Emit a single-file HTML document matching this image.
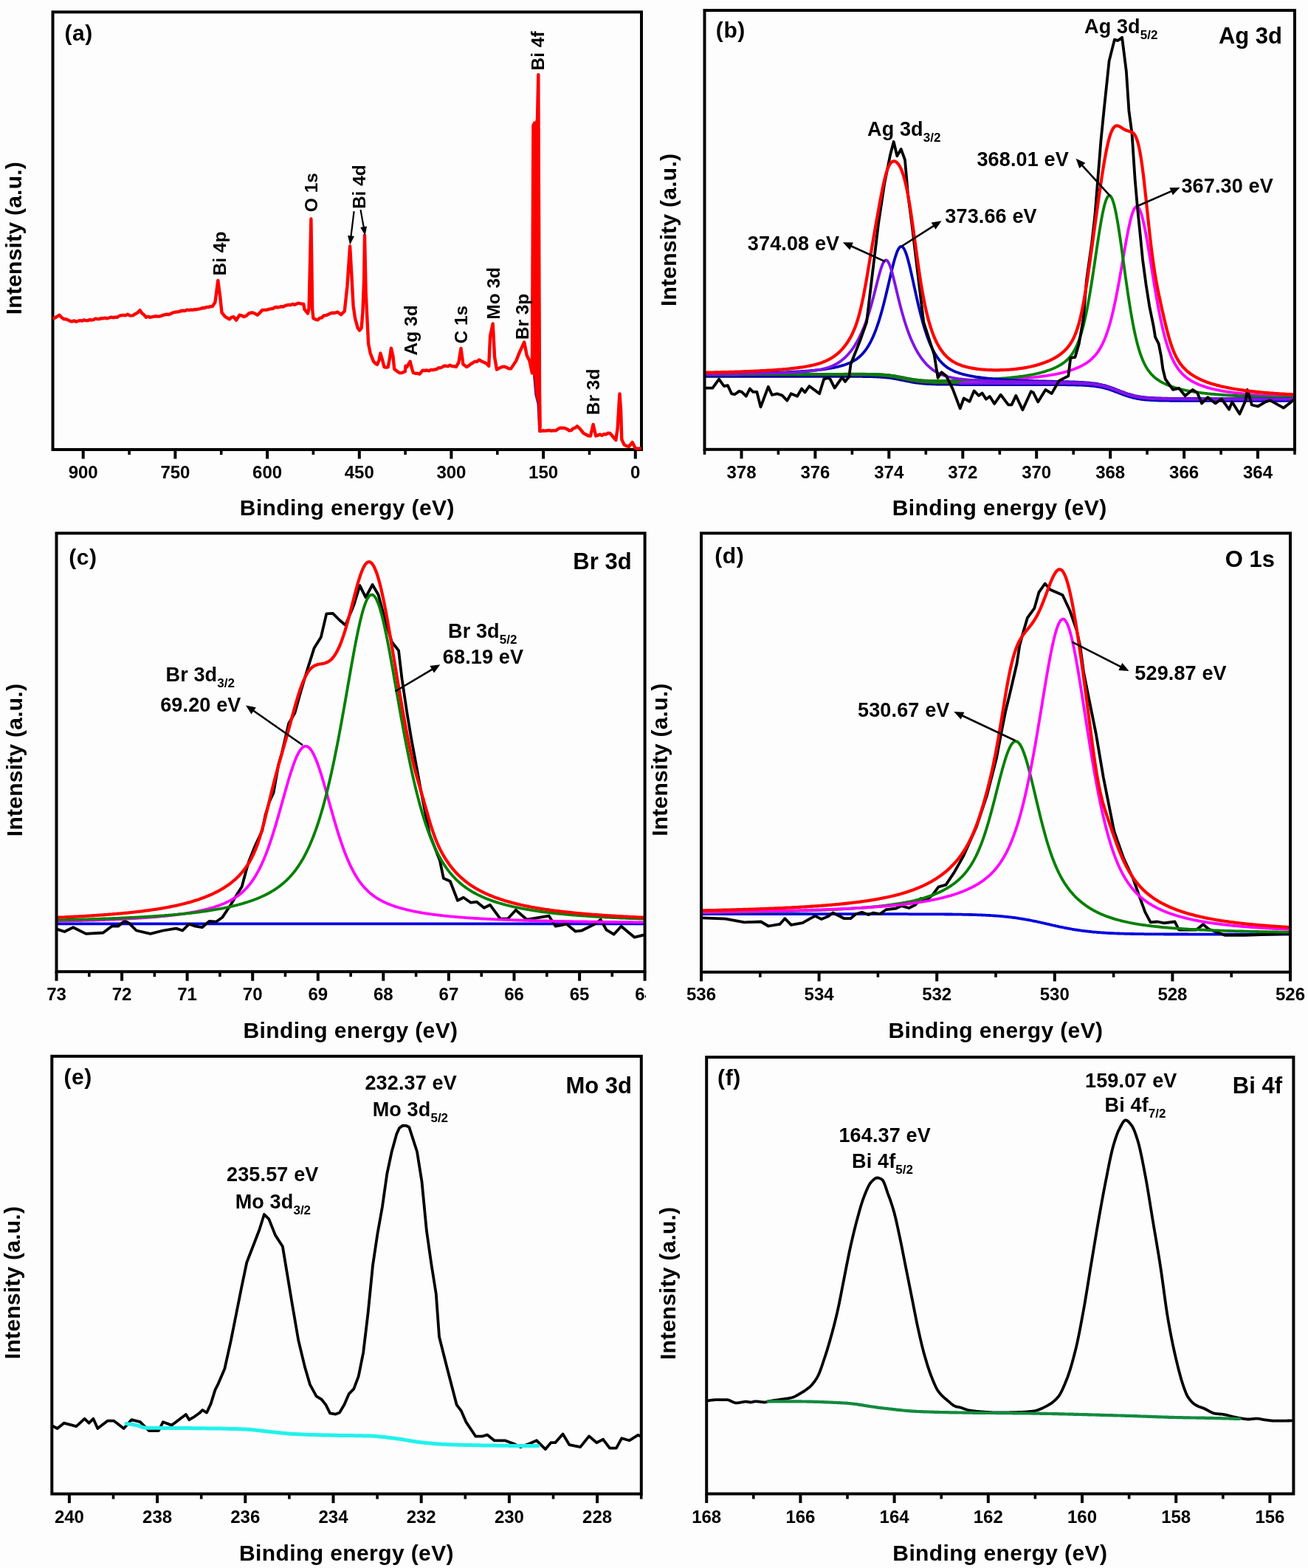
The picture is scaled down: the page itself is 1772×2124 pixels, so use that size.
<!DOCTYPE html>
<html><head><meta charset="utf-8"><title>XPS spectra</title>
<style>html,body{margin:0;padding:0;background:#fdfdfd;}svg{display:block;}</style></head>
<body>
<svg xmlns="http://www.w3.org/2000/svg" width="1772" height="2124" viewBox="0 0 1772 2124">
<rect width="1772" height="2124" fill="#fdfdfd"/>
<defs><clipPath id="clipc"><rect x="0" y="1320" width="875" height="60"/></clipPath></defs>
<g font-family="Liberation Sans, Arial, Helvetica, sans-serif" font-weight="bold" fill="#000">
<rect x="71.5" y="16.3" width="797.5" height="592.7" fill="none" stroke="#000" stroke-width="4"/>
<line x1="112.7" y1="609" x2="112.7" y2="621.5" stroke="#000" stroke-width="4"/>
<line x1="237.4" y1="609" x2="237.4" y2="621.5" stroke="#000" stroke-width="4"/>
<line x1="362.1" y1="609" x2="362.1" y2="621.5" stroke="#000" stroke-width="4"/>
<line x1="486.8" y1="609" x2="486.8" y2="621.5" stroke="#000" stroke-width="4"/>
<line x1="611.4" y1="609" x2="611.4" y2="621.5" stroke="#000" stroke-width="4"/>
<line x1="736.1" y1="609" x2="736.1" y2="621.5" stroke="#000" stroke-width="4"/>
<line x1="860.8" y1="609" x2="860.8" y2="621.5" stroke="#000" stroke-width="4"/>
<line x1="175.1" y1="609" x2="175.1" y2="616" stroke="#000" stroke-width="3.6"/>
<line x1="299.7" y1="609" x2="299.7" y2="616" stroke="#000" stroke-width="3.6"/>
<line x1="424.4" y1="609" x2="424.4" y2="616" stroke="#000" stroke-width="3.6"/>
<line x1="549.1" y1="609" x2="549.1" y2="616" stroke="#000" stroke-width="3.6"/>
<line x1="673.8" y1="609" x2="673.8" y2="616" stroke="#000" stroke-width="3.6"/>
<line x1="798.5" y1="609" x2="798.5" y2="616" stroke="#000" stroke-width="3.6"/>
<text x="112.7" y="647.5" font-size="24" text-anchor="middle" >900</text>
<text x="237.4" y="647.5" font-size="24" text-anchor="middle" >750</text>
<text x="362.1" y="647.5" font-size="24" text-anchor="middle" >600</text>
<text x="486.8" y="647.5" font-size="24" text-anchor="middle" >450</text>
<text x="611.4" y="647.5" font-size="24" text-anchor="middle" >300</text>
<text x="736.1" y="647.5" font-size="24" text-anchor="middle" >150</text>
<text x="860.8" y="647.5" font-size="24" text-anchor="middle" >0</text>
<text x="470.3" y="697.8" font-size="30" text-anchor="middle" letter-spacing="0.4">Binding energy (eV)</text>
<text x="29" y="322.6" font-size="30" text-anchor="middle" transform="rotate(-90 29 322.6)" letter-spacing="0.25">Intensity (a.u.)</text>
<text x="87.5" y="55.3" font-size="30" text-anchor="start" letter-spacing="0.6">(a)</text>
<polygon points="721.2,505 722.4,170 724.6,166 726.6,160 727.6,110 729.3,101 731.4,300 732.8,516 733.8,578 732.5,584 729.3,578 727.8,547 724.8,535 722.3,509" fill="#f00"/>
<polyline points="722.8,508.6 725,535.2 728.1,546.7 729.6,577.1 732,582.5" fill="none" stroke="#4a1070" stroke-width="1.6" stroke-opacity="0.75"/>
<path d="M73.5,431 L77,429 L80.4,426.7 L83.4,429.9 L86.4,432.2 L89.2,432.3 L92,433.4 L94.8,434.9 L97.6,435.5 L100.4,434.4 L103.2,435.8 L105.8,434.8 L108.4,434.2 L111,434.7 L113.6,433.5 L116.2,434.1 L118.9,434.2 L121.5,433 L124.1,433.6 L126.7,433.1 L129.3,431.5 L131.9,432.2 L134.6,432.1 L137.2,431.1 L139.9,431.2 L142.6,430.7 L145.2,431.3 L147.9,430.5 L150.6,429.6 L153.2,430.2 L155.9,429.8 L158.7,429.8 L161.5,428 L164.3,427.2 L167.1,426.9 L169.9,427.4 L172.7,425.8 L176.3,427.6 L179.9,427.4 L183.1,425.4 L186.3,423.6 L189.5,420.3 L192.3,424.2 L195.1,426.4 L197.9,429.8 L200.5,428.7 L203,429.8 L205.6,429.4 L208.1,428.8 L210.7,428.3 L213.2,428.6 L215.8,428.6 L218.5,427.9 L221.1,426.8 L223.8,426.1 L226.5,425.8 L229.1,426.1 L231.8,424.8 L234.5,423.5 L237.1,422.8 L239.8,422.6 L242.5,422.1 L245.1,421.2 L247.8,420.8 L250.5,421.1 L253.1,419.7 L255.8,420.2 L258.5,419.6 L261.1,419.9 L263.8,419.1 L266.5,419.2 L269.1,418.6 L271.8,418.1 L274.5,417 L277.1,417.2 L279.8,416 L282.5,416.1 L285.1,415.1 L287.8,415 L291.4,409.5 L295.3,380 L298.3,402.8 L300.5,423.4 L305.1,429.1 L308,430.7 L310.8,432.5 L313.6,429.8 L316.5,429.1 L320,433.7 L324.5,426.8 L327.4,427.4 L330.2,429.1 L333.6,427.8 L337.1,424.5 L341.6,423.4 L345.1,424.5 L348.5,426.8 L351.9,423.8 L355.3,420 L358.4,419.9 L361.4,419.7 L364.5,418.8 L367,418.3 L369.5,418.1 L372,416.5 L374.5,416 L377,416.5 L380.4,415.3 L383.7,415.5 L386.2,414.1 L388.8,413.4 L391.3,412.9 L393.9,413.2 L396.4,411.8 L398.9,412.9 L401.5,411.7 L404,410.7 L407.6,411.4 L411.3,412 L412.4,418.8 L417,424.5 L418.6,418 L421.4,296.5 L423.2,419 L424.4,431 L427.4,432.7 L430.4,433.4 L433.2,430.9 L436,430.3 L438.8,427.4 L441.6,427.2 L444.4,426.1 L447.2,424.7 L450,423.8 L453.6,424 L457.2,422.6 L462,426.2 L466.8,421.5 L470.4,387.9 L474.1,333.5 L476.2,370 L478.6,414.2 L481.1,431.4 L484.6,444.2 L487.1,447.6 L489.7,444.2 L491.4,422.8 L493.1,380 L494,319 L495.7,397.1 L497.4,431.4 L499.1,465.6 L501.7,478.5 L506,489.6 L508.6,492.3 L511.1,493.9 L513.5,488 L515.4,478.5 L517.9,487 L520.5,497.3 L523.1,497.7 L525.7,497.3 L528,485 L529.9,471.6 L532.5,482.7 L534.2,499.9 L538.5,503.3 L541.5,505.1 L544.5,505 L548.8,503.3 L549.6,495.6 L551.5,497 L553,493.9 L555.6,489.6 L558.2,499.9 L559.9,505 L562.8,505.9 L565.6,505.8 L568.5,506.7 L572.7,501.6 L575.6,502 L578.4,501.5 L581.3,502.4 L583.9,500.9 L586.4,501.2 L589,500.5 L591.5,500.1 L594.1,498.2 L596.7,498.4 L599.3,497.1 L601.9,495.5 L604.4,495.8 L607,496.2 L609.6,494.7 L612.3,496.1 L615.1,496.2 L617.8,497 L621.4,491 L624.5,472 L627.4,493.4 L632.2,497 L635,495.3 L637.8,493.2 L640.6,491.5 L643.4,489.7 L646.2,489.9 L649,487.4 L652.6,489.5 L656.2,491 L659.2,492.6 L662.2,495.8 L664.1,455 L667.7,438.5 L670.1,483.8 L673,500.6 L676.6,498.6 L680.2,497 L683.2,496.6 L686.2,497.6 L689.2,499.3 L692.2,499.4 L699.3,488.6 L704.1,476.6 L710.2,463.5 L713.7,481.4 L717.3,488.6 L720.9,505.4 L722.4,170 L724.2,166.5 L725.6,420 L727.2,200 L729.3,101.3 L731.2,584 L735.3,583.3 L738.2,583.6 L741.1,583.3 L743.9,582.8 L746.8,583.6 L749.7,583.3 L752.7,583.4 L755.7,581.4 L758.7,579.7 L761.7,579.7 L764.9,579.9 L768.1,581.2 L771.3,583.3 L774,582.8 L776.6,580.4 L779.3,579.5 L782,577.3 L784.8,579.8 L787.6,583.2 L790.4,586.9 L793.6,588.5 L796.8,590.2 L800,590.5 L803.6,575 L807.2,590.5 L809.9,589.6 L812.7,588.5 L815.4,589.8 L818.2,588 L820.9,588.5 L823.7,586.7 L826.4,586.9 L831.2,592.5 L834.3,596.2 L836.7,579.9 L838.3,551.9 L839.5,533.5 L841.1,555.9 L842.3,595.4 L845.5,602.3 L848.7,604.1 L851.9,605 L856.7,599.1 L860.5,606.8 L863.8,607.8 L867,607.3" fill="none" stroke="#ff0000" stroke-width="4.4" stroke-linejoin="round" stroke-linecap="round" />
<text x="306.3" y="373.5" font-size="24.5" text-anchor="start" transform="rotate(-90 306.3 373.5)" >Bi 4p</text>
<text x="429.6" y="287.2" font-size="24.5" text-anchor="start" transform="rotate(-90 429.6 287.2)" >O 1s</text>
<text x="494.7" y="283.1" font-size="24.5" text-anchor="start" transform="rotate(-90 494.7 283.1)" >Bi 4d</text>
<text x="565.5" y="481.4" font-size="24.5" text-anchor="start" transform="rotate(-90 565.5 481.4)" >Ag 3d</text>
<text x="632.6" y="465.6" font-size="24.5" text-anchor="start" transform="rotate(-90 632.6 465.6)" >C 1s</text>
<text x="677" y="432.7" font-size="24.5" text-anchor="start" transform="rotate(-90 677 432.7)" >Mo 3d</text>
<text x="716.4" y="460.3" font-size="24.5" text-anchor="start" transform="rotate(-90 716.4 460.3)" >Br 3p</text>
<text x="812.4" y="562.2" font-size="24.5" text-anchor="start" transform="rotate(-90 812.4 562.2)" >Br 3d</text>
<text x="737" y="95.4" font-size="24.5" text-anchor="start" transform="rotate(-90 737 95.4)" >Bi 4f</text>
<line x1="479.6" y1="286.2" x2="475.3" y2="321.5" stroke="#000" stroke-width="2.2"/>
<polygon points="474.1,331.4 471.1,318.9 480,320" fill="#000"/>
<line x1="488.5" y1="284.1" x2="493" y2="309.2" stroke="#000" stroke-width="2.2"/>
<polygon points="494.7,319 488.2,308 497,306.4" fill="#000"/>
<path d="M956.5,510 L958,510 L959.5,510 L961,510 L962.5,510 L964,510 L965.5,510 L967,510 L968.5,510 L970,510 L971.5,510 L973,510 L974.5,510 L976,510 L977.5,510 L979,510 L980.5,510 L982,510 L983.5,510 L985,510 L986.5,510 L988,510 L989.5,510 L991,510 L992.5,510 L994,510 L995.5,510 L997,510 L998.5,510 L1000,510 L1001.5,510 L1003,510 L1004.5,510 L1006,510 L1007.5,510 L1009,510 L1010.5,510 L1012,510 L1013.5,510 L1015,510 L1016.5,510 L1018,510 L1019.5,510 L1021,510 L1022.5,510 L1024,510 L1025.5,510 L1027,510 L1028.5,510 L1030,510 L1031.5,510 L1033,510 L1034.5,510 L1036,510 L1037.5,510 L1039,510 L1040.5,510 L1042,510 L1043.5,510 L1045,510 L1046.5,510 L1048,510 L1049.5,510 L1051,510 L1052.5,510 L1054,510 L1055.5,510 L1057,510 L1058.5,510 L1060,510 L1061.5,510 L1063,510 L1064.5,510 L1066,510 L1067.5,510 L1069,510 L1070.5,510 L1072,510 L1073.5,510 L1075,510 L1076.5,510 L1078,510 L1079.5,510 L1081,510 L1082.5,510 L1084,510 L1085.5,510 L1087,510 L1088.5,510 L1090,510 L1091.5,510 L1093,510 L1094.5,510 L1096,510 L1097.5,510 L1099,510 L1100.5,510 L1102,510 L1103.5,510 L1105,510 L1106.5,510 L1108,510 L1109.5,510 L1111,510 L1112.5,510 L1114,510 L1115.5,510 L1117,510 L1118.5,510 L1120,510 L1121.5,510 L1123,510 L1124.5,510 L1126,510 L1127.5,510 L1129,510 L1130.5,510 L1132,510 L1133.5,510 L1135,510 L1136.5,510 L1138,510 L1139.5,510 L1141,510 L1142.5,510 L1144,510 L1145.5,510 L1147,510 L1148.5,510 L1150,510 L1151.5,510 L1153,510 L1154.5,510.1 L1156,510.1 L1157.5,510.1 L1159,510.1 L1160.5,510.1 L1162,510.1 L1163.5,510.1 L1165,510.1 L1166.5,510.1 L1168,510.1 L1169.5,510.2 L1171,510.2 L1172.5,510.2 L1174,510.2 L1175.5,510.3 L1177,510.3 L1178.5,510.3 L1180,510.4 L1181.5,510.4 L1183,510.5 L1184.5,510.5 L1186,510.6 L1187.5,510.6 L1189,510.7 L1190.5,510.8 L1192,510.9 L1193.5,511 L1195,511.1 L1196.5,511.2 L1198,511.3 L1199.5,511.5 L1201,511.6 L1202.5,511.8 L1204,511.9 L1205.5,512.1 L1207,512.3 L1208.5,512.6 L1210,512.8 L1211.5,513 L1213,513.3 L1214.5,513.6 L1216,513.9 L1217.5,514.2 L1219,514.5 L1220.5,514.8 L1222,515.1 L1223.5,515.4 L1225,515.7 L1226.5,516 L1228,516.3 L1229.5,516.6 L1231,516.9 L1232.5,517.2 L1234,517.5 L1235.5,517.8 L1237,518 L1238.5,518.3 L1240,518.5 L1241.5,518.7 L1243,518.9 L1244.5,519.1 L1246,519.3 L1247.5,519.4 L1249,519.6 L1250.5,519.7 L1252,519.9 L1253.5,520 L1255,520.1 L1256.5,520.2 L1258,520.3 L1259.5,520.3 L1261,520.4 L1262.5,520.5 L1264,520.5 L1265.5,520.6 L1267,520.6 L1268.5,520.7 L1270,520.7 L1271.5,520.7 L1273,520.8 L1274.5,520.8 L1276,520.8 L1277.5,520.8 L1279,520.8 L1280.5,520.9 L1282,520.9 L1283.5,520.9 L1285,520.9 L1286.5,520.9 L1288,520.9 L1289.5,520.9 L1291,520.9 L1292.5,520.9 L1294,520.9 L1295.5,521 L1297,521 L1298.5,521 L1300,521 L1301.5,521 L1303,521" fill="none" stroke="#000099" stroke-width="3.4" stroke-linejoin="round" stroke-linecap="round" />
<path d="M956.5,507.5 L958,507.5 L959.5,507.5 L961,507.5 L962.5,507.5 L964,507.5 L965.5,507.5 L967,507.5 L968.5,507.5 L970,507.5 L971.5,507.5 L973,507.5 L974.5,507.5 L976,507.5 L977.5,507.5 L979,507.5 L980.5,507.5 L982,507.5 L983.5,507.5 L985,507.5 L986.5,507.5 L988,507.5 L989.5,507.5 L991,507.5 L992.5,507.5 L994,507.5 L995.5,507.5 L997,507.5 L998.5,507.5 L1000,507.5 L1001.5,507.5 L1003,507.5 L1004.5,507.5 L1006,507.5 L1007.5,507.5 L1009,507.5 L1010.5,507.5 L1012,507.5 L1013.5,507.5 L1015,507.5 L1016.5,507.5 L1018,507.5 L1019.5,507.5 L1021,507.5 L1022.5,507.5 L1024,507.5 L1025.5,507.5 L1027,507.5 L1028.5,507.5 L1030,507.5 L1031.5,507.5 L1033,507.5 L1034.5,507.5 L1036,507.5 L1037.5,507.5 L1039,507.5 L1040.5,507.5 L1042,507.5 L1043.5,507.5 L1045,507.5 L1046.5,507.5 L1048,507.5 L1049.5,507.5 L1051,507.5 L1052.5,507.5 L1054,507.5 L1055.5,507.5 L1057,507.5 L1058.5,507.5 L1060,507.5 L1061.5,507.5 L1063,507.5 L1064.5,507.5 L1066,507.5 L1067.5,507.5 L1069,507.5 L1070.5,507.5 L1072,507.5 L1073.5,507.5 L1075,507.5 L1076.5,507.5 L1078,507.5 L1079.5,507.5 L1081,507.5 L1082.5,507.5 L1084,507.5 L1085.5,507.5 L1087,507.5 L1088.5,507.5 L1090,507.5 L1091.5,507.5 L1093,507.5 L1094.5,507.5 L1096,507.5 L1097.5,507.5 L1099,507.5 L1100.5,507.5 L1102,507.5 L1103.5,507.5 L1105,507.5 L1106.5,507.5 L1108,507.5 L1109.5,507.5 L1111,507.5 L1112.5,507.5 L1114,507.5 L1115.5,507.5 L1117,507.5 L1118.5,507.5 L1120,507.5 L1121.5,507.5 L1123,507.5 L1124.5,507.5 L1126,507.5 L1127.5,507.5 L1129,507.5 L1130.5,507.5 L1132,507.5 L1133.5,507.5 L1135,507.5 L1136.5,507.5 L1138,507.5 L1139.5,507.5 L1141,507.5 L1142.5,507.5 L1144,507.5 L1145.5,507.5 L1147,507.5 L1148.5,507.5 L1150,507.5 L1151.5,507.5 L1153,507.5 L1154.5,507.6 L1156,507.6 L1157.5,507.6 L1159,507.6 L1160.5,507.6 L1162,507.6 L1163.5,507.6 L1165,507.6 L1166.5,507.6 L1168,507.6 L1169.5,507.7 L1171,507.7 L1172.5,507.7 L1174,507.7 L1175.5,507.8 L1177,507.8 L1178.5,507.8 L1180,507.9 L1181.5,507.9 L1183,508 L1184.5,508 L1186,508.1 L1187.5,508.1 L1189,508.2 L1190.5,508.3 L1192,508.4 L1193.5,508.5 L1195,508.6 L1196.5,508.7 L1198,508.8 L1199.5,509 L1201,509.1 L1202.5,509.3 L1204,509.4 L1205.5,509.6 L1207,509.8 L1208.5,510.1 L1210,510.3 L1211.5,510.5 L1213,510.8 L1214.5,511.1 L1216,511.4 L1217.5,511.7 L1219,512 L1220.5,512.3 L1222,512.6 L1223.5,512.9 L1225,513.2 L1226.5,513.5 L1228,513.8 L1229.5,514.1 L1231,514.4 L1232.5,514.7 L1234,515 L1235.5,515.3 L1237,515.5 L1238.5,515.8 L1240,516 L1241.5,516.2 L1243,516.4 L1244.5,516.6 L1246,516.8 L1247.5,516.9 L1249,517.1 L1250.5,517.2 L1252,517.4 L1253.5,517.5 L1255,517.6 L1256.5,517.7 L1258,517.8 L1259.5,517.8 L1261,517.9 L1262.5,518 L1264,518 L1265.5,518.1 L1267,518.1 L1268.5,518.2 L1270,518.2 L1271.5,518.2 L1273,518.3 L1274.5,518.3 L1276,518.3 L1277.5,518.3 L1279,518.3 L1280.5,518.4 L1282,518.4 L1283.5,518.4 L1285,518.4 L1286.5,518.4 L1288,518.4 L1289.5,518.4 L1291,518.4 L1292.5,518.4 L1294,518.4 L1295.5,518.5 L1297,518.5 L1298.5,518.5 L1300,518.5 L1301.5,518.5 L1303,518.5" fill="none" stroke="#008000" stroke-width="3.6" stroke-linejoin="round" stroke-linecap="round" />
<path d="M1300,521.3 L1301.5,521.3 L1303,521.3 L1304.5,521.3 L1306,521.3 L1307.5,521.3 L1309,521.3 L1310.5,521.3 L1312,521.3 L1313.5,521.3 L1315,521.3 L1316.5,521.3 L1318,521.3 L1319.5,521.3 L1321,521.3 L1322.5,521.3 L1324,521.3 L1325.5,521.3 L1327,521.3 L1328.5,521.3 L1330,521.3 L1331.5,521.3 L1333,521.3 L1334.5,521.3 L1336,521.3 L1337.5,521.3 L1339,521.3 L1340.5,521.3 L1342,521.3 L1343.5,521.3 L1345,521.3 L1346.5,521.3 L1348,521.3 L1349.5,521.3 L1351,521.3 L1352.5,521.3 L1354,521.3 L1355.5,521.3 L1357,521.3 L1358.5,521.3 L1360,521.3 L1361.5,521.3 L1363,521.3 L1364.5,521.3 L1366,521.3 L1367.5,521.3 L1369,521.3 L1370.5,521.3 L1372,521.3 L1373.5,521.3 L1375,521.3 L1376.5,521.3 L1378,521.3 L1379.5,521.3 L1381,521.3 L1382.5,521.3 L1384,521.3 L1385.5,521.3 L1387,521.3 L1388.5,521.3 L1390,521.3 L1391.5,521.3 L1393,521.3 L1394.5,521.3 L1396,521.3 L1397.5,521.3 L1399,521.3 L1400.5,521.3 L1402,521.3 L1403.5,521.3 L1405,521.3 L1406.5,521.3 L1408,521.3 L1409.5,521.3 L1411,521.3 L1412.5,521.3 L1414,521.3 L1415.5,521.3 L1417,521.3 L1418.5,521.3 L1420,521.3 L1421.5,521.3 L1423,521.3 L1424.5,521.3 L1426,521.3 L1427.5,521.3 L1429,521.3 L1430.5,521.4 L1432,521.4 L1433.5,521.4 L1435,521.4 L1436.5,521.4 L1438,521.4 L1439.5,521.4 L1441,521.4 L1442.5,521.4 L1444,521.4 L1445.5,521.5 L1447,521.5 L1448.5,521.5 L1450,521.5 L1451.5,521.5 L1453,521.6 L1454.5,521.6 L1456,521.6 L1457.5,521.7 L1459,521.7 L1460.5,521.7 L1462,521.8 L1463.5,521.8 L1465,521.9 L1466.5,522 L1468,522 L1469.5,522.1 L1471,522.2 L1472.5,522.3 L1474,522.4 L1475.5,522.5 L1477,522.7 L1478.5,522.8 L1480,523 L1481.5,523.1 L1483,523.3 L1484.5,523.5 L1486,523.7 L1487.5,524 L1489,524.2 L1490.5,524.5 L1492,524.8 L1493.5,525.2 L1495,525.5 L1496.5,525.9 L1498,526.3 L1499.5,526.7 L1501,527.2 L1502.5,527.6 L1504,528.1 L1505.5,528.6 L1507,529.2 L1508.5,529.7 L1510,530.3 L1511.5,530.8 L1513,531.4 L1514.5,532 L1516,532.6 L1517.5,533.2 L1519,533.7 L1520.5,534.3 L1522,534.9 L1523.5,535.4 L1525,535.9 L1526.5,536.4 L1528,536.9 L1529.5,537.4 L1531,537.8 L1532.5,538.2 L1534,538.6 L1535.5,539 L1537,539.4 L1538.5,539.7 L1540,540 L1541.5,540.2 L1543,540.5 L1544.5,540.7 L1546,541 L1547.5,541.2 L1549,541.3 L1550.5,541.5 L1552,541.7 L1553.5,541.8 L1555,541.9 L1556.5,542 L1558,542.1 L1559.5,542.2 L1561,542.3 L1562.5,542.4 L1564,542.5 L1565.5,542.5 L1567,542.6 L1568.5,542.6 L1570,542.7 L1571.5,542.7 L1573,542.8 L1574.5,542.8 L1576,542.8 L1577.5,542.9 L1579,542.9 L1580.5,542.9 L1582,542.9 L1583.5,542.9 L1585,543 L1586.5,543 L1588,543 L1589.5,543 L1591,543 L1592.5,543 L1594,543 L1595.5,543 L1597,543 L1598.5,543 L1600,543 L1601.5,543.1 L1603,543.1 L1604.5,543.1 L1606,543.1 L1607.5,543.1 L1609,543.1 L1610.5,543.1 L1612,543.1 L1613.5,543.1 L1615,543.1 L1616.5,543.1 L1618,543.1 L1619.5,543.1 L1621,543.1 L1622.5,543.1 L1624,543.1 L1625.5,543.1 L1627,543.1 L1628.5,543.1 L1630,543.1 L1631.5,543.1 L1633,543.1 L1634.5,543.1 L1636,543.1 L1637.5,543.1 L1639,543.1 L1640.5,543.1 L1642,543.1 L1643.5,543.1 L1645,543.1 L1646.5,543.1 L1648,543.1 L1649.5,543.1 L1651,543.1 L1652.5,543.1 L1654,543.1 L1655.5,543.1 L1657,543.1 L1658.5,543.1 L1660,543.1 L1661.5,543.1 L1663,543.1 L1664.5,543.1 L1666,543.1 L1667.5,543.1 L1669,543.1 L1670.5,543.1 L1672,543.1 L1673.5,543.1 L1675,543.1 L1676.5,543.1 L1678,543.1 L1679.5,543.1 L1681,543.1 L1682.5,543.1 L1684,543.1 L1685.5,543.1 L1687,543.1 L1688.5,543.1 L1690,543.1 L1691.5,543.1 L1693,543.1 L1694.5,543.1 L1696,543.1 L1697.5,543.1 L1699,543.1 L1700.5,543.1 L1702,543.1 L1703.5,543.1 L1705,543.1 L1706.5,543.1 L1708,543.1 L1709.5,543.1 L1711,543.1 L1712.5,543.1 L1714,543.1 L1715.5,543.1 L1717,543.1 L1718.5,543.1 L1720,543.1 L1721.5,543.1 L1723,543.1 L1724.5,543.1 L1726,543.1 L1727.5,543.1 L1729,543.1 L1730.5,543.1 L1732,543.1 L1733.5,543.1 L1735,543.1 L1736.5,543.1 L1738,543.1 L1739.5,543.1 L1741,543.1 L1742.5,543.1 L1744,543.1 L1745.5,543.1 L1747,543.1 L1748.5,543.1 L1750,543.1 L1751.5,543.1 L1752,543.1" fill="none" stroke="#0000bb" stroke-width="3.4" stroke-linejoin="round" stroke-linecap="round" />
<path d="M1300,519.1 L1301.5,519.1 L1303,519.1 L1304.5,519.1 L1306,519.1 L1307.5,519.1 L1309,519.1 L1310.5,519.1 L1312,519.1 L1313.5,519.1 L1315,519.1 L1316.5,519.1 L1318,519.1 L1319.5,519.1 L1321,519.1 L1322.5,519.1 L1324,519.1 L1325.5,519.1 L1327,519.1 L1328.5,519.1 L1330,519.1 L1331.5,519.1 L1333,519.1 L1334.5,519.1 L1336,519.1 L1337.5,519.1 L1339,519.1 L1340.5,519.1 L1342,519.1 L1343.5,519.1 L1345,519.1 L1346.5,519.1 L1348,519.1 L1349.5,519.1 L1351,519.1 L1352.5,519.1 L1354,519.1 L1355.5,519.1 L1357,519.1 L1358.5,519.1 L1360,519.1 L1361.5,519.1 L1363,519.1 L1364.5,519.1 L1366,519.1 L1367.5,519.1 L1369,519.1 L1370.5,519.1 L1372,519.1 L1373.5,519.1 L1375,519.1 L1376.5,519.1 L1378,519.1 L1379.5,519.1 L1381,519.1 L1382.5,519.1 L1384,519.1 L1385.5,519.1 L1387,519.1 L1388.5,519.1 L1390,519.1 L1391.5,519.1 L1393,519.1 L1394.5,519.1 L1396,519.1 L1397.5,519.1 L1399,519.1 L1400.5,519.1 L1402,519.1 L1403.5,519.1 L1405,519.1 L1406.5,519.1 L1408,519.1 L1409.5,519.1 L1411,519.1 L1412.5,519.1 L1414,519.1 L1415.5,519.1 L1417,519.1 L1418.5,519.1 L1420,519.1 L1421.5,519.1 L1423,519.1 L1424.5,519.1 L1426,519.1 L1427.5,519.1 L1429,519.1 L1430.5,519.2 L1432,519.2 L1433.5,519.2 L1435,519.2 L1436.5,519.2 L1438,519.2 L1439.5,519.2 L1441,519.2 L1442.5,519.2 L1444,519.2 L1445.5,519.3 L1447,519.3 L1448.5,519.3 L1450,519.3 L1451.5,519.3 L1453,519.4 L1454.5,519.4 L1456,519.4 L1457.5,519.5 L1459,519.5 L1460.5,519.5 L1462,519.6 L1463.5,519.6 L1465,519.7 L1466.5,519.8 L1468,519.8 L1469.5,519.9 L1471,520 L1472.5,520.1 L1474,520.2 L1475.5,520.3 L1477,520.5 L1478.5,520.6 L1480,520.8 L1481.5,520.9 L1483,521.1 L1484.5,521.3 L1486,521.5 L1487.5,521.8 L1489,522 L1490.5,522.3 L1492,522.6 L1493.5,523 L1495,523.3 L1496.5,523.7 L1498,524.1 L1499.5,524.5 L1501,525 L1502.5,525.4 L1504,525.9 L1505.5,526.4 L1507,527 L1508.5,527.5 L1510,528.1 L1511.5,528.6 L1513,529.2 L1514.5,529.8 L1516,530.4 L1517.5,531 L1519,531.5 L1520.5,532.1 L1522,532.7 L1523.5,533.2 L1525,533.7 L1526.5,534.2 L1528,534.7 L1529.5,535.2 L1531,535.6 L1532.5,536 L1534,536.4 L1535.5,536.8 L1537,537.2 L1538.5,537.5 L1540,537.8 L1541.5,538 L1543,538.3 L1544.5,538.5 L1546,538.8 L1547.5,539 L1549,539.1 L1550.5,539.3 L1552,539.5 L1553.5,539.6 L1555,539.7 L1556.5,539.8 L1558,539.9 L1559.5,540 L1561,540.1 L1562.5,540.2 L1564,540.3 L1565.5,540.3 L1567,540.4 L1568.5,540.4 L1570,540.5 L1571.5,540.5 L1573,540.6 L1574.5,540.6 L1576,540.6 L1577.5,540.7 L1579,540.7 L1580.5,540.7 L1582,540.7 L1583.5,540.7 L1585,540.8 L1586.5,540.8 L1588,540.8 L1589.5,540.8 L1591,540.8 L1592.5,540.8 L1594,540.8 L1595.5,540.8 L1597,540.8 L1598.5,540.8 L1600,540.8 L1601.5,540.9 L1603,540.9 L1604.5,540.9 L1606,540.9 L1607.5,540.9 L1609,540.9 L1610.5,540.9 L1612,540.9 L1613.5,540.9 L1615,540.9 L1616.5,540.9 L1618,540.9 L1619.5,540.9 L1621,540.9 L1622.5,540.9 L1624,540.9 L1625.5,540.9 L1627,540.9 L1628.5,540.9 L1630,540.9 L1631.5,540.9 L1633,540.9 L1634.5,540.9 L1636,540.9 L1637.5,540.9 L1639,540.9 L1640.5,540.9 L1642,540.9 L1643.5,540.9 L1645,540.9 L1646.5,540.9 L1648,540.9 L1649.5,540.9 L1651,540.9 L1652.5,540.9 L1654,540.9 L1655.5,540.9 L1657,540.9 L1658.5,540.9 L1660,540.9 L1661.5,540.9 L1663,540.9 L1664.5,540.9 L1666,540.9 L1667.5,540.9 L1669,540.9 L1670.5,540.9 L1672,540.9 L1673.5,540.9 L1675,540.9 L1676.5,540.9 L1678,540.9 L1679.5,540.9 L1681,540.9 L1682.5,540.9 L1684,540.9 L1685.5,540.9 L1687,540.9 L1688.5,540.9 L1690,540.9 L1691.5,540.9 L1693,540.9 L1694.5,540.9 L1696,540.9 L1697.5,540.9 L1699,540.9 L1700.5,540.9 L1702,540.9 L1703.5,540.9 L1705,540.9 L1706.5,540.9 L1708,540.9 L1709.5,540.9 L1711,540.9 L1712.5,540.9 L1714,540.9 L1715.5,540.9 L1717,540.9 L1718.5,540.9 L1720,540.9 L1721.5,540.9 L1723,540.9 L1724.5,540.9 L1726,540.9 L1727.5,540.9 L1729,540.9 L1730.5,540.9 L1732,540.9 L1733.5,540.9 L1735,540.9 L1736.5,540.9 L1738,540.9 L1739.5,540.9 L1741,540.9 L1742.5,540.9 L1744,540.9 L1745.5,540.9 L1747,540.9 L1748.5,540.9 L1750,540.9 L1751.5,540.9 L1752,540.9" fill="none" stroke="#8014e6" stroke-width="3.6" stroke-linejoin="round" stroke-linecap="round" />
<path d="M956.5,507.3 L958,507.3 L959.5,507.3 L961,507.3 L962.5,507.3 L964,507.3 L965.5,507.3 L967,507.3 L968.5,507.3 L970,507.3 L971.5,507.3 L973,507.3 L974.5,507.3 L976,507.3 L977.5,507.3 L979,507.3 L980.5,507.3 L982,507.3 L983.5,507.3 L985,507.3 L986.5,507.3 L988,507.3 L989.5,507.3 L991,507.3 L992.5,507.3 L994,507.3 L995.5,507.3 L997,507.3 L998.5,507.3 L1000,507.3 L1001.5,507.3 L1003,507.3 L1004.5,507.3 L1006,507.2 L1007.5,507.2 L1009,507.2 L1010.5,507.2 L1012,507.2 L1013.5,507.2 L1015,507.2 L1016.5,507.2 L1018,507.2 L1019.5,507.2 L1021,507.2 L1022.5,507.2 L1024,507.2 L1025.5,507.2 L1027,507.2 L1028.5,507.2 L1030,507.2 L1031.5,507.2 L1033,507.2 L1034.5,507.2 L1036,507.2 L1037.5,507.2 L1039,507.2 L1040.5,507.2 L1042,507.2 L1043.5,507.2 L1045,507.2 L1046.5,507.2 L1048,507.2 L1049.5,507.1 L1051,507.1 L1052.5,507.1 L1054,507.1 L1055.5,507.1 L1057,507.1 L1058.5,507.1 L1060,507.1 L1061.5,507.1 L1063,507.1 L1064.5,507.1 L1066,507.1 L1067.5,507.1 L1069,507.1 L1070.5,507.1 L1072,507.1 L1073.5,507.1 L1075,507.1 L1076.5,507.1 L1078,507.1 L1079.5,507.1 L1081,507.1 L1082.5,507.1 L1084,507 L1085.5,507 L1087,507 L1088.5,507 L1090,507 L1091.5,507 L1093,507 L1094.5,507 L1096,507 L1097.5,507 L1099,507 L1100.5,507 L1102,507 L1103.5,507 L1105,507 L1106.5,507 L1108,507 L1109.5,507 L1111,506.9 L1112.5,506.9 L1114,506.9 L1115.5,506.9 L1117,506.9 L1118.5,506.9 L1120,506.9 L1121.5,506.9 L1123,506.9 L1124.5,506.9 L1126,506.9 L1127.5,506.9 L1129,506.9 L1130.5,506.9 L1132,506.9 L1133.5,506.9 L1135,506.9 L1136.5,506.9 L1138,506.8 L1139.5,506.8 L1141,506.8 L1142.5,506.8 L1144,506.8 L1145.5,506.8 L1147,506.8 L1148.5,506.8 L1150,506.8 L1151.5,506.8 L1153,506.8 L1154.5,506.8 L1156,506.8 L1157.5,506.8 L1159,506.8 L1160.5,506.8 L1162,506.8 L1163.5,506.8 L1165,506.8 L1166.5,506.8 L1168,506.8 L1169.5,506.8 L1171,506.8 L1172.5,506.8 L1174,506.9 L1175.5,506.9 L1177,506.9 L1178.5,506.9 L1180,507 L1181.5,507 L1183,507 L1184.5,507.1 L1186,507.1 L1187.5,507.2 L1189,507.2 L1190.5,507.3 L1192,507.4 L1193.5,507.5 L1195,507.6 L1196.5,507.7 L1198,507.8 L1199.5,507.9 L1201,508 L1202.5,508.2 L1204,508.4 L1205.5,508.5 L1207,508.7 L1208.5,508.9 L1210,509.2 L1211.5,509.4 L1213,509.6 L1214.5,509.9 L1216,510.2 L1217.5,510.5 L1219,510.7 L1220.5,511 L1222,511.3 L1223.5,511.6 L1225,511.9 L1226.5,512.2 L1228,512.5 L1229.5,512.8 L1231,513.1 L1232.5,513.4 L1234,513.7 L1235.5,513.9 L1237,514.1 L1238.5,514.4 L1240,514.6 L1241.5,514.8 L1243,515 L1244.5,515.1 L1246,515.3 L1247.5,515.4 L1249,515.6 L1250.5,515.7 L1252,515.8 L1253.5,515.9 L1255,516 L1256.5,516 L1258,516.1 L1259.5,516.2 L1261,516.2 L1262.5,516.2 L1264,516.3 L1265.5,516.3 L1267,516.3 L1268.5,516.3 L1270,516.4 L1271.5,516.4 L1273,516.4 L1274.5,516.4 L1276,516.4 L1277.5,516.4 L1279,516.4 L1280.5,516.4 L1282,516.3 L1283.5,516.3 L1285,516.3 L1286.5,516.3 L1288,516.3 L1289.5,516.3 L1291,516.2 L1292.5,516.2 L1294,516.2 L1295.5,516.2 L1297,516.1 L1298.5,516.1 L1300,516.1 L1301.5,516.1 L1303,516 L1304.5,516 L1306,516 L1307.5,515.9 L1309,515.9 L1310.5,515.9 L1312,515.8 L1313.5,515.8 L1315,515.7 L1316.5,515.7 L1318,515.7 L1319.5,515.6 L1321,515.6 L1322.5,515.5 L1324,515.5 L1325.5,515.4 L1327,515.4 L1328.5,515.4 L1330,515.3 L1331.5,515.3 L1333,515.2 L1334.5,515.2 L1336,515.1 L1337.5,515.1 L1339,515 L1340.5,514.9 L1342,514.9 L1343.5,514.8 L1345,514.8 L1346.5,514.7 L1348,514.6 L1349.5,514.6 L1351,514.5 L1352.5,514.4 L1354,514.4 L1355.5,514.3 L1357,514.2 L1358.5,514.2 L1360,514.1 L1361.5,514 L1363,513.9 L1364.5,513.9 L1366,513.8 L1367.5,513.7 L1369,513.6 L1370.5,513.5 L1372,513.4 L1373.5,513.3 L1375,513.2 L1376.5,513.1 L1378,513 L1379.5,512.9 L1381,512.8 L1382.5,512.7 L1384,512.6 L1385.5,512.5 L1387,512.4 L1388.5,512.2 L1390,512.1 L1391.5,512 L1393,511.9 L1394.5,511.7 L1396,511.6 L1397.5,511.4 L1399,511.3 L1400.5,511.1 L1402,511 L1403.5,510.8 L1405,510.6 L1406.5,510.5 L1408,510.3 L1409.5,510.1 L1411,509.9 L1412.5,509.7 L1414,509.5 L1415.5,509.3 L1417,509.1 L1418.5,508.9 L1420,508.6 L1421.5,508.4 L1423,508.2 L1424.5,507.9 L1426,507.6 L1427.5,507.4 L1429,507.1 L1430.5,506.8 L1432,506.5 L1433.5,506.2 L1435,505.8 L1436.5,505.5 L1438,505.1 L1439.5,504.8 L1441,504.4 L1442.5,504 L1444,503.6 L1445.5,503.2 L1447,502.7 L1448.5,502.3 L1450,501.8 L1451.5,501.3 L1453,500.8 L1454.5,500.2 L1456,499.7 L1457.5,499.1 L1459,498.5 L1460.5,497.8 L1462,497.2 L1463.5,496.4 L1465,495.7 L1466.5,494.9 L1468,494.1 L1469.5,493.2 L1471,492.3 L1472.5,491.3 L1474,490.2 L1475.5,489.1 L1477,487.9 L1478.5,486.6 L1480,485.2 L1481.5,483.7 L1483,482.1 L1484.5,480.4 L1486,478.5 L1487.5,476.4 L1489,474.1 L1490.5,471.7 L1492,469 L1493.5,466 L1495,462.8 L1496.5,459.4 L1498,455.6 L1499.5,451.5 L1501,447 L1502.5,442.2 L1504,437 L1505.5,431.4 L1507,425.4 L1508.5,419 L1510,412.2 L1511.5,405.1 L1513,397.5 L1514.5,389.7 L1516,381.6 L1517.5,373.2 L1519,364.6 L1520.5,356 L1522,347.3 L1523.5,338.6 L1525,330.1 L1526.5,321.9 L1528,314.1 L1529.5,306.8 L1531,300.1 L1532.5,294.2 L1534,289.2 L1535.5,285.2 L1537,282.2 L1538.5,280.4 L1540,279.8 L1541.5,280.4 L1543,282.2 L1544.5,285.2 L1546,289.2 L1547.5,294.4 L1549,300.4 L1550.5,307.3 L1552,314.9 L1553.5,323.1 L1555,331.8 L1556.5,340.8 L1558,350 L1559.5,359.3 L1561,368.7 L1562.5,378 L1564,387.1 L1565.5,396 L1567,404.6 L1568.5,412.9 L1570,420.9 L1571.5,428.5 L1573,435.6 L1574.5,442.4 L1576,448.7 L1577.5,454.6 L1579,460.2 L1580.5,465.3 L1582,470 L1583.5,474.4 L1585,478.4 L1586.5,482.2 L1588,485.6 L1589.5,488.7 L1591,491.6 L1592.5,494.2 L1594,496.6 L1595.5,498.9 L1597,500.9 L1598.5,502.8 L1600,504.5 L1601.5,506.1 L1603,507.6 L1604.5,509 L1606,510.3 L1607.5,511.5 L1609,512.6 L1610.5,513.7 L1612,514.7 L1613.5,515.6 L1615,516.5 L1616.5,517.3 L1618,518.1 L1619.5,518.8 L1621,519.5 L1622.5,520.2 L1624,520.9 L1625.5,521.5 L1627,522 L1628.5,522.6 L1630,523.1 L1631.5,523.6 L1633,524.1 L1634.5,524.6 L1636,525.1 L1637.5,525.5 L1639,525.9 L1640.5,526.3 L1642,526.7 L1643.5,527 L1645,527.4 L1646.5,527.7 L1648,528.1 L1649.5,528.4 L1651,528.7 L1652.5,529 L1654,529.3 L1655.5,529.5 L1657,529.8 L1658.5,530 L1660,530.3 L1661.5,530.5 L1663,530.8 L1664.5,531 L1666,531.2 L1667.5,531.4 L1669,531.6 L1670.5,531.8 L1672,532 L1673.5,532.2 L1675,532.3 L1676.5,532.5 L1678,532.7 L1679.5,532.8 L1681,533 L1682.5,533.2 L1684,533.3 L1685.5,533.4 L1687,533.6 L1688.5,533.7 L1690,533.9 L1691.5,534 L1693,534.1 L1694.5,534.2 L1696,534.3 L1697.5,534.5 L1699,534.6 L1700.5,534.7 L1702,534.8 L1703.5,534.9 L1705,535 L1706.5,535.1 L1708,535.2 L1709.5,535.3 L1711,535.4 L1712.5,535.4 L1714,535.5 L1715.5,535.6 L1717,535.7 L1718.5,535.8 L1720,535.9 L1721.5,535.9 L1723,536 L1724.5,536.1 L1726,536.1 L1727.5,536.2 L1729,536.3 L1730.5,536.4 L1732,536.4 L1733.5,536.5 L1735,536.5 L1736.5,536.6 L1738,536.7 L1739.5,536.7 L1741,536.8 L1742.5,536.8 L1744,536.9 L1745.5,536.9 L1747,537 L1748.5,537 L1750,537.1 L1751.5,537.1 L1752,537.2" fill="none" stroke="#ff00ff" stroke-width="3.8" stroke-linejoin="round" stroke-linecap="round" />
<path d="M956.5,507.3 L958,507.3 L959.5,507.3 L961,507.3 L962.5,507.3 L964,507.3 L965.5,507.3 L967,507.3 L968.5,507.3 L970,507.3 L971.5,507.3 L973,507.3 L974.5,507.3 L976,507.3 L977.5,507.3 L979,507.3 L980.5,507.3 L982,507.3 L983.5,507.3 L985,507.3 L986.5,507.3 L988,507.3 L989.5,507.3 L991,507.3 L992.5,507.3 L994,507.3 L995.5,507.3 L997,507.3 L998.5,507.3 L1000,507.2 L1001.5,507.2 L1003,507.2 L1004.5,507.2 L1006,507.2 L1007.5,507.2 L1009,507.2 L1010.5,507.2 L1012,507.2 L1013.5,507.2 L1015,507.2 L1016.5,507.2 L1018,507.2 L1019.5,507.2 L1021,507.2 L1022.5,507.2 L1024,507.2 L1025.5,507.2 L1027,507.2 L1028.5,507.2 L1030,507.2 L1031.5,507.2 L1033,507.2 L1034.5,507.2 L1036,507.2 L1037.5,507.2 L1039,507.2 L1040.5,507.1 L1042,507.1 L1043.5,507.1 L1045,507.1 L1046.5,507.1 L1048,507.1 L1049.5,507.1 L1051,507.1 L1052.5,507.1 L1054,507.1 L1055.5,507.1 L1057,507.1 L1058.5,507.1 L1060,507.1 L1061.5,507.1 L1063,507.1 L1064.5,507.1 L1066,507.1 L1067.5,507.1 L1069,507.1 L1070.5,507.1 L1072,507.1 L1073.5,507 L1075,507 L1076.5,507 L1078,507 L1079.5,507 L1081,507 L1082.5,507 L1084,507 L1085.5,507 L1087,507 L1088.5,507 L1090,507 L1091.5,507 L1093,507 L1094.5,507 L1096,507 L1097.5,507 L1099,506.9 L1100.5,506.9 L1102,506.9 L1103.5,506.9 L1105,506.9 L1106.5,506.9 L1108,506.9 L1109.5,506.9 L1111,506.9 L1112.5,506.9 L1114,506.9 L1115.5,506.9 L1117,506.9 L1118.5,506.9 L1120,506.9 L1121.5,506.9 L1123,506.8 L1124.5,506.8 L1126,506.8 L1127.5,506.8 L1129,506.8 L1130.5,506.8 L1132,506.8 L1133.5,506.8 L1135,506.8 L1136.5,506.8 L1138,506.8 L1139.5,506.8 L1141,506.8 L1142.5,506.8 L1144,506.7 L1145.5,506.7 L1147,506.7 L1148.5,506.7 L1150,506.7 L1151.5,506.7 L1153,506.7 L1154.5,506.7 L1156,506.7 L1157.5,506.7 L1159,506.7 L1160.5,506.7 L1162,506.7 L1163.5,506.7 L1165,506.7 L1166.5,506.7 L1168,506.7 L1169.5,506.7 L1171,506.7 L1172.5,506.7 L1174,506.8 L1175.5,506.8 L1177,506.8 L1178.5,506.8 L1180,506.8 L1181.5,506.9 L1183,506.9 L1184.5,506.9 L1186,507 L1187.5,507 L1189,507.1 L1190.5,507.2 L1192,507.2 L1193.5,507.3 L1195,507.4 L1196.5,507.5 L1198,507.6 L1199.5,507.8 L1201,507.9 L1202.5,508 L1204,508.2 L1205.5,508.4 L1207,508.6 L1208.5,508.8 L1210,509 L1211.5,509.2 L1213,509.5 L1214.5,509.7 L1216,510 L1217.5,510.3 L1219,510.5 L1220.5,510.8 L1222,511.1 L1223.5,511.4 L1225,511.7 L1226.5,512 L1228,512.3 L1229.5,512.6 L1231,512.9 L1232.5,513.2 L1234,513.4 L1235.5,513.7 L1237,513.9 L1238.5,514.1 L1240,514.3 L1241.5,514.5 L1243,514.7 L1244.5,514.9 L1246,515 L1247.5,515.1 L1249,515.3 L1250.5,515.4 L1252,515.5 L1253.5,515.6 L1255,515.6 L1256.5,515.7 L1258,515.8 L1259.5,515.8 L1261,515.9 L1262.5,515.9 L1264,515.9 L1265.5,515.9 L1267,516 L1268.5,516 L1270,516 L1271.5,516 L1273,516 L1274.5,516 L1276,516 L1277.5,515.9 L1279,515.9 L1280.5,515.9 L1282,515.9 L1283.5,515.9 L1285,515.8 L1286.5,515.8 L1288,515.8 L1289.5,515.7 L1291,515.7 L1292.5,515.7 L1294,515.6 L1295.5,515.6 L1297,515.6 L1298.5,515.5 L1300,515.5 L1301.5,515.4 L1303,515.4 L1304.5,515.3 L1306,515.3 L1307.5,515.2 L1309,515.2 L1310.5,515.1 L1312,515.1 L1313.5,515 L1315,515 L1316.5,514.9 L1318,514.9 L1319.5,514.8 L1321,514.7 L1322.5,514.7 L1324,514.6 L1325.5,514.5 L1327,514.5 L1328.5,514.4 L1330,514.3 L1331.5,514.2 L1333,514.2 L1334.5,514.1 L1336,514 L1337.5,513.9 L1339,513.8 L1340.5,513.8 L1342,513.7 L1343.5,513.6 L1345,513.5 L1346.5,513.4 L1348,513.3 L1349.5,513.2 L1351,513.1 L1352.5,513 L1354,512.9 L1355.5,512.7 L1357,512.6 L1358.5,512.5 L1360,512.4 L1361.5,512.3 L1363,512.1 L1364.5,512 L1366,511.8 L1367.5,511.7 L1369,511.6 L1370.5,511.4 L1372,511.2 L1373.5,511.1 L1375,510.9 L1376.5,510.7 L1378,510.6 L1379.5,510.4 L1381,510.2 L1382.5,510 L1384,509.8 L1385.5,509.6 L1387,509.3 L1388.5,509.1 L1390,508.9 L1391.5,508.6 L1393,508.4 L1394.5,508.1 L1396,507.9 L1397.5,507.6 L1399,507.3 L1400.5,507 L1402,506.7 L1403.5,506.4 L1405,506 L1406.5,505.7 L1408,505.3 L1409.5,504.9 L1411,504.5 L1412.5,504.1 L1414,503.7 L1415.5,503.3 L1417,502.8 L1418.5,502.3 L1420,501.8 L1421.5,501.3 L1423,500.7 L1424.5,500.2 L1426,499.6 L1427.5,498.9 L1429,498.3 L1430.5,497.6 L1432,496.8 L1433.5,496.1 L1435,495.2 L1436.5,494.4 L1438,493.4 L1439.5,492.4 L1441,491.4 L1442.5,490.2 L1444,489 L1445.5,487.6 L1447,486.2 L1448.5,484.6 L1450,482.8 L1451.5,480.9 L1453,478.7 L1454.5,476.4 L1456,473.8 L1457.5,470.9 L1459,467.7 L1460.5,464.1 L1462,460.2 L1463.5,455.8 L1465,451 L1466.5,445.8 L1468,440 L1469.5,433.7 L1471,426.9 L1472.5,419.6 L1474,411.8 L1475.5,403.5 L1477,394.7 L1478.5,385.4 L1480,375.9 L1481.5,366 L1483,355.9 L1484.5,345.8 L1486,335.6 L1487.5,325.6 L1489,316 L1490.5,306.7 L1492,298.1 L1493.5,290.1 L1495,283.1 L1496.5,277 L1498,272.1 L1499.5,268.4 L1501,266 L1502.5,264.9 L1504,265.3 L1505.5,267 L1507,270.1 L1508.5,274.5 L1510,280.1 L1511.5,286.9 L1513,294.6 L1514.5,303.3 L1516,312.7 L1517.5,322.7 L1519,333.1 L1520.5,343.9 L1522,354.8 L1523.5,365.7 L1525,376.5 L1526.5,387.1 L1528,397.4 L1529.5,407.3 L1531,416.8 L1532.5,425.8 L1534,434.2 L1535.5,442.1 L1537,449.5 L1538.5,456.2 L1540,462.5 L1541.5,468.2 L1543,473.4 L1544.5,478.2 L1546,482.4 L1547.5,486.3 L1549,489.8 L1550.5,493 L1552,495.9 L1553.5,498.5 L1555,500.8 L1556.5,502.9 L1558,504.8 L1559.5,506.6 L1561,508.2 L1562.5,509.6 L1564,511 L1565.5,512.2 L1567,513.4 L1568.5,514.4 L1570,515.4 L1571.5,516.4 L1573,517.3 L1574.5,518.1 L1576,518.9 L1577.5,519.6 L1579,520.3 L1580.5,521 L1582,521.6 L1583.5,522.2 L1585,522.8 L1586.5,523.3 L1588,523.9 L1589.5,524.4 L1591,524.9 L1592.5,525.3 L1594,525.8 L1595.5,526.2 L1597,526.6 L1598.5,527 L1600,527.3 L1601.5,527.7 L1603,528 L1604.5,528.4 L1606,528.7 L1607.5,529 L1609,529.3 L1610.5,529.6 L1612,529.9 L1613.5,530.1 L1615,530.4 L1616.5,530.6 L1618,530.9 L1619.5,531.1 L1621,531.3 L1622.5,531.5 L1624,531.7 L1625.5,531.9 L1627,532.1 L1628.5,532.3 L1630,532.5 L1631.5,532.7 L1633,532.8 L1634.5,533 L1636,533.2 L1637.5,533.3 L1639,533.5 L1640.5,533.6 L1642,533.8 L1643.5,533.9 L1645,534 L1646.5,534.1 L1648,534.3 L1649.5,534.4 L1651,534.5 L1652.5,534.6 L1654,534.7 L1655.5,534.9 L1657,535 L1658.5,535.1 L1660,535.2 L1661.5,535.3 L1663,535.4 L1664.5,535.4 L1666,535.5 L1667.5,535.6 L1669,535.7 L1670.5,535.8 L1672,535.9 L1673.5,536 L1675,536 L1676.5,536.1 L1678,536.2 L1679.5,536.3 L1681,536.3 L1682.5,536.4 L1684,536.5 L1685.5,536.5 L1687,536.6 L1688.5,536.7 L1690,536.7 L1691.5,536.8 L1693,536.8 L1694.5,536.9 L1696,536.9 L1697.5,537 L1699,537.1 L1700.5,537.1 L1702,537.2 L1703.5,537.2 L1705,537.3 L1706.5,537.3 L1708,537.3 L1709.5,537.4 L1711,537.4 L1712.5,537.5 L1714,537.5 L1715.5,537.6 L1717,537.6 L1718.5,537.6 L1720,537.7 L1721.5,537.7 L1723,537.8 L1724.5,537.8 L1726,537.8 L1727.5,537.9 L1729,537.9 L1730.5,537.9 L1732,538 L1733.5,538 L1735,538 L1736.5,538.1 L1738,538.1 L1739.5,538.1 L1741,538.2 L1742.5,538.2 L1744,538.2 L1745.5,538.3 L1747,538.3 L1748.5,538.3 L1750,538.3 L1751.5,538.4 L1752,538.4" fill="none" stroke="#008000" stroke-width="3.8" stroke-linejoin="round" stroke-linecap="round" />
<path d="M956.5,506.5 L958,506.5 L959.5,506.5 L961,506.5 L962.5,506.5 L964,506.5 L965.5,506.4 L967,506.4 L968.5,506.4 L970,506.4 L971.5,506.4 L973,506.4 L974.5,506.3 L976,506.3 L977.5,506.3 L979,506.3 L980.5,506.3 L982,506.3 L983.5,506.2 L985,506.2 L986.5,506.2 L988,506.2 L989.5,506.2 L991,506.1 L992.5,506.1 L994,506.1 L995.5,506.1 L997,506 L998.5,506 L1000,506 L1001.5,506 L1003,505.9 L1004.5,505.9 L1006,505.9 L1007.5,505.9 L1009,505.8 L1010.5,505.8 L1012,505.8 L1013.5,505.8 L1015,505.7 L1016.5,505.7 L1018,505.7 L1019.5,505.6 L1021,505.6 L1022.5,505.6 L1024,505.5 L1025.5,505.5 L1027,505.5 L1028.5,505.4 L1030,505.4 L1031.5,505.4 L1033,505.3 L1034.5,505.3 L1036,505.2 L1037.5,505.2 L1039,505.2 L1040.5,505.1 L1042,505.1 L1043.5,505 L1045,505 L1046.5,504.9 L1048,504.9 L1049.5,504.8 L1051,504.8 L1052.5,504.7 L1054,504.7 L1055.5,504.6 L1057,504.6 L1058.5,504.5 L1060,504.4 L1061.5,504.4 L1063,504.3 L1064.5,504.3 L1066,504.2 L1067.5,504.1 L1069,504 L1070.5,504 L1072,503.9 L1073.5,503.8 L1075,503.7 L1076.5,503.7 L1078,503.6 L1079.5,503.5 L1081,503.4 L1082.5,503.3 L1084,503.2 L1085.5,503.1 L1087,503 L1088.5,502.9 L1090,502.8 L1091.5,502.7 L1093,502.6 L1094.5,502.5 L1096,502.3 L1097.5,502.2 L1099,502.1 L1100.5,501.9 L1102,501.8 L1103.5,501.7 L1105,501.5 L1106.5,501.3 L1108,501.2 L1109.5,501 L1111,500.8 L1112.5,500.7 L1114,500.5 L1115.5,500.3 L1117,500.1 L1118.5,499.8 L1120,499.6 L1121.5,499.4 L1123,499.2 L1124.5,498.9 L1126,498.6 L1127.5,498.4 L1129,498.1 L1130.5,497.8 L1132,497.5 L1133.5,497.1 L1135,496.8 L1136.5,496.4 L1138,496 L1139.5,495.6 L1141,495.2 L1142.5,494.7 L1144,494.3 L1145.5,493.8 L1147,493.2 L1148.5,492.6 L1150,492 L1151.5,491.4 L1153,490.7 L1154.5,489.9 L1156,489.1 L1157.5,488.2 L1159,487.3 L1160.5,486.3 L1162,485.2 L1163.5,484 L1165,482.7 L1166.5,481.3 L1168,479.7 L1169.5,478.1 L1171,476.3 L1172.5,474.4 L1174,472.3 L1175.5,470 L1177,467.5 L1178.5,464.9 L1180,462 L1181.5,458.9 L1183,455.6 L1184.5,452.1 L1186,448.3 L1187.5,444.2 L1189,439.9 L1190.5,435.3 L1192,430.5 L1193.5,425.4 L1195,420 L1196.5,414.4 L1198,408.6 L1199.5,402.5 L1201,396.3 L1202.5,390 L1204,383.6 L1205.5,377.1 L1207,370.7 L1208.5,364.5 L1210,358.5 L1211.5,352.9 L1213,347.8 L1214.5,343.3 L1216,339.5 L1217.5,336.6 L1219,334.7 L1220.5,333.8 L1222,334 L1223.5,335.2 L1225,337.5 L1226.5,340.7 L1228,344.9 L1229.5,349.7 L1231,355.3 L1232.5,361.3 L1234,367.7 L1235.5,374.4 L1237,381.2 L1238.5,388.1 L1240,394.9 L1241.5,401.7 L1243,408.3 L1244.5,414.7 L1246,420.9 L1247.5,426.9 L1249,432.5 L1250.5,437.9 L1252,443.1 L1253.5,447.9 L1255,452.5 L1256.5,456.8 L1258,460.8 L1259.5,464.5 L1261,468 L1262.5,471.3 L1264,474.3 L1265.5,477.1 L1267,479.7 L1268.5,482.1 L1270,484.3 L1271.5,486.3 L1273,488.2 L1274.5,489.9 L1276,491.5 L1277.5,493 L1279,494.4 L1280.5,495.6 L1282,496.8 L1283.5,497.8 L1285,498.8 L1286.5,499.7 L1288,500.6 L1289.5,501.3 L1291,502.1 L1292.5,502.8 L1294,503.4 L1295.5,504 L1297,504.5 L1298.5,505.1 L1300,505.6 L1301.5,506 L1303,506.5 L1304.5,506.9 L1306,507.3 L1307.5,507.7 L1309,508 L1310.5,508.3 L1312,508.7 L1313.5,509 L1315,509.3 L1316.5,509.5 L1318,509.8 L1319.5,510.1 L1321,510.3 L1322.5,510.6 L1324,510.8 L1325.5,511 L1327,511.2 L1328.5,511.4 L1330,511.6 L1331.5,511.8 L1333,512 L1334.5,512.1 L1336,512.3 L1337.5,512.5 L1339,512.6 L1340.5,512.8 L1342,512.9 L1343.5,513 L1345,513.2 L1346.5,513.3 L1348,513.4 L1349.5,513.5 L1351,513.7 L1352.5,513.8 L1354,513.9 L1355.5,514 L1357,514.1 L1358.5,514.2 L1360,514.3 L1361.5,514.4 L1363,514.5 L1364.5,514.6 L1366,514.6 L1367.5,514.7 L1369,514.8 L1370.5,514.9 L1372,515 L1373.5,515 L1375,515.1 L1376.5,515.2 L1378,515.2 L1379.5,515.3 L1381,515.4 L1382.5,515.4 L1384,515.5 L1385.5,515.5 L1387,515.6 L1388.5,515.7 L1390,515.7 L1391.5,515.8 L1393,515.8 L1394.5,515.9 L1396,515.9 L1397.5,516 L1399,516 L1400.5,516.1 L1402,516.1 L1403.5,516.2 L1405,516.2 L1406.5,516.2 L1408,516.3 L1409.5,516.3 L1411,516.4 L1412.5,516.4 L1414,516.4 L1415.5,516.5 L1417,516.5 L1418.5,516.6 L1420,516.6 L1421.5,516.6 L1423,516.7 L1424.5,516.7 L1426,516.7 L1427.5,516.8 L1429,516.8 L1430.5,516.8 L1432,516.9 L1433.5,516.9 L1435,516.9 L1436.5,517 L1438,517 L1439.5,517 L1441,517.1 L1442.5,517.1 L1444,517.1 L1445.5,517.2 L1447,517.2 L1448.5,517.3 L1450,517.3 L1451.5,517.4 L1453,517.4 L1454.5,517.5 L1456,517.5 L1457.5,517.6 L1459,517.6 L1460.5,517.7 L1462,517.8 L1463.5,517.8 L1465,517.9 L1466.5,518 L1468,518.1 L1469.5,518.2 L1471,518.3 L1472.5,518.4 L1474,518.5 L1475.5,518.6 L1477,518.8 L1478.5,519 L1480,519.1 L1481.5,519.3 L1483,519.5 L1484.5,519.7 L1486,520 L1487.5,520.2 L1489,520.5 L1490.5,520.8 L1492,521.1 L1493.5,521.5 L1495,521.8 L1496.5,522.2 L1498,522.6 L1499.5,523.1 L1501,523.5 L1502.5,524 L1504,524.5 L1505.5,525 L1507,525.6 L1508.5,526.1 L1510,526.7 L1511.5,527.3 L1513,527.9 L1514.5,528.5 L1516,529.1 L1517.5,529.7 L1519,530.2 L1520.5,530.8 L1522,531.4 L1523.5,531.9 L1525,532.5 L1526.5,533 L1528,533.5 L1529.5,533.9 L1531,534.4 L1532.5,534.8 L1534,535.2 L1535.5,535.6 L1537,536 L1538.5,536.3 L1540,536.6 L1541.5,536.9 L1543,537.1 L1544.5,537.4 L1546,537.6 L1547.5,537.8 L1549,538 L1550.5,538.2 L1552,538.3 L1553.5,538.5 L1555,538.6 L1556.5,538.7 L1558,538.8 L1559.5,538.9 L1561,539 L1562.5,539.1 L1564,539.2 L1565.5,539.3 L1567,539.3 L1568.5,539.4 L1570,539.4 L1571.5,539.5 L1573,539.5 L1574.5,539.6 L1576,539.6 L1577.5,539.6 L1579,539.7 L1580.5,539.7 L1582,539.7 L1583.5,539.8 L1585,539.8 L1586.5,539.8 L1588,539.8 L1589.5,539.8 L1591,539.9 L1592.5,539.9 L1594,539.9 L1595.5,539.9 L1597,539.9 L1598.5,539.9 L1600,539.9 L1601.5,539.9 L1603,539.9 L1604.5,540 L1606,540 L1607.5,540 L1609,540 L1610.5,540 L1612,540 L1613.5,540 L1615,540 L1616.5,540 L1618,540 L1619.5,540 L1621,540 L1622.5,540 L1624,540 L1625.5,540 L1627,540 L1628.5,540.1 L1630,540.1 L1631.5,540.1 L1633,540.1 L1634.5,540.1 L1636,540.1 L1637.5,540.1 L1639,540.1 L1640.5,540.1 L1642,540.1 L1643.5,540.1 L1645,540.1 L1646.5,540.1 L1648,540.1 L1649.5,540.1 L1651,540.1 L1652.5,540.1 L1654,540.1 L1655.5,540.1 L1657,540.1 L1658.5,540.1 L1660,540.1 L1661.5,540.1 L1663,540.1 L1664.5,540.1 L1666,540.1 L1667.5,540.1 L1669,540.2 L1670.5,540.2 L1672,540.2 L1673.5,540.2 L1675,540.2 L1676.5,540.2 L1678,540.2 L1679.5,540.2 L1681,540.2 L1682.5,540.2 L1684,540.2 L1685.5,540.2 L1687,540.2 L1688.5,540.2 L1690,540.2 L1691.5,540.2 L1693,540.2 L1694.5,540.2 L1696,540.2 L1697.5,540.2 L1699,540.2 L1700.5,540.2 L1702,540.2 L1703.5,540.2 L1705,540.2 L1706.5,540.2 L1708,540.2 L1709.5,540.2 L1711,540.2 L1712.5,540.2 L1714,540.2 L1715.5,540.2 L1717,540.2 L1718.5,540.2 L1720,540.2 L1721.5,540.2 L1723,540.2 L1724.5,540.2 L1726,540.2 L1727.5,540.3 L1729,540.3 L1730.5,540.3 L1732,540.3 L1733.5,540.3 L1735,540.3 L1736.5,540.3 L1738,540.3 L1739.5,540.3 L1741,540.3 L1742.5,540.3 L1744,540.3 L1745.5,540.3 L1747,540.3 L1748.5,540.3 L1750,540.3 L1751.5,540.3 L1752,540.3" fill="none" stroke="#0000bb" stroke-width="3.8" stroke-linejoin="round" stroke-linecap="round" />
<path d="M956.5,506.9 L958,506.9 L959.5,506.9 L961,506.9 L962.5,506.8 L964,506.8 L965.5,506.8 L967,506.8 L968.5,506.8 L970,506.8 L971.5,506.8 L973,506.8 L974.5,506.7 L976,506.7 L977.5,506.7 L979,506.7 L980.5,506.7 L982,506.7 L983.5,506.7 L985,506.6 L986.5,506.6 L988,506.6 L989.5,506.6 L991,506.6 L992.5,506.6 L994,506.5 L995.5,506.5 L997,506.5 L998.5,506.5 L1000,506.5 L1001.5,506.4 L1003,506.4 L1004.5,506.4 L1006,506.4 L1007.5,506.4 L1009,506.3 L1010.5,506.3 L1012,506.3 L1013.5,506.3 L1015,506.2 L1016.5,506.2 L1018,506.2 L1019.5,506.2 L1021,506.1 L1022.5,506.1 L1024,506.1 L1025.5,506 L1027,506 L1028.5,506 L1030,506 L1031.5,505.9 L1033,505.9 L1034.5,505.9 L1036,505.8 L1037.5,505.8 L1039,505.7 L1040.5,505.7 L1042,505.7 L1043.5,505.6 L1045,505.6 L1046.5,505.5 L1048,505.5 L1049.5,505.5 L1051,505.4 L1052.5,505.4 L1054,505.3 L1055.5,505.3 L1057,505.2 L1058.5,505.2 L1060,505.1 L1061.5,505 L1063,505 L1064.5,504.9 L1066,504.9 L1067.5,504.8 L1069,504.7 L1070.5,504.7 L1072,504.6 L1073.5,504.5 L1075,504.4 L1076.5,504.3 L1078,504.3 L1079.5,504.2 L1081,504.1 L1082.5,504 L1084,503.9 L1085.5,503.8 L1087,503.7 L1088.5,503.5 L1090,503.4 L1091.5,503.3 L1093,503.1 L1094.5,503 L1096,502.8 L1097.5,502.7 L1099,502.5 L1100.5,502.3 L1102,502.1 L1103.5,501.9 L1105,501.7 L1106.5,501.5 L1108,501.2 L1109.5,501 L1111,500.7 L1112.5,500.4 L1114,500 L1115.5,499.7 L1117,499.3 L1118.5,498.9 L1120,498.4 L1121.5,498 L1123,497.5 L1124.5,496.9 L1126,496.3 L1127.5,495.7 L1129,495 L1130.5,494.3 L1132,493.5 L1133.5,492.7 L1135,491.8 L1136.5,490.8 L1138,489.8 L1139.5,488.7 L1141,487.5 L1142.5,486.3 L1144,485 L1145.5,483.6 L1147,482.1 L1148.5,480.5 L1150,478.8 L1151.5,477 L1153,475.1 L1154.5,473.1 L1156,471 L1157.5,468.7 L1159,466.3 L1160.5,463.8 L1162,461.1 L1163.5,458.3 L1165,455.3 L1166.5,452.2 L1168,448.8 L1169.5,445.3 L1171,441.6 L1172.5,437.6 L1174,433.5 L1175.5,429.1 L1177,424.4 L1178.5,419.5 L1180,414.4 L1181.5,409.1 L1183,403.5 L1184.5,397.7 L1186,391.8 L1187.5,385.9 L1189,379.9 L1190.5,374.2 L1192,368.8 L1193.5,363.8 L1195,359.5 L1196.5,356.1 L1198,353.8 L1199.5,352.5 L1201,352.5 L1202.5,353.7 L1204,356.2 L1205.5,359.6 L1207,364 L1208.5,369.1 L1210,374.8 L1211.5,380.8 L1213,387 L1214.5,393.3 L1216,399.6 L1217.5,405.7 L1219,411.7 L1220.5,417.5 L1222,423 L1223.5,428.3 L1225,433.4 L1226.5,438.2 L1228,442.7 L1229.5,447.1 L1231,451.2 L1232.5,455 L1234,458.7 L1235.5,462.2 L1237,465.5 L1238.5,468.6 L1240,471.6 L1241.5,474.3 L1243,477 L1244.5,479.5 L1246,481.8 L1247.5,484 L1249,486.1 L1250.5,488 L1252,489.9 L1253.5,491.6 L1255,493.3 L1256.5,494.8 L1258,496.2 L1259.5,497.6 L1261,498.8 L1262.5,500 L1264,501.1 L1265.5,502.1 L1267,503.1 L1268.5,503.9 L1270,504.8 L1271.5,505.6 L1273,506.3 L1274.5,506.9 L1276,507.6 L1277.5,508.1 L1279,508.7 L1280.5,509.2 L1282,509.6 L1283.5,510.1 L1285,510.5 L1286.5,510.8 L1288,511.2 L1289.5,511.5 L1291,511.8 L1292.5,512.1 L1294,512.4 L1295.5,512.6 L1297,512.8 L1298.5,513.1 L1300,513.3 L1301.5,513.4 L1303,513.6 L1304.5,513.8 L1306,513.9 L1307.5,514.1 L1309,514.2 L1310.5,514.4 L1312,514.5 L1313.5,514.6 L1315,514.7 L1316.5,514.8 L1318,514.9 L1319.5,515 L1321,515.1 L1322.5,515.2 L1324,515.3 L1325.5,515.4 L1327,515.5 L1328.5,515.6 L1330,515.6 L1331.5,515.7 L1333,515.8 L1334.5,515.8 L1336,515.9 L1337.5,516 L1339,516 L1340.5,516.1 L1342,516.1 L1343.5,516.2 L1345,516.2 L1346.5,516.3 L1348,516.3 L1349.5,516.4 L1351,516.4 L1352.5,516.5 L1354,516.5 L1355.5,516.6 L1357,516.6 L1358.5,516.7 L1360,516.7 L1361.5,516.7 L1363,516.8 L1364.5,516.8 L1366,516.8 L1367.5,516.9 L1369,516.9 L1370.5,516.9 L1372,517 L1373.5,517 L1375,517 L1376.5,517.1 L1378,517.1 L1379.5,517.1 L1381,517.2 L1382.5,517.2 L1384,517.2 L1385.5,517.2 L1387,517.3 L1388.5,517.3 L1390,517.3 L1391.5,517.3 L1393,517.4 L1394.5,517.4 L1396,517.4 L1397.5,517.4 L1399,517.4 L1400.5,517.5 L1402,517.5 L1403.5,517.5 L1405,517.5 L1406.5,517.5 L1408,517.6 L1409.5,517.6 L1411,517.6 L1412.5,517.6 L1414,517.6 L1415.5,517.7 L1417,517.7 L1418.5,517.7 L1420,517.7 L1421.5,517.7 L1423,517.7 L1424.5,517.8 L1426,517.8 L1427.5,517.8 L1429,517.8 L1430.5,517.8 L1432,517.9 L1433.5,517.9 L1435,517.9 L1436.5,517.9 L1438,517.9 L1439.5,518 L1441,518 L1442.5,518 L1444,518 L1445.5,518.1 L1447,518.1 L1448.5,518.1 L1450,518.1 L1451.5,518.2 L1453,518.2 L1454.5,518.2 L1456,518.3 L1457.5,518.3 L1459,518.4 L1460.5,518.4 L1462,518.5 L1463.5,518.6 L1465,518.6 L1466.5,518.7 L1468,518.8 L1469.5,518.9 L1471,519 L1472.5,519.1 L1474,519.2 L1475.5,519.3 L1477,519.4 L1478.5,519.6 L1480,519.8 L1481.5,519.9 L1483,520.1 L1484.5,520.3 L1486,520.6 L1487.5,520.8 L1489,521.1 L1490.5,521.4 L1492,521.7 L1493.5,522 L1495,522.4 L1496.5,522.8 L1498,523.2 L1499.5,523.6 L1501,524.1 L1502.5,524.5 L1504,525 L1505.5,525.6 L1507,526.1 L1508.5,526.6 L1510,527.2 L1511.5,527.8 L1513,528.4 L1514.5,529 L1516,529.5 L1517.5,530.1 L1519,530.7 L1520.5,531.3 L1522,531.8 L1523.5,532.4 L1525,532.9 L1526.5,533.4 L1528,533.9 L1529.5,534.4 L1531,534.8 L1532.5,535.3 L1534,535.6 L1535.5,536 L1537,536.4 L1538.5,536.7 L1540,537 L1541.5,537.3 L1543,537.5 L1544.5,537.8 L1546,538 L1547.5,538.2 L1549,538.4 L1550.5,538.6 L1552,538.7 L1553.5,538.9 L1555,539 L1556.5,539.1 L1558,539.2 L1559.5,539.3 L1561,539.4 L1562.5,539.5 L1564,539.6 L1565.5,539.6 L1567,539.7 L1568.5,539.7 L1570,539.8 L1571.5,539.8 L1573,539.9 L1574.5,539.9 L1576,539.9 L1577.5,540 L1579,540 L1580.5,540 L1582,540 L1583.5,540.1 L1585,540.1 L1586.5,540.1 L1588,540.1 L1589.5,540.1 L1591,540.1 L1592.5,540.2 L1594,540.2 L1595.5,540.2 L1597,540.2 L1598.5,540.2 L1600,540.2 L1601.5,540.2 L1603,540.2 L1604.5,540.2 L1606,540.2 L1607.5,540.2 L1609,540.2 L1610.5,540.3 L1612,540.3 L1613.5,540.3 L1615,540.3 L1616.5,540.3 L1618,540.3 L1619.5,540.3 L1621,540.3 L1622.5,540.3 L1624,540.3 L1625.5,540.3 L1627,540.3 L1628.5,540.3 L1630,540.3 L1631.5,540.3 L1633,540.3 L1634.5,540.3 L1636,540.3 L1637.5,540.3 L1639,540.3 L1640.5,540.3 L1642,540.3 L1643.5,540.3 L1645,540.3 L1646.5,540.3 L1648,540.3 L1649.5,540.3 L1651,540.3 L1652.5,540.3 L1654,540.3 L1655.5,540.3 L1657,540.3 L1658.5,540.3 L1660,540.3 L1661.5,540.3 L1663,540.3 L1664.5,540.3 L1666,540.3 L1667.5,540.4 L1669,540.4 L1670.5,540.4 L1672,540.4 L1673.5,540.4 L1675,540.4 L1676.5,540.4 L1678,540.4 L1679.5,540.4 L1681,540.4 L1682.5,540.4 L1684,540.4 L1685.5,540.4 L1687,540.4 L1688.5,540.4 L1690,540.4 L1691.5,540.4 L1693,540.4 L1694.5,540.4 L1696,540.4 L1697.5,540.4 L1699,540.4 L1700.5,540.4 L1702,540.4 L1703.5,540.4 L1705,540.4 L1706.5,540.4 L1708,540.4 L1709.5,540.4 L1711,540.4 L1712.5,540.4 L1714,540.4 L1715.5,540.4 L1717,540.4 L1718.5,540.4 L1720,540.4 L1721.5,540.4 L1723,540.4 L1724.5,540.4 L1726,540.4 L1727.5,540.4 L1729,540.4 L1730.5,540.4 L1732,540.4 L1733.5,540.4 L1735,540.4 L1736.5,540.4 L1738,540.4 L1739.5,540.4 L1741,540.4 L1742.5,540.4 L1744,540.4 L1745.5,540.4 L1747,540.4 L1748.5,540.4 L1750,540.4 L1751.5,540.4 L1752,540.4" fill="none" stroke="#8014e6" stroke-width="3.8" stroke-linejoin="round" stroke-linecap="round" />
<path d="M956.5,525.6 L965.4,525.6 L974,513.6 L980.8,523 L986,522.2 L991.1,533.3 L995.4,534.2 L1001.4,529.9 L1004.8,530.8 L1010.8,536.7 L1015.9,526.5 L1020.2,530.8 L1025.3,530.8 L1030.5,551.3 L1040.8,523.9 L1045.9,535 L1052.7,533.3 L1059.6,535.6 L1066.4,542.7 L1071.6,533.3 L1080.1,536.7 L1086.1,526.5 L1090.4,531.6 L1096.4,523 L1110.1,533.3 L1116.1,513.6 L1121.2,511.9 L1124.7,513.6 L1130.7,525.6 L1140.9,511.1 L1145,516.9 L1150.3,510.2 L1152.6,493 L1165.1,461.6 L1174,436.7 L1182,370 L1190,303.3 L1198,250 L1206,210 L1210.7,192 L1215.3,211.3 L1220.7,202 L1226,216.7 L1230,263.3 L1235.3,303.3 L1243.3,370 L1251.3,436.7 L1265.6,480.5 L1270.6,511.8 L1275.6,504.3 L1281.9,509.3 L1290.7,526.9 L1300.7,553.3 L1305.7,539.5 L1313.5,543.9 L1319.6,529.4 L1326,535.9 L1330.6,532.5 L1335.9,540.7 L1340.9,537 L1347.2,547 L1355.7,534.7 L1366,548.4 L1370.5,548.4 L1376.3,535.9 L1385.4,555.3 L1396.8,530.2 L1400,532 L1406.2,544.4 L1416.4,527.9 L1424.7,533.1 L1434.9,515.6 L1447.3,509.4 L1450.3,484.8 L1456.5,483.8 L1461.6,466.3 L1467.8,431.1 L1471.9,380 L1479,329.8 L1483.2,293.8 L1487.3,242.5 L1491.4,191.1 L1495.5,150 L1502.6,82.6 L1509.9,53.6 L1514.3,55 L1520.1,50.7 L1525.9,97.1 L1529.4,150 L1533.5,180.8 L1537.6,242.5 L1541.1,282.9 L1544.6,317.1 L1548,351.4 L1552.6,385.7 L1557.1,414.3 L1562.9,442.9 L1565.1,456.6 L1569.7,465.7 L1573.1,482.9 L1575.4,500 L1578.8,513.6 L1589,527.9 L1597.2,525.9 L1605.5,536.2 L1615.7,527.9 L1622,532 L1628.1,546.4 L1636.3,538.2 L1646.6,546.4 L1654.8,540.3 L1665.1,554.6 L1669.2,544.4 L1679.4,560.8 L1687.6,542.3 L1689.7,527.9 L1695.9,548.5 L1704.1,550.5 L1714.4,544.4 L1720.8,542.3 L1739,552.6 L1749.3,544.4 L1752,542" fill="none" stroke="#000" stroke-width="3.8" stroke-linejoin="round" stroke-linecap="round" />
<path d="M956.5,504.7 L958,504.7 L959.5,504.6 L961,504.6 L962.5,504.6 L964,504.5 L965.5,504.5 L967,504.5 L968.5,504.4 L970,504.4 L971.5,504.4 L973,504.3 L974.5,504.3 L976,504.3 L977.5,504.2 L979,504.2 L980.5,504.1 L982,504.1 L983.5,504.1 L985,504 L986.5,504 L988,503.9 L989.5,503.9 L991,503.8 L992.5,503.8 L994,503.8 L995.5,503.7 L997,503.7 L998.5,503.6 L1000,503.6 L1001.5,503.5 L1003,503.5 L1004.5,503.4 L1006,503.4 L1007.5,503.3 L1009,503.2 L1010.5,503.2 L1012,503.1 L1013.5,503.1 L1015,503 L1016.5,502.9 L1018,502.9 L1019.5,502.8 L1021,502.8 L1022.5,502.7 L1024,502.6 L1025.5,502.5 L1027,502.5 L1028.5,502.4 L1030,502.3 L1031.5,502.2 L1033,502.2 L1034.5,502.1 L1036,502 L1037.5,501.9 L1039,501.8 L1040.5,501.7 L1042,501.7 L1043.5,501.6 L1045,501.5 L1046.5,501.4 L1048,501.3 L1049.5,501.2 L1051,501.1 L1052.5,500.9 L1054,500.8 L1055.5,500.7 L1057,500.6 L1058.5,500.5 L1060,500.4 L1061.5,500.2 L1063,500.1 L1064.5,500 L1066,499.8 L1067.5,499.7 L1069,499.5 L1070.5,499.4 L1072,499.2 L1073.5,499.1 L1075,498.9 L1076.5,498.7 L1078,498.5 L1079.5,498.3 L1081,498.1 L1082.5,497.9 L1084,497.7 L1085.5,497.5 L1087,497.3 L1088.5,497.1 L1090,496.8 L1091.5,496.6 L1093,496.3 L1094.5,496 L1096,495.7 L1097.5,495.4 L1099,495.1 L1100.5,494.8 L1102,494.5 L1103.5,494.1 L1105,493.7 L1106.5,493.3 L1108,492.9 L1109.5,492.4 L1111,491.9 L1112.5,491.4 L1114,490.9 L1115.5,490.3 L1117,489.7 L1118.5,489.1 L1120,488.4 L1121.5,487.7 L1123,486.9 L1124.5,486.1 L1126,485.3 L1127.5,484.3 L1129,483.4 L1130.5,482.3 L1132,481.2 L1133.5,480 L1135,478.8 L1136.5,477.4 L1138,476 L1139.5,474.5 L1141,472.9 L1142.5,471.2 L1144,469.3 L1145.5,467.4 L1147,465.3 L1148.5,463.1 L1150,460.7 L1151.5,458.2 L1153,455.4 L1154.5,452.5 L1156,449.2 L1157.5,445.7 L1159,441.9 L1160.5,437.7 L1162,433 L1163.5,427.9 L1165,422.2 L1166.5,416.1 L1168,409.4 L1169.5,402.2 L1171,394.4 L1172.5,386.3 L1174,377.8 L1175.5,369.1 L1177,360.1 L1178.5,351.2 L1180,342.2 L1181.5,333.3 L1183,324.6 L1184.5,315.9 L1186,307.4 L1187.5,298.9 L1189,290.5 L1190.5,282.3 L1192,274.1 L1193.5,266.1 L1195,258.4 L1196.5,251.1 L1198,244.4 L1199.5,238.4 L1201,233.1 L1202.5,228.7 L1204,225.2 L1205.5,222.4 L1207,220.5 L1208.5,219.2 L1210,218.5 L1211.5,218.4 L1213,218.8 L1214.5,219.7 L1216,221.1 L1217.5,223 L1219,225.4 L1220.5,228.4 L1222,232.1 L1223.5,236.4 L1225,241.5 L1226.5,247.3 L1228,253.9 L1229.5,261.2 L1231,269.4 L1232.5,278.3 L1234,287.8 L1235.5,298 L1237,308.6 L1238.5,319.5 L1240,330.5 L1241.5,341.6 L1243,352.5 L1244.5,363.1 L1246,373.2 L1247.5,382.9 L1249,391.9 L1250.5,400.4 L1252,408.2 L1253.5,415.5 L1255,422.2 L1256.5,428.3 L1258,434 L1259.5,439.2 L1261,444 L1262.5,448.4 L1264,452.5 L1265.5,456.3 L1267,459.8 L1268.5,463 L1270,465.9 L1271.5,468.6 L1273,471.2 L1274.5,473.5 L1276,475.6 L1277.5,477.6 L1279,479.4 L1280.5,481.1 L1282,482.6 L1283.5,484 L1285,485.3 L1286.5,486.5 L1288,487.6 L1289.5,488.7 L1291,489.6 L1292.5,490.5 L1294,491.3 L1295.5,492.1 L1297,492.8 L1298.5,493.5 L1300,494.1 L1301.5,494.6 L1303,495.2 L1304.5,495.7 L1306,496.1 L1307.5,496.6 L1309,497 L1310.5,497.3 L1312,497.7 L1313.5,498 L1315,498.3 L1316.5,498.6 L1318,498.9 L1319.5,499.2 L1321,499.4 L1322.5,499.6 L1324,499.8 L1325.5,500 L1327,500.2 L1328.5,500.3 L1330,500.5 L1331.5,500.6 L1333,500.7 L1334.5,500.8 L1336,500.9 L1337.5,501 L1339,501.1 L1340.5,501.2 L1342,501.2 L1343.5,501.2 L1345,501.3 L1346.5,501.3 L1348,501.3 L1349.5,501.3 L1351,501.3 L1352.5,501.3 L1354,501.3 L1355.5,501.2 L1357,501.2 L1358.5,501.2 L1360,501.1 L1361.5,501 L1363,500.9 L1364.5,500.9 L1366,500.8 L1367.5,500.7 L1369,500.5 L1370.5,500.4 L1372,500.3 L1373.5,500.1 L1375,500 L1376.5,499.8 L1378,499.6 L1379.5,499.4 L1381,499.3 L1382.5,499 L1384,498.8 L1385.5,498.6 L1387,498.4 L1388.5,498.1 L1390,497.8 L1391.5,497.6 L1393,497.3 L1394.5,497 L1396,496.7 L1397.5,496.3 L1399,496 L1400.5,495.6 L1402,495.2 L1403.5,494.9 L1405,494.4 L1406.5,494 L1408,493.6 L1409.5,493.1 L1411,492.6 L1412.5,492.1 L1414,491.6 L1415.5,491 L1417,490.4 L1418.5,489.8 L1420,489.2 L1421.5,488.6 L1423,487.9 L1424.5,487.1 L1426,486.4 L1427.5,485.6 L1429,484.8 L1430.5,483.9 L1432,483 L1433.5,482 L1435,481 L1436.5,479.9 L1438,478.7 L1439.5,477.5 L1441,476.2 L1442.5,474.8 L1444,473.3 L1445.5,471.6 L1447,469.8 L1448.5,467.9 L1450,465.7 L1451.5,463.4 L1453,460.7 L1454.5,457.8 L1456,454.5 L1457.5,450.8 L1459,446.7 L1460.5,442 L1462,436.8 L1463.5,430.9 L1465,424.4 L1466.5,417.2 L1468,409.4 L1469.5,400.9 L1471,391.8 L1472.5,382.1 L1474,372.1 L1475.5,361.7 L1477,351 L1478.5,340.2 L1480,329.4 L1481.5,318.5 L1483,307.6 L1484.5,296.7 L1486,286 L1487.5,275.3 L1489,264.8 L1490.5,254.4 L1492,244.3 L1493.5,234.5 L1495,225.2 L1496.5,216.3 L1498,208.1 L1499.5,200.5 L1501,193.8 L1502.5,187.9 L1504,182.9 L1505.5,178.8 L1507,175.6 L1508.5,173.2 L1510,171.6 L1511.5,170.6 L1513,170.3 L1514.5,170.4 L1516,171 L1517.5,171.7 L1519,172.7 L1520.5,173.7 L1522,174.6 L1523.5,175.5 L1525,176.2 L1526.5,176.8 L1528,177.3 L1529.5,177.7 L1531,178.1 L1532.5,178.6 L1534,179.3 L1535.5,180.5 L1537,182.2 L1538.5,184.8 L1540,188.3 L1541.5,193 L1543,199.1 L1544.5,206.6 L1546,215.6 L1547.5,226 L1549,237.8 L1550.5,250.7 L1552,264.5 L1553.5,278.7 L1555,293.1 L1556.5,307.3 L1558,321 L1559.5,333.9 L1561,345.8 L1562.5,356.8 L1564,366.8 L1565.5,375.9 L1567,384.3 L1568.5,392.1 L1570,399.4 L1571.5,406.5 L1573,413.4 L1574.5,420.1 L1576,426.8 L1577.5,433.2 L1579,439.5 L1580.5,445.6 L1582,451.3 L1583.5,456.7 L1585,461.8 L1586.5,466.5 L1588,470.8 L1589.5,474.7 L1591,478.3 L1592.5,481.6 L1594,484.5 L1595.5,487.2 L1597,489.7 L1598.5,491.9 L1600,493.9 L1601.5,495.8 L1603,497.5 L1604.5,499.1 L1606,500.6 L1607.5,502 L1609,503.3 L1610.5,504.5 L1612,505.7 L1613.5,506.8 L1615,507.8 L1616.5,508.7 L1618,509.7 L1619.5,510.5 L1621,511.4 L1622.5,512.1 L1624,512.9 L1625.5,513.6 L1627,514.3 L1628.5,515 L1630,515.6 L1631.5,516.2 L1633,516.8 L1634.5,517.4 L1636,517.9 L1637.5,518.4 L1639,519 L1640.5,519.4 L1642,519.9 L1643.5,520.4 L1645,520.8 L1646.5,521.2 L1648,521.6 L1649.5,522 L1651,522.4 L1652.5,522.8 L1654,523.2 L1655.5,523.5 L1657,523.9 L1658.5,524.2 L1660,524.5 L1661.5,524.8 L1663,525.1 L1664.5,525.4 L1666,525.7 L1667.5,526 L1669,526.3 L1670.5,526.5 L1672,526.8 L1673.5,527 L1675,527.3 L1676.5,527.5 L1678,527.7 L1679.5,528 L1681,528.2 L1682.5,528.4 L1684,528.6 L1685.5,528.8 L1687,529 L1688.5,529.2 L1690,529.4 L1691.5,529.6 L1693,529.8 L1694.5,529.9 L1696,530.1 L1697.5,530.3 L1699,530.4 L1700.5,530.6 L1702,530.8 L1703.5,530.9 L1705,531.1 L1706.5,531.2 L1708,531.4 L1709.5,531.5 L1711,531.6 L1712.5,531.8 L1714,531.9 L1715.5,532 L1717,532.1 L1718.5,532.3 L1720,532.4 L1721.5,532.5 L1723,532.6 L1724.5,532.7 L1726,532.8 L1727.5,533 L1729,533.1 L1730.5,533.2 L1732,533.3 L1733.5,533.4 L1735,533.5 L1736.5,533.6 L1738,533.6 L1739.5,533.7 L1741,533.8 L1742.5,533.9 L1744,534 L1745.5,534.1 L1747,534.2 L1748.5,534.2 L1750,534.3 L1751.5,534.4 L1752,534.4" fill="none" stroke="#ff0000" stroke-width="4.2" stroke-linejoin="round" stroke-linecap="round" />
<rect x="954.5" y="14" width="799.5" height="594.8" fill="none" stroke="#000" stroke-width="4"/>
<line x1="1004.5" y1="608.8" x2="1004.5" y2="621.3" stroke="#000" stroke-width="4"/>
<line x1="1104.4" y1="608.8" x2="1104.4" y2="621.3" stroke="#000" stroke-width="4"/>
<line x1="1204.3" y1="608.8" x2="1204.3" y2="621.3" stroke="#000" stroke-width="4"/>
<line x1="1304.3" y1="608.8" x2="1304.3" y2="621.3" stroke="#000" stroke-width="4"/>
<line x1="1404.2" y1="608.8" x2="1404.2" y2="621.3" stroke="#000" stroke-width="4"/>
<line x1="1504.2" y1="608.8" x2="1504.2" y2="621.3" stroke="#000" stroke-width="4"/>
<line x1="1604.1" y1="608.8" x2="1604.1" y2="621.3" stroke="#000" stroke-width="4"/>
<line x1="1704" y1="608.8" x2="1704" y2="621.3" stroke="#000" stroke-width="4"/>
<line x1="954.5" y1="608.8" x2="954.5" y2="615.8" stroke="#000" stroke-width="3.6"/>
<line x1="1054.4" y1="608.8" x2="1054.4" y2="615.8" stroke="#000" stroke-width="3.6"/>
<line x1="1154.4" y1="608.8" x2="1154.4" y2="615.8" stroke="#000" stroke-width="3.6"/>
<line x1="1254.3" y1="608.8" x2="1254.3" y2="615.8" stroke="#000" stroke-width="3.6"/>
<line x1="1354.3" y1="608.8" x2="1354.3" y2="615.8" stroke="#000" stroke-width="3.6"/>
<line x1="1454.2" y1="608.8" x2="1454.2" y2="615.8" stroke="#000" stroke-width="3.6"/>
<line x1="1554.1" y1="608.8" x2="1554.1" y2="615.8" stroke="#000" stroke-width="3.6"/>
<line x1="1654.1" y1="608.8" x2="1654.1" y2="615.8" stroke="#000" stroke-width="3.6"/>
<line x1="1754" y1="608.8" x2="1754" y2="615.8" stroke="#000" stroke-width="3.6"/>
<text x="1004.5" y="647.5" font-size="24" text-anchor="middle" >378</text>
<text x="1104.4" y="647.5" font-size="24" text-anchor="middle" >376</text>
<text x="1204.3" y="647.5" font-size="24" text-anchor="middle" >374</text>
<text x="1304.3" y="647.5" font-size="24" text-anchor="middle" >372</text>
<text x="1404.2" y="647.5" font-size="24" text-anchor="middle" >370</text>
<text x="1504.2" y="647.5" font-size="24" text-anchor="middle" >368</text>
<text x="1604.1" y="647.5" font-size="24" text-anchor="middle" >366</text>
<text x="1704" y="647.5" font-size="24" text-anchor="middle" >364</text>
<text x="1354.2" y="697.8" font-size="30" text-anchor="middle" letter-spacing="0.4">Binding energy (eV)</text>
<text x="916" y="311.4" font-size="30" text-anchor="middle" transform="rotate(-90 916 311.4)" letter-spacing="0.25">Intensity (a.u.)</text>
<text x="969.8" y="50.5" font-size="30" text-anchor="start" letter-spacing="0.6">(b)</text>
<text x="1737" y="59.4" font-size="31" text-anchor="end" >Ag 3d</text>
<text x="1175" y="184" font-size="27" text-anchor="start" letter-spacing="0.15">Ag 3d<tspan font-size="17" dy="8" letter-spacing="0">3/2</tspan></text>
<text x="1469" y="44.9" font-size="27" text-anchor="start" letter-spacing="0.15">Ag 3d<tspan font-size="17" dy="8" letter-spacing="0">5/2</tspan></text>
<text x="1012.8" y="338.5" font-size="27" text-anchor="start" letter-spacing="0.15">374.08 eV</text>
<text x="1280.3" y="302" font-size="27" text-anchor="start" letter-spacing="0.15">373.66 eV</text>
<text x="1447.9" y="225" font-size="27" text-anchor="end" letter-spacing="0.15">368.01 eV</text>
<text x="1600.4" y="261.2" font-size="27" text-anchor="start" letter-spacing="0.15">367.30 eV</text>
<line x1="1199.3" y1="354.4" x2="1151.8" y2="332.8" stroke="#000" stroke-width="2.6"/>
<polygon points="1141.8,328.2 1155.9,328.6 1151.3,338.6" fill="#000"/>
<line x1="1220.9" y1="334" x2="1266.2" y2="305.1" stroke="#000" stroke-width="2.6"/>
<polygon points="1275.5,299.2 1267.5,310.8 1261.6,301.5" fill="#000"/>
<line x1="1504.1" y1="265.6" x2="1465" y2="222.9" stroke="#000" stroke-width="2.6"/>
<polygon points="1457.6,214.8 1470.4,220.7 1462.3,228.1" fill="#000"/>
<line x1="1539" y1="280" x2="1588.4" y2="258.4" stroke="#000" stroke-width="2.6"/>
<polygon points="1598.5,254 1588.8,264.2 1584.4,254.2" fill="#000"/>
<path d="M78.5,1251.3 L871.6,1251.3" fill="none" stroke="#0000e0" stroke-width="3.8" stroke-linejoin="round" stroke-linecap="round" />
<path d="M78.5,1259.1 L87.4,1262 L99.1,1256.2 L116.5,1264.9 L139.7,1263.5 L151.4,1254.7 L160,1254.7 L168.8,1247.5 L174.6,1250.4 L184.8,1260.5 L203.7,1264.9 L221.1,1260.5 L238.6,1257.6 L247.3,1260.5 L256,1251.8 L264.7,1254.7 L273.8,1256.2 L283.5,1247.9 L293.1,1248.6 L301.4,1242.4 L312.5,1225.8 L320.8,1212 L327.7,1200.9 L333.2,1180.2 L337.3,1166.4 L345.6,1145.7 L355.3,1125 L359.4,1104.3 L364.9,1086.3 L370.5,1073.9 L377.4,1035.2 L381.5,1021.4 L391.2,980 L399.4,965.7 L407.4,937.1 L416.6,906.3 L425.7,877.7 L434.9,862.9 L442.3,831.4 L450.9,830.9 L460,840 L468,846.9 L479.4,819.4 L487.4,793.1 L495.4,809.1 L504.6,792 L512.6,805.7 L521.7,840 L530.9,869.7 L540,881.1 L544.6,920 L551.4,965.7 L557.1,1000 L570,1069.9 L581.9,1129.8 L595.9,1165.8 L600.9,1189.8 L609.9,1193.8 L619.9,1219.7 L627.9,1215.7 L637.9,1222.7 L645.9,1221.7 L655.8,1229.7 L663.8,1225.7 L677.8,1244.7 L687.8,1244.7 L698.8,1232.7 L713.8,1245.7 L743.7,1240.7 L752.7,1254.7 L767.7,1251.7 L779.7,1261.7 L787.7,1260.7 L805.7,1251.7 L813.7,1245.7 L821.6,1259.7 L831.6,1265.7 L841.6,1254.7 L859.6,1269.7 L871.6,1266.7" fill="none" stroke="#000" stroke-width="3.8" stroke-linejoin="round" stroke-linecap="round" />
<path d="M78.5,1247.8 L80,1247.7 L81.5,1247.7 L83,1247.7 L84.5,1247.6 L86,1247.6 L87.5,1247.6 L89,1247.5 L90.5,1247.5 L92,1247.5 L93.5,1247.4 L95,1247.4 L96.5,1247.4 L98,1247.3 L99.5,1247.3 L101,1247.2 L102.5,1247.2 L104,1247.2 L105.5,1247.1 L107,1247.1 L108.5,1247.1 L110,1247 L111.5,1247 L113,1246.9 L114.5,1246.9 L116,1246.8 L117.5,1246.8 L119,1246.8 L120.5,1246.7 L122,1246.7 L123.5,1246.6 L125,1246.6 L126.5,1246.5 L128,1246.5 L129.5,1246.4 L131,1246.4 L132.5,1246.3 L134,1246.3 L135.5,1246.2 L137,1246.2 L138.5,1246.1 L140,1246.1 L141.5,1246 L143,1245.9 L144.5,1245.9 L146,1245.8 L147.5,1245.8 L149,1245.7 L150.5,1245.6 L152,1245.6 L153.5,1245.5 L155,1245.5 L156.5,1245.4 L158,1245.3 L159.5,1245.3 L161,1245.2 L162.5,1245.1 L164,1245 L165.5,1245 L167,1244.9 L168.5,1244.8 L170,1244.7 L171.5,1244.7 L173,1244.6 L174.5,1244.5 L176,1244.4 L177.5,1244.3 L179,1244.3 L180.5,1244.2 L182,1244.1 L183.5,1244 L185,1243.9 L186.5,1243.8 L188,1243.7 L189.5,1243.6 L191,1243.5 L192.5,1243.4 L194,1243.3 L195.5,1243.2 L197,1243.1 L198.5,1243 L200,1242.9 L201.5,1242.8 L203,1242.7 L204.5,1242.6 L206,1242.4 L207.5,1242.3 L209,1242.2 L210.5,1242.1 L212,1241.9 L213.5,1241.8 L215,1241.7 L216.5,1241.5 L218,1241.4 L219.5,1241.2 L221,1241.1 L222.5,1241 L224,1240.8 L225.5,1240.6 L227,1240.5 L228.5,1240.3 L230,1240.2 L231.5,1240 L233,1239.8 L234.5,1239.6 L236,1239.5 L237.5,1239.3 L239,1239.1 L240.5,1238.9 L242,1238.7 L243.5,1238.5 L245,1238.3 L246.5,1238.1 L248,1237.8 L249.5,1237.6 L251,1237.4 L252.5,1237.2 L254,1236.9 L255.5,1236.7 L257,1236.4 L258.5,1236.2 L260,1235.9 L261.5,1235.6 L263,1235.3 L264.5,1235.1 L266,1234.8 L267.5,1234.5 L269,1234.2 L270.5,1233.8 L272,1233.5 L273.5,1233.2 L275,1232.8 L276.5,1232.5 L278,1232.1 L279.5,1231.7 L281,1231.4 L282.5,1231 L284,1230.6 L285.5,1230.1 L287,1229.7 L288.5,1229.2 L290,1228.8 L291.5,1228.3 L293,1227.8 L294.5,1227.3 L296,1226.8 L297.5,1226.2 L299,1225.7 L300.5,1225.1 L302,1224.5 L303.5,1223.9 L305,1223.2 L306.5,1222.5 L308,1221.8 L309.5,1221.1 L311,1220.3 L312.5,1219.6 L314,1218.7 L315.5,1217.9 L317,1216.9 L318.5,1216 L320,1215 L321.5,1214 L323,1212.9 L324.5,1211.7 L326,1210.5 L327.5,1209.2 L329,1207.9 L330.5,1206.5 L332,1205 L333.5,1203.5 L335,1201.8 L336.5,1200.1 L338,1198.3 L339.5,1196.3 L341,1194.3 L342.5,1192.2 L344,1189.9 L345.5,1187.5 L347,1185 L348.5,1182.4 L350,1179.7 L351.5,1176.8 L353,1173.7 L354.5,1170.6 L356,1167.2 L357.5,1163.8 L359,1160.1 L360.5,1156.4 L362,1152.4 L363.5,1148.3 L365,1144.1 L366.5,1139.7 L368,1135.2 L369.5,1130.6 L371,1125.8 L372.5,1120.9 L374,1115.9 L375.5,1110.8 L377,1105.6 L378.5,1100.3 L380,1095 L381.5,1089.6 L383,1084.3 L384.5,1078.9 L386,1073.5 L387.5,1068.2 L389,1063 L390.5,1057.8 L392,1052.8 L393.5,1048 L395,1043.3 L396.5,1038.8 L398,1034.6 L399.5,1030.6 L401,1027 L402.5,1023.6 L404,1020.6 L405.5,1018 L407,1015.7 L408.5,1013.9 L410,1012.4 L411.5,1011.4 L413,1010.9 L414.5,1010.8 L416,1011.1 L417.5,1011.9 L419,1013.1 L420.5,1014.7 L422,1016.7 L423.5,1019.2 L425,1022 L426.5,1025.2 L428,1028.7 L429.5,1032.5 L431,1036.6 L432.5,1040.9 L434,1045.5 L435.5,1050.3 L437,1055.2 L438.5,1060.3 L440,1065.5 L441.5,1070.7 L443,1076.1 L444.5,1081.4 L446,1086.8 L447.5,1092.2 L449,1097.5 L450.5,1102.8 L452,1108.1 L453.5,1113.2 L455,1118.3 L456.5,1123.2 L458,1128.1 L459.5,1132.8 L461,1137.4 L462.5,1141.8 L464,1146.1 L465.5,1150.3 L467,1154.3 L468.5,1158.2 L470,1161.9 L471.5,1165.4 L473,1168.8 L474.5,1172.1 L476,1175.2 L477.5,1178.2 L479,1181 L480.5,1183.7 L482,1186.3 L483.5,1188.7 L485,1191 L486.5,1193.2 L488,1195.3 L489.5,1197.3 L491,1199.1 L492.5,1200.9 L494,1202.6 L495.5,1204.2 L497,1205.7 L498.5,1207.2 L500,1208.6 L501.5,1209.9 L503,1211.1 L504.5,1212.3 L506,1213.4 L507.5,1214.5 L509,1215.5 L510.5,1216.5 L512,1217.4 L513.5,1218.3 L515,1219.1 L516.5,1219.9 L518,1220.7 L519.5,1221.5 L521,1222.2 L522.5,1222.9 L524,1223.5 L525.5,1224.2 L527,1224.8 L528.5,1225.4 L530,1226 L531.5,1226.5 L533,1227 L534.5,1227.6 L536,1228.1 L537.5,1228.5 L539,1229 L540.5,1229.5 L542,1229.9 L543.5,1230.3 L545,1230.7 L546.5,1231.1 L548,1231.5 L549.5,1231.9 L551,1232.3 L552.5,1232.7 L554,1233 L555.5,1233.3 L557,1233.7 L558.5,1234 L560,1234.3 L561.5,1234.6 L563,1234.9 L564.5,1235.2 L566,1235.5 L567.5,1235.8 L569,1236 L570.5,1236.3 L572,1236.5 L573.5,1236.8 L575,1237 L576.5,1237.3 L578,1237.5 L579.5,1237.7 L581,1238 L582.5,1238.2 L584,1238.4 L585.5,1238.6 L587,1238.8 L588.5,1239 L590,1239.2 L591.5,1239.4 L593,1239.5 L594.5,1239.7 L596,1239.9 L597.5,1240.1 L599,1240.2 L600.5,1240.4 L602,1240.6 L603.5,1240.7 L605,1240.9 L606.5,1241 L608,1241.2 L609.5,1241.3 L611,1241.5 L612.5,1241.6 L614,1241.7 L615.5,1241.9 L617,1242 L618.5,1242.1 L620,1242.2 L621.5,1242.4 L623,1242.5 L624.5,1242.6 L626,1242.7 L627.5,1242.8 L629,1242.9 L630.5,1243.1 L632,1243.2 L633.5,1243.3 L635,1243.4 L636.5,1243.5 L638,1243.6 L639.5,1243.7 L641,1243.8 L642.5,1243.9 L644,1244 L645.5,1244 L647,1244.1 L648.5,1244.2 L650,1244.3 L651.5,1244.4 L653,1244.5 L654.5,1244.6 L656,1244.6 L657.5,1244.7 L659,1244.8 L660.5,1244.9 L662,1244.9 L663.5,1245 L665,1245.1 L666.5,1245.2 L668,1245.2 L669.5,1245.3 L671,1245.4 L672.5,1245.4 L674,1245.5 L675.5,1245.6 L677,1245.6 L678.5,1245.7 L680,1245.7 L681.5,1245.8 L683,1245.9 L684.5,1245.9 L686,1246 L687.5,1246 L689,1246.1 L690.5,1246.1 L692,1246.2 L693.5,1246.2 L695,1246.3 L696.5,1246.3 L698,1246.4 L699.5,1246.4 L701,1246.5 L702.5,1246.5 L704,1246.6 L705.5,1246.6 L707,1246.7 L708.5,1246.7 L710,1246.8 L711.5,1246.8 L713,1246.9 L714.5,1246.9 L716,1246.9 L717.5,1247 L719,1247 L720.5,1247.1 L722,1247.1 L723.5,1247.1 L725,1247.2 L726.5,1247.2 L728,1247.3 L729.5,1247.3 L731,1247.3 L732.5,1247.4 L734,1247.4 L735.5,1247.4 L737,1247.5 L738.5,1247.5 L740,1247.5 L741.5,1247.6 L743,1247.6 L744.5,1247.6 L746,1247.7 L747.5,1247.7 L749,1247.7 L750.5,1247.8 L752,1247.8 L753.5,1247.8 L755,1247.9 L756.5,1247.9 L758,1247.9 L759.5,1248 L761,1248 L762.5,1248 L764,1248 L765.5,1248.1 L767,1248.1 L768.5,1248.1 L770,1248.1 L771.5,1248.2 L773,1248.2 L774.5,1248.2 L776,1248.2 L777.5,1248.3 L779,1248.3 L780.5,1248.3 L782,1248.3 L783.5,1248.4 L785,1248.4 L786.5,1248.4 L788,1248.4 L789.5,1248.5 L791,1248.5 L792.5,1248.5 L794,1248.5 L795.5,1248.5 L797,1248.6 L798.5,1248.6 L800,1248.6 L801.5,1248.6 L803,1248.6 L804.5,1248.7 L806,1248.7 L807.5,1248.7 L809,1248.7 L810.5,1248.7 L812,1248.8 L813.5,1248.8 L815,1248.8 L816.5,1248.8 L818,1248.8 L819.5,1248.9 L821,1248.9 L822.5,1248.9 L824,1248.9 L825.5,1248.9 L827,1248.9 L828.5,1249 L830,1249 L831.5,1249 L833,1249 L834.5,1249 L836,1249 L837.5,1249.1 L839,1249.1 L840.5,1249.1 L842,1249.1 L843.5,1249.1 L845,1249.1 L846.5,1249.1 L848,1249.2 L849.5,1249.2 L851,1249.2 L852.5,1249.2 L854,1249.2 L855.5,1249.2 L857,1249.2 L858.5,1249.3 L860,1249.3 L861.5,1249.3 L863,1249.3 L864.5,1249.3 L866,1249.3 L867.5,1249.3 L869,1249.4 L870.5,1249.4 L871.6,1249.4" fill="none" stroke="#ff00ff" stroke-width="3.8" stroke-linejoin="round" stroke-linecap="round" />
<path d="M78.5,1246.3 L80,1246.3 L81.5,1246.3 L83,1246.2 L84.5,1246.2 L86,1246.2 L87.5,1246.1 L89,1246.1 L90.5,1246 L92,1246 L93.5,1246 L95,1245.9 L96.5,1245.9 L98,1245.9 L99.5,1245.8 L101,1245.8 L102.5,1245.7 L104,1245.7 L105.5,1245.6 L107,1245.6 L108.5,1245.6 L110,1245.5 L111.5,1245.5 L113,1245.4 L114.5,1245.4 L116,1245.3 L117.5,1245.3 L119,1245.3 L120.5,1245.2 L122,1245.2 L123.5,1245.1 L125,1245.1 L126.5,1245 L128,1245 L129.5,1244.9 L131,1244.9 L132.5,1244.8 L134,1244.8 L135.5,1244.7 L137,1244.7 L138.5,1244.6 L140,1244.5 L141.5,1244.5 L143,1244.4 L144.5,1244.4 L146,1244.3 L147.5,1244.3 L149,1244.2 L150.5,1244.1 L152,1244.1 L153.5,1244 L155,1244 L156.5,1243.9 L158,1243.8 L159.5,1243.8 L161,1243.7 L162.5,1243.6 L164,1243.6 L165.5,1243.5 L167,1243.4 L168.5,1243.4 L170,1243.3 L171.5,1243.2 L173,1243.2 L174.5,1243.1 L176,1243 L177.5,1242.9 L179,1242.9 L180.5,1242.8 L182,1242.7 L183.5,1242.6 L185,1242.6 L186.5,1242.5 L188,1242.4 L189.5,1242.3 L191,1242.2 L192.5,1242.1 L194,1242.1 L195.5,1242 L197,1241.9 L198.5,1241.8 L200,1241.7 L201.5,1241.6 L203,1241.5 L204.5,1241.4 L206,1241.3 L207.5,1241.2 L209,1241.1 L210.5,1241 L212,1240.9 L213.5,1240.8 L215,1240.7 L216.5,1240.6 L218,1240.5 L219.5,1240.4 L221,1240.3 L222.5,1240.2 L224,1240 L225.5,1239.9 L227,1239.8 L228.5,1239.7 L230,1239.6 L231.5,1239.4 L233,1239.3 L234.5,1239.2 L236,1239 L237.5,1238.9 L239,1238.8 L240.5,1238.6 L242,1238.5 L243.5,1238.4 L245,1238.2 L246.5,1238.1 L248,1237.9 L249.5,1237.8 L251,1237.6 L252.5,1237.4 L254,1237.3 L255.5,1237.1 L257,1237 L258.5,1236.8 L260,1236.6 L261.5,1236.4 L263,1236.3 L264.5,1236.1 L266,1235.9 L267.5,1235.7 L269,1235.5 L270.5,1235.3 L272,1235.1 L273.5,1234.9 L275,1234.7 L276.5,1234.5 L278,1234.3 L279.5,1234.1 L281,1233.9 L282.5,1233.6 L284,1233.4 L285.5,1233.2 L287,1232.9 L288.5,1232.7 L290,1232.4 L291.5,1232.2 L293,1231.9 L294.5,1231.7 L296,1231.4 L297.5,1231.1 L299,1230.9 L300.5,1230.6 L302,1230.3 L303.5,1230 L305,1229.7 L306.5,1229.4 L308,1229.1 L309.5,1228.7 L311,1228.4 L312.5,1228.1 L314,1227.7 L315.5,1227.4 L317,1227 L318.5,1226.6 L320,1226.3 L321.5,1225.9 L323,1225.5 L324.5,1225.1 L326,1224.7 L327.5,1224.3 L329,1223.8 L330.5,1223.4 L332,1222.9 L333.5,1222.5 L335,1222 L336.5,1221.5 L338,1221 L339.5,1220.5 L341,1220 L342.5,1219.5 L344,1218.9 L345.5,1218.3 L347,1217.8 L348.5,1217.2 L350,1216.6 L351.5,1215.9 L353,1215.3 L354.5,1214.6 L356,1213.9 L357.5,1213.2 L359,1212.5 L360.5,1211.8 L362,1211 L363.5,1210.2 L365,1209.4 L366.5,1208.5 L368,1207.6 L369.5,1206.7 L371,1205.8 L372.5,1204.8 L374,1203.9 L375.5,1202.8 L377,1201.7 L378.5,1200.6 L380,1199.5 L381.5,1198.3 L383,1197.1 L384.5,1195.8 L386,1194.4 L387.5,1193.1 L389,1191.6 L390.5,1190.1 L392,1188.6 L393.5,1186.9 L395,1185.3 L396.5,1183.5 L398,1181.7 L399.5,1179.8 L401,1177.8 L402.5,1175.7 L404,1173.6 L405.5,1171.3 L407,1169 L408.5,1166.5 L410,1164 L411.5,1161.3 L413,1158.5 L414.5,1155.6 L416,1152.6 L417.5,1149.5 L419,1146.2 L420.5,1142.8 L422,1139.2 L423.5,1135.6 L425,1131.7 L426.5,1127.7 L428,1123.6 L429.5,1119.2 L431,1114.8 L432.5,1110.1 L434,1105.3 L435.5,1100.3 L437,1095.1 L438.5,1089.7 L440,1084.1 L441.5,1078.4 L443,1072.5 L444.5,1066.3 L446,1060 L447.5,1053.5 L449,1046.8 L450.5,1039.9 L452,1032.9 L453.5,1025.6 L455,1018.2 L456.5,1010.6 L458,1002.9 L459.5,995 L461,986.9 L462.5,978.8 L464,970.5 L465.5,962.1 L467,953.6 L468.5,945.1 L470,936.5 L471.5,927.9 L473,919.3 L474.5,910.7 L476,902.2 L477.5,893.9 L479,885.6 L480.5,877.5 L482,869.7 L483.5,862.1 L485,854.8 L486.5,847.8 L488,841.3 L489.5,835.2 L491,829.5 L492.5,824.4 L494,819.8 L495.5,815.8 L497,812.4 L498.5,809.7 L500,807.6 L501.5,806.3 L503,805.7 L504.5,805.7 L506,806.5 L507.5,808 L509,810.1 L510.5,813 L512,816.4 L513.5,820.5 L515,825.2 L516.5,830.5 L518,836.2 L519.5,842.4 L521,849 L522.5,856.1 L524,863.4 L525.5,871 L527,878.9 L528.5,887 L530,895.3 L531.5,903.7 L533,912.2 L534.5,920.8 L536,929.4 L537.5,938 L539,946.6 L540.5,955.1 L542,963.6 L543.5,971.9 L545,980.2 L546.5,988.4 L548,996.4 L549.5,1004.3 L551,1012 L552.5,1019.5 L554,1026.9 L555.5,1034.1 L557,1041.2 L558.5,1048 L560,1054.7 L561.5,1061.1 L563,1067.4 L564.5,1073.5 L566,1079.4 L567.5,1085.1 L569,1090.7 L570.5,1096 L572,1101.1 L573.5,1106.1 L575,1110.9 L576.5,1115.6 L578,1120 L579.5,1124.3 L581,1128.4 L582.5,1132.4 L584,1136.2 L585.5,1139.9 L587,1143.4 L588.5,1146.8 L590,1150 L591.5,1153.2 L593,1156.1 L594.5,1159 L596,1161.8 L597.5,1164.4 L599,1166.9 L600.5,1169.4 L602,1171.7 L603.5,1173.9 L605,1176.1 L606.5,1178.1 L608,1180.1 L609.5,1182 L611,1183.8 L612.5,1185.6 L614,1187.2 L615.5,1188.8 L617,1190.4 L618.5,1191.9 L620,1193.3 L621.5,1194.7 L623,1196 L624.5,1197.3 L626,1198.5 L627.5,1199.7 L629,1200.8 L630.5,1201.9 L632,1203 L633.5,1204 L635,1205 L636.5,1206 L638,1206.9 L639.5,1207.8 L641,1208.7 L642.5,1209.5 L644,1210.3 L645.5,1211.1 L647,1211.9 L648.5,1212.6 L650,1213.3 L651.5,1214.1 L653,1214.7 L654.5,1215.4 L656,1216 L657.5,1216.7 L659,1217.3 L660.5,1217.9 L662,1218.4 L663.5,1219 L665,1219.6 L666.5,1220.1 L668,1220.6 L669.5,1221.1 L671,1221.6 L672.5,1222.1 L674,1222.6 L675.5,1223 L677,1223.5 L678.5,1223.9 L680,1224.3 L681.5,1224.8 L683,1225.2 L684.5,1225.6 L686,1226 L687.5,1226.3 L689,1226.7 L690.5,1227.1 L692,1227.4 L693.5,1227.8 L695,1228.1 L696.5,1228.5 L698,1228.8 L699.5,1229.1 L701,1229.4 L702.5,1229.7 L704,1230 L705.5,1230.3 L707,1230.6 L708.5,1230.9 L710,1231.2 L711.5,1231.5 L713,1231.7 L714.5,1232 L716,1232.2 L717.5,1232.5 L719,1232.7 L720.5,1233 L722,1233.2 L723.5,1233.5 L725,1233.7 L726.5,1233.9 L728,1234.1 L729.5,1234.3 L731,1234.6 L732.5,1234.8 L734,1235 L735.5,1235.2 L737,1235.4 L738.5,1235.6 L740,1235.7 L741.5,1235.9 L743,1236.1 L744.5,1236.3 L746,1236.5 L747.5,1236.6 L749,1236.8 L750.5,1237 L752,1237.2 L753.5,1237.3 L755,1237.5 L756.5,1237.6 L758,1237.8 L759.5,1237.9 L761,1238.1 L762.5,1238.2 L764,1238.4 L765.5,1238.5 L767,1238.7 L768.5,1238.8 L770,1238.9 L771.5,1239.1 L773,1239.2 L774.5,1239.3 L776,1239.5 L777.5,1239.6 L779,1239.7 L780.5,1239.8 L782,1239.9 L783.5,1240.1 L785,1240.2 L786.5,1240.3 L788,1240.4 L789.5,1240.5 L791,1240.6 L792.5,1240.7 L794,1240.8 L795.5,1240.9 L797,1241 L798.5,1241.1 L800,1241.2 L801.5,1241.3 L803,1241.4 L804.5,1241.5 L806,1241.6 L807.5,1241.7 L809,1241.8 L810.5,1241.9 L812,1242 L813.5,1242.1 L815,1242.2 L816.5,1242.2 L818,1242.3 L819.5,1242.4 L821,1242.5 L822.5,1242.6 L824,1242.7 L825.5,1242.7 L827,1242.8 L828.5,1242.9 L830,1243 L831.5,1243 L833,1243.1 L834.5,1243.2 L836,1243.3 L837.5,1243.3 L839,1243.4 L840.5,1243.5 L842,1243.5 L843.5,1243.6 L845,1243.7 L846.5,1243.7 L848,1243.8 L849.5,1243.9 L851,1243.9 L852.5,1244 L854,1244 L855.5,1244.1 L857,1244.2 L858.5,1244.2 L860,1244.3 L861.5,1244.3 L863,1244.4 L864.5,1244.4 L866,1244.5 L867.5,1244.6 L869,1244.6 L870.5,1244.7 L871.6,1244.7" fill="none" stroke="#008000" stroke-width="3.8" stroke-linejoin="round" stroke-linecap="round" />
<path d="M78.5,1242.8 L80,1242.7 L81.5,1242.7 L83,1242.6 L84.5,1242.5 L86,1242.5 L87.5,1242.4 L89,1242.3 L90.5,1242.2 L92,1242.2 L93.5,1242.1 L95,1242 L96.5,1241.9 L98,1241.9 L99.5,1241.8 L101,1241.7 L102.5,1241.6 L104,1241.6 L105.5,1241.5 L107,1241.4 L108.5,1241.3 L110,1241.2 L111.5,1241.1 L113,1241.1 L114.5,1241 L116,1240.9 L117.5,1240.8 L119,1240.7 L120.5,1240.6 L122,1240.5 L123.5,1240.4 L125,1240.3 L126.5,1240.2 L128,1240.1 L129.5,1240 L131,1239.9 L132.5,1239.8 L134,1239.7 L135.5,1239.6 L137,1239.5 L138.5,1239.4 L140,1239.3 L141.5,1239.2 L143,1239.1 L144.5,1239 L146,1238.9 L147.5,1238.7 L149,1238.6 L150.5,1238.5 L152,1238.4 L153.5,1238.2 L155,1238.1 L156.5,1238 L158,1237.9 L159.5,1237.7 L161,1237.6 L162.5,1237.5 L164,1237.3 L165.5,1237.2 L167,1237 L168.5,1236.9 L170,1236.8 L171.5,1236.6 L173,1236.5 L174.5,1236.3 L176,1236.2 L177.5,1236 L179,1235.8 L180.5,1235.7 L182,1235.5 L183.5,1235.3 L185,1235.2 L186.5,1235 L188,1234.8 L189.5,1234.6 L191,1234.5 L192.5,1234.3 L194,1234.1 L195.5,1233.9 L197,1233.7 L198.5,1233.5 L200,1233.3 L201.5,1233.1 L203,1232.9 L204.5,1232.7 L206,1232.5 L207.5,1232.2 L209,1232 L210.5,1231.8 L212,1231.6 L213.5,1231.3 L215,1231.1 L216.5,1230.8 L218,1230.6 L219.5,1230.3 L221,1230.1 L222.5,1229.8 L224,1229.5 L225.5,1229.3 L227,1229 L228.5,1228.7 L230,1228.4 L231.5,1228.1 L233,1227.8 L234.5,1227.5 L236,1227.2 L237.5,1226.9 L239,1226.6 L240.5,1226.2 L242,1225.9 L243.5,1225.5 L245,1225.2 L246.5,1224.8 L248,1224.5 L249.5,1224.1 L251,1223.7 L252.5,1223.3 L254,1222.9 L255.5,1222.5 L257,1222.1 L258.5,1221.7 L260,1221.2 L261.5,1220.8 L263,1220.3 L264.5,1219.8 L266,1219.4 L267.5,1218.9 L269,1218.4 L270.5,1217.9 L272,1217.3 L273.5,1216.8 L275,1216.3 L276.5,1215.7 L278,1215.1 L279.5,1214.5 L281,1213.9 L282.5,1213.3 L284,1212.7 L285.5,1212 L287,1211.3 L288.5,1210.6 L290,1209.9 L291.5,1209.2 L293,1208.5 L294.5,1207.7 L296,1206.9 L297.5,1206.1 L299,1205.2 L300.5,1204.4 L302,1203.5 L303.5,1202.6 L305,1201.6 L306.5,1200.6 L308,1199.6 L309.5,1198.5 L311,1197.5 L312.5,1196.3 L314,1195.1 L315.5,1193.9 L317,1192.7 L318.5,1191.3 L320,1190 L321.5,1188.5 L323,1187.1 L324.5,1185.5 L326,1183.9 L327.5,1182.2 L329,1180.4 L330.5,1178.5 L332,1176.5 L333.5,1174.4 L335,1172.2 L336.5,1169.9 L338,1167.4 L339.5,1164.7 L341,1161.9 L342.5,1158.9 L344,1155.6 L345.5,1152.2 L347,1148.4 L348.5,1144.5 L350,1140.2 L351.5,1135.7 L353,1130.9 L354.5,1125.8 L356,1120.4 L357.5,1114.9 L359,1109.1 L360.5,1103.1 L362,1097 L363.5,1090.9 L365,1084.7 L366.5,1078.5 L368,1072.3 L369.5,1066.3 L371,1060.3 L372.5,1054.5 L374,1048.8 L375.5,1043.3 L377,1037.8 L378.5,1032.5 L380,1027.2 L381.5,1022 L383,1016.7 L384.5,1011.5 L386,1006.3 L387.5,1000.9 L389,995.6 L390.5,990.2 L392,984.7 L393.5,979.2 L395,973.7 L396.5,968.2 L398,962.7 L399.5,957.4 L401,952.1 L402.5,947 L404,942.1 L405.5,937.4 L407,933 L408.5,928.8 L410,924.9 L411.5,921.3 L413,918 L414.5,915 L416,912.4 L417.5,910 L419,907.9 L420.5,906.2 L422,904.7 L423.5,903.4 L425,902.4 L426.5,901.6 L428,900.9 L429.5,900.4 L431,900 L432.5,899.7 L434,899.5 L435.5,899.2 L437,899 L438.5,898.7 L440,898.3 L441.5,897.8 L443,897.2 L444.5,896.5 L446,895.5 L447.5,894.4 L449,893.1 L450.5,891.5 L452,889.6 L453.5,887.5 L455,885.1 L456.5,882.5 L458,879.5 L459.5,876.3 L461,872.8 L462.5,868.9 L464,864.8 L465.5,860.4 L467,855.8 L468.5,850.9 L470,845.7 L471.5,840.4 L473,834.8 L474.5,829.2 L476,823.4 L477.5,817.6 L479,811.7 L480.5,805.9 L482,800.2 L483.5,794.7 L485,789.4 L486.5,784.5 L488,779.8 L489.5,775.6 L491,771.8 L492.5,768.6 L494,765.9 L495.5,763.7 L497,762.2 L498.5,761.3 L500,761 L501.5,761.4 L503,762.4 L504.5,764.1 L506,766.4 L507.5,769.3 L509,772.8 L510.5,776.9 L512,781.5 L513.5,786.7 L515,792.4 L516.5,798.6 L518,805.3 L519.5,812.3 L521,819.7 L522.5,827.5 L524,835.5 L525.5,843.9 L527,852.4 L528.5,861.1 L530,870 L531.5,878.9 L533,888 L534.5,897 L536,906.1 L537.5,915.2 L539,924.3 L540.5,933.2 L542,942.1 L543.5,950.9 L545,959.6 L546.5,968 L548,976.4 L549.5,984.5 L551,992.4 L552.5,1000 L554,1007.4 L555.5,1014.6 L557,1021.4 L558.5,1027.9 L560,1034.2 L561.5,1040.2 L563,1045.9 L564.5,1051.4 L566,1056.7 L567.5,1062 L569,1067.2 L570.5,1072.3 L572,1077.5 L573.5,1082.7 L575,1088 L576.5,1093.3 L578,1098.6 L579.5,1103.9 L581,1109 L582.5,1114.1 L584,1119 L585.5,1123.6 L587,1128.1 L588.5,1132.3 L590,1136.3 L591.5,1140 L593,1143.5 L594.5,1146.8 L596,1150 L597.5,1152.9 L599,1155.7 L600.5,1158.4 L602,1160.9 L603.5,1163.3 L605,1165.6 L606.5,1167.8 L608,1170 L609.5,1172 L611,1174 L612.5,1175.9 L614,1177.7 L615.5,1179.4 L617,1181.1 L618.5,1182.7 L620,1184.3 L621.5,1185.8 L623,1187.2 L624.5,1188.6 L626,1189.9 L627.5,1191.2 L629,1192.5 L630.5,1193.7 L632,1194.9 L633.5,1196 L635,1197.1 L636.5,1198.2 L638,1199.2 L639.5,1200.2 L641,1201.1 L642.5,1202.1 L644,1203 L645.5,1203.9 L647,1204.7 L648.5,1205.5 L650,1206.4 L651.5,1207.1 L653,1207.9 L654.5,1208.6 L656,1209.4 L657.5,1210.1 L659,1210.8 L660.5,1211.4 L662,1212.1 L663.5,1212.7 L665,1213.3 L666.5,1213.9 L668,1214.5 L669.5,1215.1 L671,1215.7 L672.5,1216.2 L674,1216.7 L675.5,1217.3 L677,1217.8 L678.5,1218.3 L680,1218.8 L681.5,1219.3 L683,1219.7 L684.5,1220.2 L686,1220.6 L687.5,1221.1 L689,1221.5 L690.5,1221.9 L692,1222.3 L693.5,1222.7 L695,1223.1 L696.5,1223.5 L698,1223.9 L699.5,1224.3 L701,1224.6 L702.5,1225 L704,1225.3 L705.5,1225.7 L707,1226 L708.5,1226.3 L710,1226.7 L711.5,1227 L713,1227.3 L714.5,1227.6 L716,1227.9 L717.5,1228.2 L719,1228.5 L720.5,1228.8 L722,1229 L723.5,1229.3 L725,1229.6 L726.5,1229.8 L728,1230.1 L729.5,1230.3 L731,1230.6 L732.5,1230.8 L734,1231.1 L735.5,1231.3 L737,1231.5 L738.5,1231.8 L740,1232 L741.5,1232.2 L743,1232.4 L744.5,1232.6 L746,1232.9 L747.5,1233.1 L749,1233.3 L750.5,1233.5 L752,1233.7 L753.5,1233.8 L755,1234 L756.5,1234.2 L758,1234.4 L759.5,1234.6 L761,1234.8 L762.5,1234.9 L764,1235.1 L765.5,1235.3 L767,1235.4 L768.5,1235.6 L770,1235.8 L771.5,1235.9 L773,1236.1 L774.5,1236.2 L776,1236.4 L777.5,1236.5 L779,1236.7 L780.5,1236.8 L782,1237 L783.5,1237.1 L785,1237.3 L786.5,1237.4 L788,1237.5 L789.5,1237.7 L791,1237.8 L792.5,1237.9 L794,1238.1 L795.5,1238.2 L797,1238.3 L798.5,1238.4 L800,1238.5 L801.5,1238.7 L803,1238.8 L804.5,1238.9 L806,1239 L807.5,1239.1 L809,1239.2 L810.5,1239.3 L812,1239.4 L813.5,1239.6 L815,1239.7 L816.5,1239.8 L818,1239.9 L819.5,1240 L821,1240.1 L822.5,1240.2 L824,1240.3 L825.5,1240.4 L827,1240.4 L828.5,1240.5 L830,1240.6 L831.5,1240.7 L833,1240.8 L834.5,1240.9 L836,1241 L837.5,1241.1 L839,1241.2 L840.5,1241.2 L842,1241.3 L843.5,1241.4 L845,1241.5 L846.5,1241.6 L848,1241.6 L849.5,1241.7 L851,1241.8 L852.5,1241.9 L854,1242 L855.5,1242 L857,1242.1 L858.5,1242.2 L860,1242.2 L861.5,1242.3 L863,1242.4 L864.5,1242.5 L866,1242.5 L867.5,1242.6 L869,1242.7 L870.5,1242.7 L871.6,1242.8" fill="none" stroke="#ff0000" stroke-width="4.2" stroke-linejoin="round" stroke-linecap="round" />
<rect x="76.5" y="722.3" width="797.1" height="593.9" fill="none" stroke="#000" stroke-width="4"/>
<line x1="76.5" y1="1316.2" x2="76.5" y2="1328.7" stroke="#000" stroke-width="4"/>
<line x1="165.1" y1="1316.2" x2="165.1" y2="1328.7" stroke="#000" stroke-width="4"/>
<line x1="253.6" y1="1316.2" x2="253.6" y2="1328.7" stroke="#000" stroke-width="4"/>
<line x1="342.2" y1="1316.2" x2="342.2" y2="1328.7" stroke="#000" stroke-width="4"/>
<line x1="430.8" y1="1316.2" x2="430.8" y2="1328.7" stroke="#000" stroke-width="4"/>
<line x1="519.3" y1="1316.2" x2="519.3" y2="1328.7" stroke="#000" stroke-width="4"/>
<line x1="607.9" y1="1316.2" x2="607.9" y2="1328.7" stroke="#000" stroke-width="4"/>
<line x1="696.5" y1="1316.2" x2="696.5" y2="1328.7" stroke="#000" stroke-width="4"/>
<line x1="785.1" y1="1316.2" x2="785.1" y2="1328.7" stroke="#000" stroke-width="4"/>
<line x1="873.6" y1="1316.2" x2="873.6" y2="1328.7" stroke="#000" stroke-width="4"/>
<line x1="120.8" y1="1316.2" x2="120.8" y2="1323.2" stroke="#000" stroke-width="3.6"/>
<line x1="209.4" y1="1316.2" x2="209.4" y2="1323.2" stroke="#000" stroke-width="3.6"/>
<line x1="297.9" y1="1316.2" x2="297.9" y2="1323.2" stroke="#000" stroke-width="3.6"/>
<line x1="386.5" y1="1316.2" x2="386.5" y2="1323.2" stroke="#000" stroke-width="3.6"/>
<line x1="475.1" y1="1316.2" x2="475.1" y2="1323.2" stroke="#000" stroke-width="3.6"/>
<line x1="563.6" y1="1316.2" x2="563.6" y2="1323.2" stroke="#000" stroke-width="3.6"/>
<line x1="652.2" y1="1316.2" x2="652.2" y2="1323.2" stroke="#000" stroke-width="3.6"/>
<line x1="740.8" y1="1316.2" x2="740.8" y2="1323.2" stroke="#000" stroke-width="3.6"/>
<line x1="829.3" y1="1316.2" x2="829.3" y2="1323.2" stroke="#000" stroke-width="3.6"/>
<text x="76.5" y="1354.7" font-size="24" text-anchor="middle" clip-path="url(#clipc)">73</text>
<text x="165.1" y="1354.7" font-size="24" text-anchor="middle" clip-path="url(#clipc)">72</text>
<text x="253.6" y="1354.7" font-size="24" text-anchor="middle" clip-path="url(#clipc)">71</text>
<text x="342.2" y="1354.7" font-size="24" text-anchor="middle" clip-path="url(#clipc)">70</text>
<text x="430.8" y="1354.7" font-size="24" text-anchor="middle" clip-path="url(#clipc)">69</text>
<text x="519.3" y="1354.7" font-size="24" text-anchor="middle" clip-path="url(#clipc)">68</text>
<text x="607.9" y="1354.7" font-size="24" text-anchor="middle" clip-path="url(#clipc)">67</text>
<text x="696.5" y="1354.7" font-size="24" text-anchor="middle" clip-path="url(#clipc)">66</text>
<text x="785.1" y="1354.7" font-size="24" text-anchor="middle" clip-path="url(#clipc)">65</text>
<text x="873.6" y="1354.7" font-size="24" text-anchor="middle" clip-path="url(#clipc)">64</text>
<text x="475" y="1405.8" font-size="30" text-anchor="middle" letter-spacing="0.4">Binding energy (eV)</text>
<text x="29.7" y="1029.5" font-size="30" text-anchor="middle" transform="rotate(-90 29.7 1029.5)" letter-spacing="0.25">Intensity (a.u.)</text>
<text x="93.2" y="765" font-size="30" text-anchor="start" letter-spacing="0.6">(c)</text>
<text x="855.6" y="770.9" font-size="31" text-anchor="end" >Br 3d</text>
<text x="224.5" y="923.4" font-size="27" text-anchor="start" letter-spacing="0.15">Br 3d<tspan font-size="17" dy="8" letter-spacing="0">3/2</tspan></text>
<text x="217.2" y="964.1" font-size="27" text-anchor="start" letter-spacing="0.15">69.20 eV</text>
<line x1="410" y1="1009.2" x2="342" y2="961.7" stroke="#000" stroke-width="2.6"/>
<polygon points="333,955.4 346.8,958.3 340.5,967.4" fill="#000"/>
<text x="607" y="863.9" font-size="27" text-anchor="start" letter-spacing="0.15">Br 3d<tspan font-size="17" dy="8" letter-spacing="0">5/2</tspan></text>
<text x="599.8" y="898.7" font-size="27" text-anchor="start" letter-spacing="0.15">68.19 eV</text>
<line x1="535.4" y1="936.5" x2="586.9" y2="905.8" stroke="#000" stroke-width="2.6"/>
<polygon points="596.4,900.2 588,911.6 582.4,902.1" fill="#000"/>
<path d="M952,1238.2 L953.5,1238.2 L955,1238.2 L956.5,1238.2 L958,1238.2 L959.5,1238.2 L961,1238.2 L962.5,1238.2 L964,1238.2 L965.5,1238.2 L967,1238.2 L968.5,1238.2 L970,1238.2 L971.5,1238.2 L973,1238.2 L974.5,1238.2 L976,1238.2 L977.5,1238.2 L979,1238.2 L980.5,1238.2 L982,1238.2 L983.5,1238.2 L985,1238.2 L986.5,1238.2 L988,1238.2 L989.5,1238.2 L991,1238.2 L992.5,1238.2 L994,1238.2 L995.5,1238.2 L997,1238.2 L998.5,1238.2 L1000,1238.2 L1001.5,1238.2 L1003,1238.2 L1004.5,1238.2 L1006,1238.2 L1007.5,1238.2 L1009,1238.2 L1010.5,1238.2 L1012,1238.2 L1013.5,1238.2 L1015,1238.2 L1016.5,1238.2 L1018,1238.2 L1019.5,1238.2 L1021,1238.2 L1022.5,1238.2 L1024,1238.2 L1025.5,1238.2 L1027,1238.2 L1028.5,1238.2 L1030,1238.2 L1031.5,1238.2 L1033,1238.2 L1034.5,1238.2 L1036,1238.2 L1037.5,1238.2 L1039,1238.2 L1040.5,1238.2 L1042,1238.2 L1043.5,1238.2 L1045,1238.2 L1046.5,1238.2 L1048,1238.2 L1049.5,1238.2 L1051,1238.2 L1052.5,1238.2 L1054,1238.2 L1055.5,1238.2 L1057,1238.2 L1058.5,1238.2 L1060,1238.2 L1061.5,1238.2 L1063,1238.2 L1064.5,1238.2 L1066,1238.2 L1067.5,1238.2 L1069,1238.2 L1070.5,1238.2 L1072,1238.2 L1073.5,1238.2 L1075,1238.2 L1076.5,1238.2 L1078,1238.2 L1079.5,1238.2 L1081,1238.2 L1082.5,1238.2 L1084,1238.2 L1085.5,1238.2 L1087,1238.2 L1088.5,1238.2 L1090,1238.2 L1091.5,1238.2 L1093,1238.2 L1094.5,1238.2 L1096,1238.2 L1097.5,1238.2 L1099,1238.2 L1100.5,1238.2 L1102,1238.2 L1103.5,1238.2 L1105,1238.2 L1106.5,1238.2 L1108,1238.2 L1109.5,1238.2 L1111,1238.2 L1112.5,1238.2 L1114,1238.2 L1115.5,1238.2 L1117,1238.2 L1118.5,1238.2 L1120,1238.2 L1121.5,1238.2 L1123,1238.2 L1124.5,1238.2 L1126,1238.2 L1127.5,1238.2 L1129,1238.2 L1130.5,1238.2 L1132,1238.2 L1133.5,1238.2 L1135,1238.2 L1136.5,1238.2 L1138,1238.2 L1139.5,1238.2 L1141,1238.2 L1142.5,1238.2 L1144,1238.2 L1145.5,1238.2 L1147,1238.2 L1148.5,1238.2 L1150,1238.2 L1151.5,1238.2 L1153,1238.2 L1154.5,1238.2 L1156,1238.2 L1157.5,1238.2 L1159,1238.2 L1160.5,1238.2 L1162,1238.2 L1163.5,1238.2 L1165,1238.2 L1166.5,1238.2 L1168,1238.2 L1169.5,1238.2 L1171,1238.2 L1172.5,1238.2 L1174,1238.2 L1175.5,1238.2 L1177,1238.2 L1178.5,1238.2 L1180,1238.2 L1181.5,1238.2 L1183,1238.2 L1184.5,1238.2 L1186,1238.2 L1187.5,1238.2 L1189,1238.2 L1190.5,1238.2 L1192,1238.2 L1193.5,1238.2 L1195,1238.2 L1196.5,1238.2 L1198,1238.2 L1199.5,1238.2 L1201,1238.2 L1202.5,1238.2 L1204,1238.2 L1205.5,1238.2 L1207,1238.2 L1208.5,1238.2 L1210,1238.2 L1211.5,1238.2 L1213,1238.2 L1214.5,1238.2 L1216,1238.2 L1217.5,1238.2 L1219,1238.2 L1220.5,1238.2 L1222,1238.2 L1223.5,1238.2 L1225,1238.2 L1226.5,1238.2 L1228,1238.2 L1229.5,1238.2 L1231,1238.3 L1232.5,1238.3 L1234,1238.3 L1235.5,1238.3 L1237,1238.3 L1238.5,1238.3 L1240,1238.3 L1241.5,1238.3 L1243,1238.3 L1244.5,1238.3 L1246,1238.3 L1247.5,1238.3 L1249,1238.3 L1250.5,1238.3 L1252,1238.3 L1253.5,1238.3 L1255,1238.3 L1256.5,1238.3 L1258,1238.3 L1259.5,1238.3 L1261,1238.3 L1262.5,1238.3 L1264,1238.4 L1265.5,1238.4 L1267,1238.4 L1268.5,1238.4 L1270,1238.4 L1271.5,1238.4 L1273,1238.4 L1274.5,1238.4 L1276,1238.4 L1277.5,1238.4 L1279,1238.4 L1280.5,1238.5 L1282,1238.5 L1283.5,1238.5 L1285,1238.5 L1286.5,1238.5 L1288,1238.5 L1289.5,1238.5 L1291,1238.6 L1292.5,1238.6 L1294,1238.6 L1295.5,1238.6 L1297,1238.6 L1298.5,1238.7 L1300,1238.7 L1301.5,1238.7 L1303,1238.7 L1304.5,1238.8 L1306,1238.8 L1307.5,1238.8 L1309,1238.9 L1310.5,1238.9 L1312,1238.9 L1313.5,1239 L1315,1239 L1316.5,1239 L1318,1239.1 L1319.5,1239.1 L1321,1239.2 L1322.5,1239.2 L1324,1239.3 L1325.5,1239.3 L1327,1239.4 L1328.5,1239.4 L1330,1239.5 L1331.5,1239.6 L1333,1239.6 L1334.5,1239.7 L1336,1239.8 L1337.5,1239.8 L1339,1239.9 L1340.5,1240 L1342,1240.1 L1343.5,1240.2 L1345,1240.3 L1346.5,1240.4 L1348,1240.5 L1349.5,1240.6 L1351,1240.7 L1352.5,1240.8 L1354,1240.9 L1355.5,1241.1 L1357,1241.2 L1358.5,1241.3 L1360,1241.5 L1361.5,1241.6 L1363,1241.8 L1364.5,1241.9 L1366,1242.1 L1367.5,1242.3 L1369,1242.4 L1370.5,1242.6 L1372,1242.8 L1373.5,1243 L1375,1243.2 L1376.5,1243.4 L1378,1243.6 L1379.5,1243.8 L1381,1244.1 L1382.5,1244.3 L1384,1244.5 L1385.5,1244.8 L1387,1245 L1388.5,1245.3 L1390,1245.6 L1391.5,1245.8 L1393,1246.1 L1394.5,1246.4 L1396,1246.7 L1397.5,1247 L1399,1247.3 L1400.5,1247.6 L1402,1247.9 L1403.5,1248.2 L1405,1248.5 L1406.5,1248.9 L1408,1249.2 L1409.5,1249.5 L1411,1249.9 L1412.5,1250.2 L1414,1250.5 L1415.5,1250.9 L1417,1251.2 L1418.5,1251.6 L1420,1251.9 L1421.5,1252.2 L1423,1252.6 L1424.5,1252.9 L1426,1253.3 L1427.5,1253.6 L1429,1253.9 L1430.5,1254.3 L1432,1254.6 L1433.5,1254.9 L1435,1255.3 L1436.5,1255.6 L1438,1255.9 L1439.5,1256.2 L1441,1256.5 L1442.5,1256.8 L1444,1257.1 L1445.5,1257.4 L1447,1257.7 L1448.5,1258 L1450,1258.2 L1451.5,1258.5 L1453,1258.8 L1454.5,1259 L1456,1259.3 L1457.5,1259.5 L1459,1259.7 L1460.5,1260 L1462,1260.2 L1463.5,1260.4 L1465,1260.6 L1466.5,1260.8 L1468,1261 L1469.5,1261.2 L1471,1261.4 L1472.5,1261.5 L1474,1261.7 L1475.5,1261.9 L1477,1262 L1478.5,1262.2 L1480,1262.3 L1481.5,1262.5 L1483,1262.6 L1484.5,1262.7 L1486,1262.9 L1487.5,1263 L1489,1263.1 L1490.5,1263.2 L1492,1263.3 L1493.5,1263.4 L1495,1263.5 L1496.5,1263.6 L1498,1263.7 L1499.5,1263.8 L1501,1263.9 L1502.5,1264 L1504,1264 L1505.5,1264.1 L1507,1264.2 L1508.5,1264.2 L1510,1264.3 L1511.5,1264.4 L1513,1264.4 L1514.5,1264.5 L1516,1264.5 L1517.5,1264.6 L1519,1264.6 L1520.5,1264.7 L1522,1264.7 L1523.5,1264.8 L1525,1264.8 L1526.5,1264.8 L1528,1264.9 L1529.5,1264.9 L1531,1264.9 L1532.5,1265 L1534,1265 L1535.5,1265 L1537,1265.1 L1538.5,1265.1 L1540,1265.1 L1541.5,1265.1 L1543,1265.2 L1544.5,1265.2 L1546,1265.2 L1547.5,1265.2 L1549,1265.2 L1550.5,1265.3 L1552,1265.3 L1553.5,1265.3 L1555,1265.3 L1556.5,1265.3 L1558,1265.3 L1559.5,1265.3 L1561,1265.4 L1562.5,1265.4 L1564,1265.4 L1565.5,1265.4 L1567,1265.4 L1568.5,1265.4 L1570,1265.4 L1571.5,1265.4 L1573,1265.4 L1574.5,1265.4 L1576,1265.4 L1577.5,1265.5 L1579,1265.5 L1580.5,1265.5 L1582,1265.5 L1583.5,1265.5 L1585,1265.5 L1586.5,1265.5 L1588,1265.5 L1589.5,1265.5 L1591,1265.5 L1592.5,1265.5 L1594,1265.5 L1595.5,1265.5 L1597,1265.5 L1598.5,1265.5 L1600,1265.5 L1601.5,1265.5 L1603,1265.5 L1604.5,1265.5 L1606,1265.5 L1607.5,1265.5 L1609,1265.5 L1610.5,1265.6 L1612,1265.6 L1613.5,1265.6 L1615,1265.6 L1616.5,1265.6 L1618,1265.6 L1619.5,1265.6 L1621,1265.6 L1622.5,1265.6 L1624,1265.6 L1625.5,1265.6 L1627,1265.6 L1628.5,1265.6 L1630,1265.6 L1631.5,1265.6 L1633,1265.6 L1634.5,1265.6 L1636,1265.6 L1637.5,1265.6 L1639,1265.6 L1640.5,1265.6 L1642,1265.6 L1643.5,1265.6 L1645,1265.6 L1646.5,1265.6 L1648,1265.6 L1649.5,1265.6 L1651,1265.6 L1652.5,1265.6 L1654,1265.6 L1655.5,1265.6 L1657,1265.6 L1658.5,1265.6 L1660,1265.6 L1661.5,1265.6 L1663,1265.6 L1664.5,1265.6 L1666,1265.6 L1667.5,1265.6 L1669,1265.6 L1670.5,1265.6 L1672,1265.6 L1673.5,1265.6 L1675,1265.6 L1676.5,1265.6 L1678,1265.6 L1679.5,1265.6 L1681,1265.6 L1682.5,1265.6 L1684,1265.6 L1685.5,1265.6 L1687,1265.6 L1688.5,1265.6 L1690,1265.6 L1691.5,1265.6 L1693,1265.6 L1694.5,1265.6 L1696,1265.6 L1697.5,1265.6 L1699,1265.6 L1700.5,1265.6 L1702,1265.6 L1703.5,1265.6 L1705,1265.6 L1706.5,1265.6 L1708,1265.6 L1709.5,1265.6 L1711,1265.6 L1712.5,1265.6 L1714,1265.6 L1715.5,1265.6 L1717,1265.6 L1718.5,1265.6 L1720,1265.6 L1721.5,1265.6 L1723,1265.6 L1724.5,1265.6 L1726,1265.6 L1727.5,1265.6 L1729,1265.6 L1730.5,1265.6 L1732,1265.6 L1733.5,1265.6 L1735,1265.6 L1736.5,1265.6 L1738,1265.6 L1739.5,1265.6 L1741,1265.6 L1742.5,1265.6 L1744,1265.6 L1745.5,1265.6 L1746,1265.6" fill="none" stroke="#0000e0" stroke-width="3.8" stroke-linejoin="round" stroke-linecap="round" />
<path d="M952,1243.4 L982.8,1244.7 L1008.5,1249.3 L1030.8,1248.5 L1041,1254.5 L1056.4,1251.9 L1063.3,1244.2 L1071.8,1252.8 L1087.3,1250.2 L1099.2,1243.4 L1104.4,1240.8 L1112.9,1245.1 L1121.5,1241.6 L1128.4,1236.5 L1143.8,1244.2 L1152.3,1244.2 L1159.2,1238.2 L1167.7,1235.7 L1176.3,1239.1 L1183.2,1236.5 L1191.7,1238.2 L1200.3,1232.2 L1207.1,1231.4 L1214,1230.5 L1221.4,1227.1 L1231.4,1230 L1240,1225.7 L1247.1,1217.1 L1254.3,1220 L1262.9,1212.9 L1271.4,1201.4 L1281.4,1198.6 L1292.9,1181.4 L1305.7,1158.6 L1322.9,1120 L1337.1,1077.1 L1350,1027.1 L1356.2,994 L1362.1,964.3 L1369.3,934.5 L1377.6,898.8 L1381.2,875 L1386,857.1 L1391.9,836.9 L1401.4,823.8 L1407.4,802.4 L1415.7,790.5 L1422.9,798.8 L1439.5,806 L1449,826.2 L1458.6,853.6 L1463.3,875 L1468.1,910.7 L1475.2,946.4 L1484.8,994 L1494.8,1053.1 L1509.4,1126.1 L1522.2,1162.6 L1535,1190 L1544.1,1215.6 L1551.4,1235.7 L1558.7,1249.4 L1567.9,1248.5 L1577,1250.3 L1591.6,1248.5 L1597.1,1259.5 L1620.8,1259.5 L1630,1252.1 L1637.3,1258.5 L1659.2,1266.8 L1686.6,1266.8 L1746,1264.9" fill="none" stroke="#000" stroke-width="3.8" stroke-linejoin="round" stroke-linecap="round" />
<path d="M952,1236 L953.5,1236 L955,1236 L956.5,1236 L958,1236 L959.5,1236 L961,1236 L962.5,1235.9 L964,1235.9 L965.5,1235.9 L967,1235.9 L968.5,1235.9 L970,1235.9 L971.5,1235.8 L973,1235.8 L974.5,1235.8 L976,1235.8 L977.5,1235.8 L979,1235.8 L980.5,1235.7 L982,1235.7 L983.5,1235.7 L985,1235.7 L986.5,1235.7 L988,1235.6 L989.5,1235.6 L991,1235.6 L992.5,1235.6 L994,1235.6 L995.5,1235.5 L997,1235.5 L998.5,1235.5 L1000,1235.5 L1001.5,1235.5 L1003,1235.4 L1004.5,1235.4 L1006,1235.4 L1007.5,1235.4 L1009,1235.3 L1010.5,1235.3 L1012,1235.3 L1013.5,1235.3 L1015,1235.2 L1016.5,1235.2 L1018,1235.2 L1019.5,1235.2 L1021,1235.1 L1022.5,1235.1 L1024,1235.1 L1025.5,1235.1 L1027,1235 L1028.5,1235 L1030,1235 L1031.5,1235 L1033,1234.9 L1034.5,1234.9 L1036,1234.9 L1037.5,1234.9 L1039,1234.8 L1040.5,1234.8 L1042,1234.8 L1043.5,1234.7 L1045,1234.7 L1046.5,1234.7 L1048,1234.6 L1049.5,1234.6 L1051,1234.6 L1052.5,1234.5 L1054,1234.5 L1055.5,1234.5 L1057,1234.4 L1058.5,1234.4 L1060,1234.4 L1061.5,1234.3 L1063,1234.3 L1064.5,1234.3 L1066,1234.2 L1067.5,1234.2 L1069,1234.1 L1070.5,1234.1 L1072,1234.1 L1073.5,1234 L1075,1234 L1076.5,1233.9 L1078,1233.9 L1079.5,1233.9 L1081,1233.8 L1082.5,1233.8 L1084,1233.7 L1085.5,1233.7 L1087,1233.6 L1088.5,1233.6 L1090,1233.6 L1091.5,1233.5 L1093,1233.5 L1094.5,1233.4 L1096,1233.4 L1097.5,1233.3 L1099,1233.3 L1100.5,1233.2 L1102,1233.1 L1103.5,1233.1 L1105,1233 L1106.5,1233 L1108,1232.9 L1109.5,1232.9 L1111,1232.8 L1112.5,1232.8 L1114,1232.7 L1115.5,1232.6 L1117,1232.6 L1118.5,1232.5 L1120,1232.4 L1121.5,1232.4 L1123,1232.3 L1124.5,1232.2 L1126,1232.2 L1127.5,1232.1 L1129,1232 L1130.5,1232 L1132,1231.9 L1133.5,1231.8 L1135,1231.7 L1136.5,1231.7 L1138,1231.6 L1139.5,1231.5 L1141,1231.4 L1142.5,1231.3 L1144,1231.2 L1145.5,1231.2 L1147,1231.1 L1148.5,1231 L1150,1230.9 L1151.5,1230.8 L1153,1230.7 L1154.5,1230.6 L1156,1230.5 L1157.5,1230.4 L1159,1230.3 L1160.5,1230.2 L1162,1230.1 L1163.5,1230 L1165,1229.9 L1166.5,1229.8 L1168,1229.6 L1169.5,1229.5 L1171,1229.4 L1172.5,1229.3 L1174,1229.2 L1175.5,1229 L1177,1228.9 L1178.5,1228.8 L1180,1228.6 L1181.5,1228.5 L1183,1228.4 L1184.5,1228.2 L1186,1228.1 L1187.5,1227.9 L1189,1227.8 L1190.5,1227.6 L1192,1227.4 L1193.5,1227.3 L1195,1227.1 L1196.5,1226.9 L1198,1226.8 L1199.5,1226.6 L1201,1226.4 L1202.5,1226.2 L1204,1226 L1205.5,1225.8 L1207,1225.6 L1208.5,1225.4 L1210,1225.2 L1211.5,1225 L1213,1224.7 L1214.5,1224.5 L1216,1224.3 L1217.5,1224 L1219,1223.8 L1220.5,1223.5 L1222,1223.3 L1223.5,1223 L1225,1222.8 L1226.5,1222.5 L1228,1222.2 L1229.5,1221.9 L1231,1221.6 L1232.5,1221.3 L1234,1221 L1235.5,1220.6 L1237,1220.3 L1238.5,1220 L1240,1219.6 L1241.5,1219.2 L1243,1218.9 L1244.5,1218.5 L1246,1218.1 L1247.5,1217.7 L1249,1217.2 L1250.5,1216.8 L1252,1216.4 L1253.5,1215.9 L1255,1215.4 L1256.5,1214.9 L1258,1214.4 L1259.5,1213.9 L1261,1213.4 L1262.5,1212.8 L1264,1212.3 L1265.5,1211.7 L1267,1211.1 L1268.5,1210.5 L1270,1209.8 L1271.5,1209.1 L1273,1208.5 L1274.5,1207.7 L1276,1207 L1277.5,1206.2 L1279,1205.4 L1280.5,1204.6 L1282,1203.8 L1283.5,1202.9 L1285,1202 L1286.5,1201 L1288,1200.1 L1289.5,1199 L1291,1198 L1292.5,1196.9 L1294,1195.7 L1295.5,1194.5 L1297,1193.3 L1298.5,1192 L1300,1190.6 L1301.5,1189.2 L1303,1187.7 L1304.5,1186.1 L1306,1184.4 L1307.5,1182.7 L1309,1180.9 L1310.5,1178.9 L1312,1176.9 L1313.5,1174.7 L1315,1172.5 L1316.5,1170.1 L1318,1167.6 L1319.5,1164.9 L1321,1162 L1322.5,1159.1 L1324,1155.9 L1325.5,1152.6 L1327,1149.1 L1328.5,1145.4 L1330,1141.5 L1331.5,1137.4 L1333,1133.1 L1334.5,1128.6 L1336,1123.9 L1337.5,1119 L1339,1114 L1340.5,1108.7 L1342,1103.3 L1343.5,1097.8 L1345,1092.1 L1346.5,1086.3 L1348,1080.5 L1349.5,1074.5 L1351,1068.6 L1352.5,1062.7 L1354,1056.8 L1355.5,1051 L1357,1045.4 L1358.5,1039.9 L1360,1034.7 L1361.5,1029.7 L1363,1025 L1364.5,1020.8 L1366,1016.9 L1367.5,1013.5 L1369,1010.5 L1370.5,1008.1 L1372,1006.2 L1373.5,1004.9 L1375,1004.2 L1376.5,1004.1 L1378,1004.6 L1379.5,1005.7 L1381,1007.4 L1382.5,1009.6 L1384,1012.4 L1385.5,1015.7 L1387,1019.5 L1388.5,1023.8 L1390,1028.5 L1391.5,1033.5 L1393,1038.9 L1394.5,1044.5 L1396,1050.4 L1397.5,1056.4 L1399,1062.6 L1400.5,1068.9 L1402,1075.3 L1403.5,1081.7 L1405,1088 L1406.5,1094.3 L1408,1100.5 L1409.5,1106.7 L1411,1112.6 L1412.5,1118.5 L1414,1124.1 L1415.5,1129.6 L1417,1134.9 L1418.5,1140.1 L1420,1145 L1421.5,1149.7 L1423,1154.2 L1424.5,1158.5 L1426,1162.6 L1427.5,1166.5 L1429,1170.3 L1430.5,1173.8 L1432,1177.2 L1433.5,1180.4 L1435,1183.5 L1436.5,1186.4 L1438,1189.2 L1439.5,1191.8 L1441,1194.3 L1442.5,1196.7 L1444,1198.9 L1445.5,1201.1 L1447,1203.2 L1448.5,1205.1 L1450,1207 L1451.5,1208.8 L1453,1210.5 L1454.5,1212.2 L1456,1213.8 L1457.5,1215.3 L1459,1216.8 L1460.5,1218.2 L1462,1219.5 L1463.5,1220.8 L1465,1222 L1466.5,1223.3 L1468,1224.4 L1469.5,1225.5 L1471,1226.6 L1472.5,1227.6 L1474,1228.6 L1475.5,1229.6 L1477,1230.5 L1478.5,1231.5 L1480,1232.3 L1481.5,1233.2 L1483,1234 L1484.5,1234.8 L1486,1235.5 L1487.5,1236.3 L1489,1237 L1490.5,1237.7 L1492,1238.3 L1493.5,1239 L1495,1239.6 L1496.5,1240.2 L1498,1240.8 L1499.5,1241.4 L1501,1241.9 L1502.5,1242.4 L1504,1242.9 L1505.5,1243.4 L1507,1243.9 L1508.5,1244.4 L1510,1244.9 L1511.5,1245.3 L1513,1245.7 L1514.5,1246.1 L1516,1246.5 L1517.5,1246.9 L1519,1247.3 L1520.5,1247.7 L1522,1248 L1523.5,1248.4 L1525,1248.7 L1526.5,1249 L1528,1249.4 L1529.5,1249.7 L1531,1250 L1532.5,1250.3 L1534,1250.5 L1535.5,1250.8 L1537,1251.1 L1538.5,1251.4 L1540,1251.6 L1541.5,1251.9 L1543,1252.1 L1544.5,1252.3 L1546,1252.6 L1547.5,1252.8 L1549,1253 L1550.5,1253.2 L1552,1253.4 L1553.5,1253.6 L1555,1253.8 L1556.5,1254 L1558,1254.2 L1559.5,1254.4 L1561,1254.6 L1562.5,1254.7 L1564,1254.9 L1565.5,1255.1 L1567,1255.2 L1568.5,1255.4 L1570,1255.5 L1571.5,1255.7 L1573,1255.8 L1574.5,1256 L1576,1256.1 L1577.5,1256.3 L1579,1256.4 L1580.5,1256.5 L1582,1256.7 L1583.5,1256.8 L1585,1256.9 L1586.5,1257 L1588,1257.2 L1589.5,1257.3 L1591,1257.4 L1592.5,1257.5 L1594,1257.6 L1595.5,1257.7 L1597,1257.8 L1598.5,1257.9 L1600,1258 L1601.5,1258.1 L1603,1258.2 L1604.5,1258.3 L1606,1258.4 L1607.5,1258.5 L1609,1258.6 L1610.5,1258.7 L1612,1258.8 L1613.5,1258.8 L1615,1258.9 L1616.5,1259 L1618,1259.1 L1619.5,1259.2 L1621,1259.2 L1622.5,1259.3 L1624,1259.4 L1625.5,1259.5 L1627,1259.5 L1628.5,1259.6 L1630,1259.7 L1631.5,1259.7 L1633,1259.8 L1634.5,1259.9 L1636,1259.9 L1637.5,1260 L1639,1260.1 L1640.5,1260.1 L1642,1260.2 L1643.5,1260.2 L1645,1260.3 L1646.5,1260.4 L1648,1260.4 L1649.5,1260.5 L1651,1260.5 L1652.5,1260.6 L1654,1260.6 L1655.5,1260.7 L1657,1260.7 L1658.5,1260.8 L1660,1260.8 L1661.5,1260.9 L1663,1260.9 L1664.5,1261 L1666,1261 L1667.5,1261.1 L1669,1261.1 L1670.5,1261.2 L1672,1261.2 L1673.5,1261.3 L1675,1261.3 L1676.5,1261.3 L1678,1261.4 L1679.5,1261.4 L1681,1261.5 L1682.5,1261.5 L1684,1261.5 L1685.5,1261.6 L1687,1261.6 L1688.5,1261.7 L1690,1261.7 L1691.5,1261.7 L1693,1261.8 L1694.5,1261.8 L1696,1261.8 L1697.5,1261.9 L1699,1261.9 L1700.5,1261.9 L1702,1262 L1703.5,1262 L1705,1262 L1706.5,1262.1 L1708,1262.1 L1709.5,1262.1 L1711,1262.2 L1712.5,1262.2 L1714,1262.2 L1715.5,1262.2 L1717,1262.3 L1718.5,1262.3 L1720,1262.3 L1721.5,1262.4 L1723,1262.4 L1724.5,1262.4 L1726,1262.4 L1727.5,1262.5 L1729,1262.5 L1730.5,1262.5 L1732,1262.5 L1733.5,1262.6 L1735,1262.6 L1736.5,1262.6 L1738,1262.6 L1739.5,1262.7 L1741,1262.7 L1742.5,1262.7 L1744,1262.7 L1745.5,1262.8 L1746,1262.8" fill="none" stroke="#008000" stroke-width="3.8" stroke-linejoin="round" stroke-linecap="round" />
<path d="M952,1235.5 L953.5,1235.5 L955,1235.5 L956.5,1235.5 L958,1235.4 L959.5,1235.4 L961,1235.4 L962.5,1235.4 L964,1235.4 L965.5,1235.4 L967,1235.3 L968.5,1235.3 L970,1235.3 L971.5,1235.3 L973,1235.3 L974.5,1235.2 L976,1235.2 L977.5,1235.2 L979,1235.2 L980.5,1235.2 L982,1235.1 L983.5,1235.1 L985,1235.1 L986.5,1235.1 L988,1235.1 L989.5,1235 L991,1235 L992.5,1235 L994,1235 L995.5,1235 L997,1234.9 L998.5,1234.9 L1000,1234.9 L1001.5,1234.9 L1003,1234.9 L1004.5,1234.8 L1006,1234.8 L1007.5,1234.8 L1009,1234.8 L1010.5,1234.7 L1012,1234.7 L1013.5,1234.7 L1015,1234.7 L1016.5,1234.6 L1018,1234.6 L1019.5,1234.6 L1021,1234.6 L1022.5,1234.5 L1024,1234.5 L1025.5,1234.5 L1027,1234.5 L1028.5,1234.4 L1030,1234.4 L1031.5,1234.4 L1033,1234.3 L1034.5,1234.3 L1036,1234.3 L1037.5,1234.3 L1039,1234.2 L1040.5,1234.2 L1042,1234.2 L1043.5,1234.1 L1045,1234.1 L1046.5,1234.1 L1048,1234.1 L1049.5,1234 L1051,1234 L1052.5,1234 L1054,1233.9 L1055.5,1233.9 L1057,1233.9 L1058.5,1233.8 L1060,1233.8 L1061.5,1233.8 L1063,1233.7 L1064.5,1233.7 L1066,1233.7 L1067.5,1233.6 L1069,1233.6 L1070.5,1233.5 L1072,1233.5 L1073.5,1233.5 L1075,1233.4 L1076.5,1233.4 L1078,1233.4 L1079.5,1233.3 L1081,1233.3 L1082.5,1233.2 L1084,1233.2 L1085.5,1233.1 L1087,1233.1 L1088.5,1233.1 L1090,1233 L1091.5,1233 L1093,1232.9 L1094.5,1232.9 L1096,1232.8 L1097.5,1232.8 L1099,1232.7 L1100.5,1232.7 L1102,1232.7 L1103.5,1232.6 L1105,1232.6 L1106.5,1232.5 L1108,1232.5 L1109.5,1232.4 L1111,1232.4 L1112.5,1232.3 L1114,1232.2 L1115.5,1232.2 L1117,1232.1 L1118.5,1232.1 L1120,1232 L1121.5,1232 L1123,1231.9 L1124.5,1231.9 L1126,1231.8 L1127.5,1231.7 L1129,1231.7 L1130.5,1231.6 L1132,1231.5 L1133.5,1231.5 L1135,1231.4 L1136.5,1231.4 L1138,1231.3 L1139.5,1231.2 L1141,1231.2 L1142.5,1231.1 L1144,1231 L1145.5,1230.9 L1147,1230.9 L1148.5,1230.8 L1150,1230.7 L1151.5,1230.6 L1153,1230.6 L1154.5,1230.5 L1156,1230.4 L1157.5,1230.3 L1159,1230.2 L1160.5,1230.2 L1162,1230.1 L1163.5,1230 L1165,1229.9 L1166.5,1229.8 L1168,1229.7 L1169.5,1229.6 L1171,1229.5 L1172.5,1229.5 L1174,1229.4 L1175.5,1229.3 L1177,1229.2 L1178.5,1229.1 L1180,1229 L1181.5,1228.9 L1183,1228.8 L1184.5,1228.6 L1186,1228.5 L1187.5,1228.4 L1189,1228.3 L1190.5,1228.2 L1192,1228.1 L1193.5,1228 L1195,1227.8 L1196.5,1227.7 L1198,1227.6 L1199.5,1227.5 L1201,1227.3 L1202.5,1227.2 L1204,1227.1 L1205.5,1226.9 L1207,1226.8 L1208.5,1226.7 L1210,1226.5 L1211.5,1226.4 L1213,1226.2 L1214.5,1226.1 L1216,1225.9 L1217.5,1225.8 L1219,1225.6 L1220.5,1225.4 L1222,1225.3 L1223.5,1225.1 L1225,1224.9 L1226.5,1224.7 L1228,1224.6 L1229.5,1224.4 L1231,1224.2 L1232.5,1224 L1234,1223.8 L1235.5,1223.6 L1237,1223.4 L1238.5,1223.2 L1240,1223 L1241.5,1222.8 L1243,1222.5 L1244.5,1222.3 L1246,1222.1 L1247.5,1221.9 L1249,1221.6 L1250.5,1221.4 L1252,1221.1 L1253.5,1220.9 L1255,1220.6 L1256.5,1220.3 L1258,1220.1 L1259.5,1219.8 L1261,1219.5 L1262.5,1219.2 L1264,1218.9 L1265.5,1218.6 L1267,1218.3 L1268.5,1218 L1270,1217.7 L1271.5,1217.3 L1273,1217 L1274.5,1216.6 L1276,1216.3 L1277.5,1215.9 L1279,1215.5 L1280.5,1215.1 L1282,1214.7 L1283.5,1214.3 L1285,1213.9 L1286.5,1213.5 L1288,1213.1 L1289.5,1212.6 L1291,1212.2 L1292.5,1211.7 L1294,1211.2 L1295.5,1210.7 L1297,1210.2 L1298.5,1209.7 L1300,1209.1 L1301.5,1208.6 L1303,1208 L1304.5,1207.4 L1306,1206.8 L1307.5,1206.2 L1309,1205.6 L1310.5,1204.9 L1312,1204.2 L1313.5,1203.5 L1315,1202.8 L1316.5,1202.1 L1318,1201.3 L1319.5,1200.5 L1321,1199.7 L1322.5,1198.8 L1324,1198 L1325.5,1197 L1327,1196.1 L1328.5,1195.1 L1330,1194.1 L1331.5,1193.1 L1333,1192 L1334.5,1190.8 L1336,1189.6 L1337.5,1188.4 L1339,1187.1 L1340.5,1185.8 L1342,1184.3 L1343.5,1182.9 L1345,1181.3 L1346.5,1179.7 L1348,1178 L1349.5,1176.2 L1351,1174.4 L1352.5,1172.4 L1354,1170.4 L1355.5,1168.2 L1357,1165.9 L1358.5,1163.5 L1360,1161 L1361.5,1158.4 L1363,1155.6 L1364.5,1152.6 L1366,1149.5 L1367.5,1146.3 L1369,1142.8 L1370.5,1139.2 L1372,1135.4 L1373.5,1131.4 L1375,1127.2 L1376.5,1122.8 L1378,1118.2 L1379.5,1113.4 L1381,1108.3 L1382.5,1103 L1384,1097.4 L1385.5,1091.6 L1387,1085.5 L1388.5,1079.2 L1390,1072.7 L1391.5,1065.9 L1393,1058.8 L1394.5,1051.5 L1396,1044 L1397.5,1036.2 L1399,1028.2 L1400.5,1020 L1402,1011.6 L1403.5,1003 L1405,994.2 L1406.5,985.3 L1408,976.3 L1409.5,967.2 L1411,958 L1412.5,948.9 L1414,939.7 L1415.5,930.7 L1417,921.7 L1418.5,912.9 L1420,904.4 L1421.5,896.1 L1423,888.1 L1424.5,880.6 L1426,873.5 L1427.5,866.9 L1429,860.8 L1430.5,855.4 L1432,850.7 L1433.5,846.7 L1435,843.4 L1436.5,841 L1438,839.4 L1439.5,838.6 L1441,838.7 L1442.5,839.7 L1444,841.6 L1445.5,844.2 L1447,847.7 L1448.5,852 L1450,857 L1451.5,862.7 L1453,869.1 L1454.5,876 L1456,883.5 L1457.5,891.5 L1459,899.8 L1460.5,908.5 L1462,917.5 L1463.5,926.8 L1465,936.2 L1466.5,945.8 L1468,955.4 L1469.5,965.1 L1471,974.8 L1472.5,984.4 L1474,994 L1475.5,1003.4 L1477,1012.7 L1478.5,1021.9 L1480,1030.8 L1481.5,1039.6 L1483,1048.1 L1484.5,1056.4 L1486,1064.5 L1487.5,1072.3 L1489,1079.9 L1490.5,1087.2 L1492,1094.2 L1493.5,1101 L1495,1107.5 L1496.5,1113.8 L1498,1119.8 L1499.5,1125.5 L1501,1131 L1502.5,1136.3 L1504,1141.3 L1505.5,1146.1 L1507,1150.7 L1508.5,1155 L1510,1159.2 L1511.5,1163.1 L1513,1166.8 L1514.5,1170.4 L1516,1173.8 L1517.5,1177 L1519,1180.1 L1520.5,1183 L1522,1185.8 L1523.5,1188.4 L1525,1190.9 L1526.5,1193.3 L1528,1195.5 L1529.5,1197.7 L1531,1199.7 L1532.5,1201.7 L1534,1203.5 L1535.5,1205.3 L1537,1207 L1538.5,1208.6 L1540,1210.2 L1541.5,1211.7 L1543,1213.1 L1544.5,1214.5 L1546,1215.8 L1547.5,1217 L1549,1218.2 L1550.5,1219.4 L1552,1220.5 L1553.5,1221.5 L1555,1222.6 L1556.5,1223.6 L1558,1224.5 L1559.5,1225.4 L1561,1226.3 L1562.5,1227.2 L1564,1228 L1565.5,1228.8 L1567,1229.6 L1568.5,1230.4 L1570,1231.1 L1571.5,1231.8 L1573,1232.5 L1574.5,1233.2 L1576,1233.8 L1577.5,1234.5 L1579,1235.1 L1580.5,1235.7 L1582,1236.2 L1583.5,1236.8 L1585,1237.3 L1586.5,1237.9 L1588,1238.4 L1589.5,1238.9 L1591,1239.4 L1592.5,1239.8 L1594,1240.3 L1595.5,1240.8 L1597,1241.2 L1598.5,1241.6 L1600,1242 L1601.5,1242.4 L1603,1242.8 L1604.5,1243.2 L1606,1243.6 L1607.5,1244 L1609,1244.3 L1610.5,1244.7 L1612,1245 L1613.5,1245.3 L1615,1245.7 L1616.5,1246 L1618,1246.3 L1619.5,1246.6 L1621,1246.9 L1622.5,1247.2 L1624,1247.5 L1625.5,1247.7 L1627,1248 L1628.5,1248.3 L1630,1248.5 L1631.5,1248.8 L1633,1249 L1634.5,1249.3 L1636,1249.5 L1637.5,1249.8 L1639,1250 L1640.5,1250.2 L1642,1250.4 L1643.5,1250.6 L1645,1250.8 L1646.5,1251 L1648,1251.2 L1649.5,1251.4 L1651,1251.6 L1652.5,1251.8 L1654,1252 L1655.5,1252.2 L1657,1252.4 L1658.5,1252.5 L1660,1252.7 L1661.5,1252.9 L1663,1253 L1664.5,1253.2 L1666,1253.4 L1667.5,1253.5 L1669,1253.7 L1670.5,1253.8 L1672,1254 L1673.5,1254.1 L1675,1254.2 L1676.5,1254.4 L1678,1254.5 L1679.5,1254.7 L1681,1254.8 L1682.5,1254.9 L1684,1255 L1685.5,1255.2 L1687,1255.3 L1688.5,1255.4 L1690,1255.5 L1691.5,1255.6 L1693,1255.8 L1694.5,1255.9 L1696,1256 L1697.5,1256.1 L1699,1256.2 L1700.5,1256.3 L1702,1256.4 L1703.5,1256.5 L1705,1256.6 L1706.5,1256.7 L1708,1256.8 L1709.5,1256.9 L1711,1257 L1712.5,1257.1 L1714,1257.2 L1715.5,1257.3 L1717,1257.3 L1718.5,1257.4 L1720,1257.5 L1721.5,1257.6 L1723,1257.7 L1724.5,1257.8 L1726,1257.8 L1727.5,1257.9 L1729,1258 L1730.5,1258.1 L1732,1258.2 L1733.5,1258.2 L1735,1258.3 L1736.5,1258.4 L1738,1258.4 L1739.5,1258.5 L1741,1258.6 L1742.5,1258.7 L1744,1258.7 L1745.5,1258.8 L1746,1258.8" fill="none" stroke="#ff00ff" stroke-width="3.8" stroke-linejoin="round" stroke-linecap="round" />
<path d="M952,1233.4 L953.5,1233.3 L955,1233.3 L956.5,1233.3 L958,1233.2 L959.5,1233.2 L961,1233.2 L962.5,1233.1 L964,1233.1 L965.5,1233.1 L967,1233 L968.5,1233 L970,1233 L971.5,1232.9 L973,1232.9 L974.5,1232.9 L976,1232.8 L977.5,1232.8 L979,1232.7 L980.5,1232.7 L982,1232.7 L983.5,1232.6 L985,1232.6 L986.5,1232.5 L988,1232.5 L989.5,1232.5 L991,1232.4 L992.5,1232.4 L994,1232.3 L995.5,1232.3 L997,1232.3 L998.5,1232.2 L1000,1232.2 L1001.5,1232.1 L1003,1232.1 L1004.5,1232 L1006,1232 L1007.5,1231.9 L1009,1231.9 L1010.5,1231.9 L1012,1231.8 L1013.5,1231.8 L1015,1231.7 L1016.5,1231.7 L1018,1231.6 L1019.5,1231.6 L1021,1231.5 L1022.5,1231.5 L1024,1231.4 L1025.5,1231.4 L1027,1231.3 L1028.5,1231.3 L1030,1231.2 L1031.5,1231.1 L1033,1231.1 L1034.5,1231 L1036,1231 L1037.5,1230.9 L1039,1230.9 L1040.5,1230.8 L1042,1230.7 L1043.5,1230.7 L1045,1230.6 L1046.5,1230.6 L1048,1230.5 L1049.5,1230.4 L1051,1230.4 L1052.5,1230.3 L1054,1230.2 L1055.5,1230.2 L1057,1230.1 L1058.5,1230 L1060,1230 L1061.5,1229.9 L1063,1229.8 L1064.5,1229.7 L1066,1229.7 L1067.5,1229.6 L1069,1229.5 L1070.5,1229.5 L1072,1229.4 L1073.5,1229.3 L1075,1229.2 L1076.5,1229.1 L1078,1229.1 L1079.5,1229 L1081,1228.9 L1082.5,1228.8 L1084,1228.7 L1085.5,1228.6 L1087,1228.5 L1088.5,1228.5 L1090,1228.4 L1091.5,1228.3 L1093,1228.2 L1094.5,1228.1 L1096,1228 L1097.5,1227.9 L1099,1227.8 L1100.5,1227.7 L1102,1227.6 L1103.5,1227.5 L1105,1227.4 L1106.5,1227.3 L1108,1227.2 L1109.5,1227.1 L1111,1227 L1112.5,1226.9 L1114,1226.7 L1115.5,1226.6 L1117,1226.5 L1118.5,1226.4 L1120,1226.3 L1121.5,1226.1 L1123,1226 L1124.5,1225.9 L1126,1225.8 L1127.5,1225.6 L1129,1225.5 L1130.5,1225.4 L1132,1225.2 L1133.5,1225.1 L1135,1225 L1136.5,1224.8 L1138,1224.7 L1139.5,1224.5 L1141,1224.4 L1142.5,1224.2 L1144,1224.1 L1145.5,1223.9 L1147,1223.7 L1148.5,1223.6 L1150,1223.4 L1151.5,1223.2 L1153,1223.1 L1154.5,1222.9 L1156,1222.7 L1157.5,1222.5 L1159,1222.3 L1160.5,1222.2 L1162,1222 L1163.5,1221.8 L1165,1221.6 L1166.5,1221.4 L1168,1221.2 L1169.5,1221 L1171,1220.7 L1172.5,1220.5 L1174,1220.3 L1175.5,1220.1 L1177,1219.9 L1178.5,1219.6 L1180,1219.4 L1181.5,1219.1 L1183,1218.9 L1184.5,1218.6 L1186,1218.4 L1187.5,1218.1 L1189,1217.9 L1190.5,1217.6 L1192,1217.3 L1193.5,1217 L1195,1216.7 L1196.5,1216.4 L1198,1216.1 L1199.5,1215.8 L1201,1215.5 L1202.5,1215.2 L1204,1214.9 L1205.5,1214.5 L1207,1214.2 L1208.5,1213.8 L1210,1213.5 L1211.5,1213.1 L1213,1212.7 L1214.5,1212.4 L1216,1212 L1217.5,1211.6 L1219,1211.2 L1220.5,1210.7 L1222,1210.3 L1223.5,1209.9 L1225,1209.4 L1226.5,1209 L1228,1208.5 L1229.5,1208 L1231,1207.5 L1232.5,1207 L1234,1206.5 L1235.5,1206 L1237,1205.4 L1238.5,1204.9 L1240,1204.3 L1241.5,1203.7 L1243,1203.1 L1244.5,1202.5 L1246,1201.9 L1247.5,1201.2 L1249,1200.6 L1250.5,1199.9 L1252,1199.2 L1253.5,1198.5 L1255,1197.7 L1256.5,1197 L1258,1196.2 L1259.5,1195.4 L1261,1194.6 L1262.5,1193.7 L1264,1192.8 L1265.5,1191.9 L1267,1191 L1268.5,1190.1 L1270,1189.1 L1271.5,1188.1 L1273,1187 L1274.5,1186 L1276,1184.8 L1277.5,1183.7 L1279,1182.5 L1280.5,1181.3 L1282,1180.1 L1283.5,1178.8 L1285,1177.4 L1286.5,1176 L1288,1174.6 L1289.5,1173.1 L1291,1171.6 L1292.5,1170 L1294,1168.3 L1295.5,1166.6 L1297,1164.8 L1298.5,1163 L1300,1161 L1301.5,1159 L1303,1156.9 L1304.5,1154.7 L1306,1152.5 L1307.5,1150.1 L1309,1147.6 L1310.5,1144.9 L1312,1142.2 L1313.5,1139.3 L1315,1136.3 L1316.5,1133.1 L1318,1129.8 L1319.5,1126.3 L1321,1122.6 L1322.5,1118.7 L1324,1114.7 L1325.5,1110.5 L1327,1106.1 L1328.5,1101.5 L1330,1096.7 L1331.5,1091.8 L1333,1086.7 L1334.5,1081.4 L1336,1075.9 L1337.5,1070.3 L1339,1064.5 L1340.5,1058.5 L1342,1052.2 L1343.5,1045.7 L1345,1038.9 L1346.5,1031.8 L1348,1024.4 L1349.5,1016.6 L1351,1008.5 L1352.5,1000 L1354,991.2 L1355.5,982.2 L1357,973.1 L1358.5,963.8 L1360,954.6 L1361.5,945.5 L1363,936.7 L1364.5,928.2 L1366,920.1 L1367.5,912.4 L1369,905.3 L1370.5,898.8 L1372,892.9 L1373.5,887.6 L1375,882.8 L1376.5,878.5 L1378,874.7 L1379.5,871.3 L1381,868.3 L1382.5,865.6 L1384,863.1 L1385.5,860.9 L1387,858.8 L1388.5,856.8 L1390,854.9 L1391.5,853.1 L1393,851.2 L1394.5,849.4 L1396,847.5 L1397.5,845.6 L1399,843.5 L1400.5,841.3 L1402,838.9 L1403.5,836.4 L1405,833.7 L1406.5,830.7 L1408,827.6 L1409.5,824.3 L1411,820.8 L1412.5,817.1 L1414,813.3 L1415.5,809.4 L1417,805.4 L1418.5,801.4 L1420,797.4 L1421.5,793.5 L1423,789.6 L1424.5,786 L1426,782.7 L1427.5,779.6 L1429,777 L1430.5,774.7 L1432,773 L1433.5,771.8 L1435,771.3 L1436.5,771.4 L1438,772.1 L1439.5,773.6 L1441,775.9 L1442.5,778.8 L1444,782.5 L1445.5,787 L1447,792.1 L1448.5,797.9 L1450,804.4 L1451.5,811.5 L1453,819.2 L1454.5,827.3 L1456,836 L1457.5,845.1 L1459,854.5 L1460.5,864.3 L1462,874.4 L1463.5,884.8 L1465,895.3 L1466.5,906.1 L1468,917.2 L1469.5,928.4 L1471,939.7 L1472.5,951.3 L1474,962.9 L1475.5,974.6 L1477,986.2 L1478.5,997.7 L1480,1009 L1481.5,1020 L1483,1030.5 L1484.5,1040.4 L1486,1049.6 L1487.5,1058.1 L1489,1065.9 L1490.5,1073 L1492,1079.3 L1493.5,1085.2 L1495,1090.5 L1496.5,1095.5 L1498,1100.2 L1499.5,1104.7 L1501,1109.2 L1502.5,1113.6 L1504,1118 L1505.5,1122.4 L1507,1126.7 L1508.5,1131.1 L1510,1135.4 L1511.5,1139.6 L1513,1143.7 L1514.5,1147.7 L1516,1151.6 L1517.5,1155.3 L1519,1158.9 L1520.5,1162.4 L1522,1165.7 L1523.5,1168.9 L1525,1171.9 L1526.5,1174.8 L1528,1177.5 L1529.5,1180.2 L1531,1182.7 L1532.5,1185.1 L1534,1187.4 L1535.5,1189.6 L1537,1191.7 L1538.5,1193.7 L1540,1195.6 L1541.5,1197.4 L1543,1199.2 L1544.5,1200.9 L1546,1202.5 L1547.5,1204 L1549,1205.5 L1550.5,1206.9 L1552,1208.3 L1553.5,1209.6 L1555,1210.8 L1556.5,1212 L1558,1213.2 L1559.5,1214.3 L1561,1215.4 L1562.5,1216.5 L1564,1217.5 L1565.5,1218.4 L1567,1219.4 L1568.5,1220.3 L1570,1221.2 L1571.5,1222.1 L1573,1222.9 L1574.5,1223.7 L1576,1224.5 L1577.5,1225.2 L1579,1226 L1580.5,1226.7 L1582,1227.4 L1583.5,1228.1 L1585,1228.8 L1586.5,1229.4 L1588,1230 L1589.5,1230.6 L1591,1231.2 L1592.5,1231.8 L1594,1232.4 L1595.5,1232.9 L1597,1233.5 L1598.5,1234 L1600,1234.5 L1601.5,1235 L1603,1235.5 L1604.5,1236 L1606,1236.5 L1607.5,1236.9 L1609,1237.4 L1610.5,1237.8 L1612,1238.2 L1613.5,1238.6 L1615,1239 L1616.5,1239.4 L1618,1239.8 L1619.5,1240.2 L1621,1240.6 L1622.5,1240.9 L1624,1241.3 L1625.5,1241.6 L1627,1242 L1628.5,1242.3 L1630,1242.6 L1631.5,1243 L1633,1243.3 L1634.5,1243.6 L1636,1243.9 L1637.5,1244.2 L1639,1244.5 L1640.5,1244.7 L1642,1245 L1643.5,1245.3 L1645,1245.6 L1646.5,1245.8 L1648,1246.1 L1649.5,1246.3 L1651,1246.6 L1652.5,1246.8 L1654,1247.1 L1655.5,1247.3 L1657,1247.5 L1658.5,1247.7 L1660,1248 L1661.5,1248.2 L1663,1248.4 L1664.5,1248.6 L1666,1248.8 L1667.5,1249 L1669,1249.2 L1670.5,1249.4 L1672,1249.6 L1673.5,1249.8 L1675,1250 L1676.5,1250.1 L1678,1250.3 L1679.5,1250.5 L1681,1250.7 L1682.5,1250.8 L1684,1251 L1685.5,1251.2 L1687,1251.3 L1688.5,1251.5 L1690,1251.6 L1691.5,1251.8 L1693,1251.9 L1694.5,1252.1 L1696,1252.2 L1697.5,1252.4 L1699,1252.5 L1700.5,1252.6 L1702,1252.8 L1703.5,1252.9 L1705,1253 L1706.5,1253.2 L1708,1253.3 L1709.5,1253.4 L1711,1253.6 L1712.5,1253.7 L1714,1253.8 L1715.5,1253.9 L1717,1254 L1718.5,1254.1 L1720,1254.3 L1721.5,1254.4 L1723,1254.5 L1724.5,1254.6 L1726,1254.7 L1727.5,1254.8 L1729,1254.9 L1730.5,1255 L1732,1255.1 L1733.5,1255.2 L1735,1255.3 L1736.5,1255.4 L1738,1255.5 L1739.5,1255.6 L1741,1255.7 L1742.5,1255.8 L1744,1255.9 L1745.5,1256 L1746,1256" fill="none" stroke="#ff0000" stroke-width="4.2" stroke-linejoin="round" stroke-linecap="round" />
<rect x="950" y="722.3" width="798" height="594.5" fill="none" stroke="#000" stroke-width="4"/>
<line x1="950" y1="1316.8" x2="950" y2="1329.3" stroke="#000" stroke-width="4"/>
<line x1="1109.6" y1="1316.8" x2="1109.6" y2="1329.3" stroke="#000" stroke-width="4"/>
<line x1="1269.2" y1="1316.8" x2="1269.2" y2="1329.3" stroke="#000" stroke-width="4"/>
<line x1="1428.8" y1="1316.8" x2="1428.8" y2="1329.3" stroke="#000" stroke-width="4"/>
<line x1="1588.4" y1="1316.8" x2="1588.4" y2="1329.3" stroke="#000" stroke-width="4"/>
<line x1="1748" y1="1316.8" x2="1748" y2="1329.3" stroke="#000" stroke-width="4"/>
<line x1="1029.8" y1="1316.8" x2="1029.8" y2="1323.8" stroke="#000" stroke-width="3.6"/>
<line x1="1189.4" y1="1316.8" x2="1189.4" y2="1323.8" stroke="#000" stroke-width="3.6"/>
<line x1="1349" y1="1316.8" x2="1349" y2="1323.8" stroke="#000" stroke-width="3.6"/>
<line x1="1508.6" y1="1316.8" x2="1508.6" y2="1323.8" stroke="#000" stroke-width="3.6"/>
<line x1="1668.2" y1="1316.8" x2="1668.2" y2="1323.8" stroke="#000" stroke-width="3.6"/>
<text x="950" y="1354.7" font-size="24" text-anchor="middle" >536</text>
<text x="1109.6" y="1354.7" font-size="24" text-anchor="middle" >534</text>
<text x="1269.2" y="1354.7" font-size="24" text-anchor="middle" >532</text>
<text x="1428.8" y="1354.7" font-size="24" text-anchor="middle" >530</text>
<text x="1588.4" y="1354.7" font-size="24" text-anchor="middle" >528</text>
<text x="1748" y="1354.7" font-size="24" text-anchor="middle" >526</text>
<text x="1349" y="1405.8" font-size="30" text-anchor="middle" letter-spacing="0.4">Binding energy (eV)</text>
<text x="904.3" y="1029.1" font-size="30" text-anchor="middle" transform="rotate(-90 904.3 1029.1)" letter-spacing="0.25">Intensity (a.u.)</text>
<text x="968.2" y="763.4" font-size="30" text-anchor="start" letter-spacing="0.6">(d)</text>
<text x="1727" y="768.2" font-size="31" text-anchor="end" >O 1s</text>
<text x="1162" y="971.4" font-size="27" text-anchor="start" letter-spacing="0.15">530.67 eV</text>
<line x1="1375.5" y1="1003.3" x2="1302.3" y2="968.8" stroke="#000" stroke-width="2.6"/>
<polygon points="1292.3,964.1 1306.4,964.7 1301.7,974.6" fill="#000"/>
<text x="1537.3" y="920.5" font-size="27" text-anchor="start" letter-spacing="0.15">529.87 eV</text>
<line x1="1452.5" y1="869.7" x2="1519.7" y2="903.9" stroke="#000" stroke-width="2.6"/>
<polygon points="1529.5,908.9 1515.4,907.9 1520.4,898.1" fill="#000"/>
<path d="M72.3,1932.1 L77.7,1935 L86.6,1927.7 L103.3,1932.1 L114.6,1921.8 L120.5,1927.7 L126.4,1921.8 L132.3,1935 L145.6,1924.7 L154.4,1924.7 L167.7,1935 L178.1,1923.2 L189.9,1926.2 L201.7,1938 L215,1938 L220.9,1926.2 L232.7,1930.6 L251.9,1915.9 L256.3,1923.2 L263.7,1918.8 L270,1914.3 L274.3,1910 L280,1913.6 L285.7,1901.4 L291.4,1882.9 L295.7,1874.3 L304.3,1854.3 L312.9,1815.7 L320,1780 L327.1,1744.3 L334.3,1710 L344.3,1684.3 L351.4,1665.7 L357.9,1645 L364.3,1651.4 L372.9,1672.9 L382.9,1688.6 L388.6,1722.9 L395.7,1765.7 L404.3,1815.7 L412.9,1851.4 L420,1875.7 L428.6,1891.4 L435.7,1895.7 L441.4,1902.9 L447.1,1914.3 L454.3,1915.7 L460,1913.5 L466.4,1902.8 L472.9,1887.8 L479.3,1881.4 L485.7,1864.3 L492.2,1832.1 L498.6,1778.6 L505,1714.3 L511.4,1671.4 L517.9,1635 L524.3,1590 L530.7,1560 L537.2,1536.4 L541,1528 L545.7,1524.6 L550,1524.8 L554.3,1526.8 L565,1560 L571.5,1600.7 L577.9,1667.1 L584.3,1712.1 L590.8,1752.8 L595,1810.7 L605.8,1853.5 L618.6,1902.8 L625,1911.4 L631.5,1926.4 L644.4,1945.7 L652.9,1945.7 L660,1943.6 L669.6,1951.3 L684,1951.3 L696.1,1955.7 L705,1960.1 L716.8,1955.7 L727.1,1951.3 L738.9,1963.1 L746.3,1954.2 L752.2,1954.2 L762.5,1942.4 L771.4,1957.2 L786.2,1960.1 L798,1945.4 L808.3,1954.2 L817.1,1949.8 L826,1961.6 L834.9,1961.6 L842.2,1948.3 L852.5,1951.3 L864.4,1943.9 L866.8,1945" fill="none" stroke="#000" stroke-width="3.8" stroke-linejoin="round" stroke-linecap="round" />
<path d="M171,1928.6 L172.5,1928.7 L174,1928.9 L175.5,1929.1 L177,1929.3 L178.5,1929.5 L180,1929.7 L181.5,1930 L183,1930.3 L184.5,1930.6 L186,1930.9 L187.5,1931.3 L189,1931.8 L190.5,1932.3 L192,1932.9 L193.5,1933.4 L195,1933.8 L196.5,1934.1 L198,1934.2 L199.5,1934.2 L201,1934.2 L202.5,1934.3 L204,1934.3 L205.5,1934.3 L207,1934.3 L208.5,1934.3 L210,1934.3 L211.5,1934.3 L213,1934.3 L214.5,1934.3 L216,1934.3 L217.5,1934.3 L219,1934.3 L220.5,1934.4 L222,1934.4 L223.5,1934.4 L225,1934.4 L226.5,1934.4 L228,1934.4 L229.5,1934.4 L231,1934.4 L232.5,1934.4 L234,1934.4 L235.5,1934.5 L237,1934.5 L238.5,1934.5 L240,1934.5 L241.5,1934.5 L243,1934.5 L244.5,1934.5 L246,1934.5 L247.5,1934.5 L249,1934.6 L250.5,1934.6 L252,1934.6 L253.5,1934.6 L255,1934.6 L256.5,1934.6 L258,1934.6 L259.5,1934.7 L261,1934.7 L262.5,1934.7 L264,1934.7 L265.5,1934.7 L267,1934.7 L268.5,1934.7 L270,1934.8 L271.5,1934.8 L273,1934.8 L274.5,1934.8 L276,1934.8 L277.5,1934.8 L279,1934.9 L280.5,1934.9 L282,1934.9 L283.5,1934.9 L285,1934.9 L286.5,1934.9 L288,1935 L289.5,1935 L291,1935 L292.5,1935 L294,1935.1 L295.5,1935.1 L297,1935.1 L298.5,1935.1 L300,1935.1 L301.5,1935.2 L303,1935.2 L304.5,1935.2 L306,1935.3 L307.5,1935.3 L309,1935.3 L310.5,1935.4 L312,1935.4 L313.5,1935.4 L315,1935.5 L316.5,1935.5 L318,1935.5 L319.5,1935.6 L321,1935.6 L322.5,1935.7 L324,1935.7 L325.5,1935.8 L327,1935.8 L328.5,1935.9 L330,1936 L331.5,1936 L333,1936.1 L334.5,1936.2 L336,1936.3 L337.5,1936.4 L339,1936.5 L340.5,1936.6 L342,1936.8 L343.5,1936.9 L345,1937.1 L346.5,1937.3 L348,1937.4 L349.5,1937.6 L351,1937.8 L352.5,1937.9 L354,1938.1 L355.5,1938.3 L357,1938.5 L358.5,1938.7 L360,1938.8 L361.5,1939 L363,1939.1 L364.5,1939.3 L366,1939.4 L367.5,1939.6 L369,1939.7 L370.5,1939.9 L372,1940.1 L373.5,1940.2 L375,1940.4 L376.5,1940.5 L378,1940.7 L379.5,1940.9 L381,1941 L382.5,1941.2 L384,1941.3 L385.5,1941.5 L387,1941.6 L388.5,1941.8 L390,1941.9 L391.5,1942 L393,1942.2 L394.5,1942.3 L396,1942.4 L397.5,1942.5 L399,1942.6 L400.5,1942.6 L402,1942.7 L403.5,1942.8 L405,1942.8 L406.5,1942.9 L408,1943 L409.5,1943 L411,1943.1 L412.5,1943.2 L414,1943.2 L415.5,1943.3 L417,1943.3 L418.5,1943.4 L420,1943.4 L421.5,1943.5 L423,1943.5 L424.5,1943.6 L426,1943.6 L427.5,1943.6 L429,1943.7 L430.5,1943.7 L432,1943.8 L433.5,1943.8 L435,1943.8 L436.5,1943.9 L438,1943.9 L439.5,1944 L441,1944 L442.5,1944 L444,1944.1 L445.5,1944.1 L447,1944.1 L448.5,1944.2 L450,1944.2 L451.5,1944.2 L453,1944.3 L454.5,1944.3 L456,1944.3 L457.5,1944.3 L459,1944.4 L460.5,1944.4 L462,1944.4 L463.5,1944.4 L465,1944.5 L466.5,1944.5 L468,1944.5 L469.5,1944.5 L471,1944.5 L472.5,1944.6 L474,1944.6 L475.5,1944.6 L477,1944.6 L478.5,1944.6 L480,1944.7 L481.5,1944.7 L483,1944.7 L484.5,1944.7 L486,1944.7 L487.5,1944.8 L489,1944.8 L490.5,1944.8 L492,1944.9 L493.5,1944.9 L495,1944.9 L496.5,1945 L498,1945 L499.5,1945 L501,1945.1 L502.5,1945.1 L504,1945.2 L505.5,1945.3 L507,1945.4 L508.5,1945.5 L510,1945.6 L511.5,1945.7 L513,1945.9 L514.5,1946 L516,1946.2 L517.5,1946.3 L519,1946.5 L520.5,1946.6 L522,1946.8 L523.5,1947 L525,1947.2 L526.5,1947.4 L528,1947.6 L529.5,1947.7 L531,1947.9 L532.5,1948.1 L534,1948.3 L535.5,1948.5 L537,1948.7 L538.5,1948.9 L540,1949.1 L541.5,1949.3 L543,1949.5 L544.5,1949.8 L546,1950 L547.5,1950.3 L549,1950.5 L550.5,1950.8 L552,1951 L553.5,1951.3 L555,1951.5 L556.5,1951.8 L558,1952 L559.5,1952.3 L561,1952.5 L562.5,1952.7 L564,1953 L565.5,1953.2 L567,1953.4 L568.5,1953.5 L570,1953.7 L571.5,1953.9 L573,1954 L574.5,1954.2 L576,1954.4 L577.5,1954.5 L579,1954.7 L580.5,1954.8 L582,1955 L583.5,1955.1 L585,1955.3 L586.5,1955.4 L588,1955.5 L589.5,1955.7 L591,1955.8 L592.5,1955.9 L594,1956 L595.5,1956.1 L597,1956.2 L598.5,1956.3 L600,1956.4 L601.5,1956.5 L603,1956.6 L604.5,1956.6 L606,1956.7 L607.5,1956.7 L609,1956.8 L610.5,1956.8 L612,1956.9 L613.5,1956.9 L615,1957 L616.5,1957 L618,1957.1 L619.5,1957.1 L621,1957.2 L622.5,1957.2 L624,1957.3 L625.5,1957.3 L627,1957.3 L628.5,1957.4 L630,1957.4 L631.5,1957.5 L633,1957.5 L634.5,1957.5 L636,1957.6 L637.5,1957.6 L639,1957.6 L640.5,1957.7 L642,1957.7 L643.5,1957.7 L645,1957.7 L646.5,1957.8 L648,1957.8 L649.5,1957.8 L651,1957.8 L652.5,1957.9 L654,1957.9 L655.5,1957.9 L657,1957.9 L658.5,1957.9 L660,1958 L661.5,1958 L663,1958 L664.5,1958 L666,1958 L667.5,1958.1 L669,1958.1 L670.5,1958.1 L672,1958.1 L673.5,1958.2 L675,1958.2 L676.5,1958.2 L678,1958.2 L679.5,1958.2 L681,1958.2 L682.5,1958.3 L684,1958.3 L685.5,1958.3 L687,1958.3 L688.5,1958.3 L690,1958.4 L691.5,1958.4 L693,1958.4 L694.5,1958.4 L696,1958.4 L697.5,1958.4 L699,1958.4 L700.5,1958.5 L702,1958.5 L703.5,1958.5 L705,1958.5 L706.5,1958.5 L708,1958.5 L709.5,1958.5 L711,1958.5 L712.5,1958.5 L714,1958.6 L715.5,1958.6 L717,1958.6 L718.5,1958.6 L720,1958.6 L721.5,1958.6 L723,1958.6 L724.5,1958.6 L726,1958.6 L727.5,1958.6 L729,1958.6" fill="none" stroke="#22f2ec" stroke-width="5" stroke-linejoin="round" stroke-linecap="round" />
<rect x="70.3" y="1430.8" width="798.5" height="592.8" fill="none" stroke="#000" stroke-width="4"/>
<line x1="93.9" y1="2023.6" x2="93.9" y2="2036.1" stroke="#000" stroke-width="4"/>
<line x1="213.1" y1="2023.6" x2="213.1" y2="2036.1" stroke="#000" stroke-width="4"/>
<line x1="332.3" y1="2023.6" x2="332.3" y2="2036.1" stroke="#000" stroke-width="4"/>
<line x1="451.5" y1="2023.6" x2="451.5" y2="2036.1" stroke="#000" stroke-width="4"/>
<line x1="570.7" y1="2023.6" x2="570.7" y2="2036.1" stroke="#000" stroke-width="4"/>
<line x1="689.9" y1="2023.6" x2="689.9" y2="2036.1" stroke="#000" stroke-width="4"/>
<line x1="809.1" y1="2023.6" x2="809.1" y2="2036.1" stroke="#000" stroke-width="4"/>
<line x1="153.5" y1="2023.6" x2="153.5" y2="2030.6" stroke="#000" stroke-width="3.6"/>
<line x1="272.7" y1="2023.6" x2="272.7" y2="2030.6" stroke="#000" stroke-width="3.6"/>
<line x1="391.9" y1="2023.6" x2="391.9" y2="2030.6" stroke="#000" stroke-width="3.6"/>
<line x1="511.1" y1="2023.6" x2="511.1" y2="2030.6" stroke="#000" stroke-width="3.6"/>
<line x1="630.3" y1="2023.6" x2="630.3" y2="2030.6" stroke="#000" stroke-width="3.6"/>
<line x1="749.5" y1="2023.6" x2="749.5" y2="2030.6" stroke="#000" stroke-width="3.6"/>
<line x1="868.7" y1="2023.6" x2="868.7" y2="2030.6" stroke="#000" stroke-width="3.6"/>
<text x="93.9" y="2062.7" font-size="24" text-anchor="middle" >240</text>
<text x="213.1" y="2062.7" font-size="24" text-anchor="middle" >238</text>
<text x="332.3" y="2062.7" font-size="24" text-anchor="middle" >236</text>
<text x="451.5" y="2062.7" font-size="24" text-anchor="middle" >234</text>
<text x="570.7" y="2062.7" font-size="24" text-anchor="middle" >232</text>
<text x="689.9" y="2062.7" font-size="24" text-anchor="middle" >230</text>
<text x="809.1" y="2062.7" font-size="24" text-anchor="middle" >228</text>
<text x="469.5" y="2113.5" font-size="30" text-anchor="middle" letter-spacing="0.4">Binding energy (eV)</text>
<text x="27.4" y="1737.5" font-size="30" text-anchor="middle" transform="rotate(-90 27.4 1737.5)" letter-spacing="0.25">Intensity (a.u.)</text>
<text x="86.4" y="1469" font-size="30" text-anchor="start" letter-spacing="0.6">(e)</text>
<text x="856" y="1480.5" font-size="31" text-anchor="end" >Mo 3d</text>
<text x="307" y="1600" font-size="27" text-anchor="start" letter-spacing="0.15">235.57 eV</text>
<text x="318.7" y="1637" font-size="27" text-anchor="start" letter-spacing="0.15">Mo 3d<tspan font-size="17" dy="8" letter-spacing="0">3/2</tspan></text>
<text x="494.4" y="1476.1" font-size="27" text-anchor="start" letter-spacing="0.15">232.37 eV</text>
<text x="504.7" y="1511.5" font-size="27" text-anchor="start" letter-spacing="0.15">Mo 3d<tspan font-size="17" dy="8" letter-spacing="0">5/2</tspan></text>
<path d="M958.4,1897.4 L959.4,1897.3 L960.4,1897.1 L961.4,1897 L962.4,1896.8 L963.4,1896.7 L964.4,1896.6 L965.4,1896.5 L966.4,1896.4 L967.4,1896.3 L968.4,1896.2 L969.4,1896.2 L970.4,1896.1 L971.4,1896.1 L972.4,1896.1 L973.4,1896.1 L974.4,1896.1 L975.4,1896.1 L976.4,1896.1 L977.4,1896.1 L978.4,1896.1 L979.4,1896.1 L980.4,1896.1 L981.4,1896.1 L982.4,1896.1 L983.4,1896.1 L984.4,1896.1 L985.4,1896.2 L986.4,1896.4 L987.4,1896.7 L988.4,1897.1 L989.4,1897.5 L990.4,1898 L991.4,1898.5 L992.4,1898.9 L993.4,1899.4 L994.4,1899.7 L995.4,1900.1 L996.4,1900.3 L997.4,1900.4 L998.4,1900.4 L999.4,1900.3 L1000.4,1900.2 L1001.4,1900.1 L1002.4,1899.9 L1003.4,1899.7 L1004.4,1899.5 L1005.4,1899.3 L1006.4,1899.1 L1007.4,1899 L1008.4,1898.8 L1009.4,1898.7 L1010.4,1898.7 L1011.4,1898.7 L1012.4,1898.9 L1013.4,1899 L1014.4,1899.2 L1015.4,1899.4 L1016.4,1899.5 L1017.4,1899.5 L1018.4,1899.3 L1019.4,1899.1 L1020.4,1898.8 L1021.4,1898.6 L1022.4,1898.4 L1023.4,1898.3 L1024.4,1898.3 L1025.4,1898.4 L1026.4,1898.5 L1027.4,1898.6 L1028.4,1898.7 L1029.4,1898.8 L1030.4,1899 L1031.4,1899.1 L1032.4,1899.2 L1033.4,1899.3 L1034.4,1899.4 L1035.4,1899.5 L1036.4,1899.5 L1037.4,1899.3 L1038.4,1899 L1039.4,1898.7 L1040.4,1898.3 L1041.4,1898.1 L1042.4,1897.9 L1043.4,1897.8 L1044.4,1897.6 L1045.4,1897.4 L1046.4,1897.3 L1047.4,1897.1 L1048.4,1897 L1049.4,1896.9 L1050.4,1896.7 L1051.4,1896.6 L1052.4,1896.5 L1053.4,1896.3 L1054.4,1896.2 L1055.4,1896 L1056.4,1895.9 L1057.4,1895.7 L1058.4,1895.6 L1059.4,1895.4 L1060.4,1895.3 L1061.4,1895.2 L1062.4,1895 L1063.4,1894.9 L1064.4,1894.7 L1065.4,1894.6 L1066.4,1894.5 L1067.4,1894.3 L1068.4,1894.1 L1069.4,1893.9 L1070.4,1893.7 L1071.4,1893.5 L1072.4,1893.3 L1073.4,1893 L1074.4,1892.7 L1075.4,1892.4 L1076.4,1891.9 L1077.4,1891.4 L1078.4,1890.9 L1079.4,1890.3 L1080.4,1889.8 L1081.4,1889.2 L1082.4,1888.6 L1083.4,1888 L1084.4,1887.4 L1085.4,1886.8 L1086.4,1886.2 L1087.4,1885.6 L1088.4,1885 L1089.4,1884.4 L1090.4,1883.7 L1091.4,1883 L1092.4,1882.3 L1093.4,1881.6 L1094.4,1880.8 L1095.4,1880 L1096.4,1879.2 L1097.4,1878.3 L1098.4,1877.3 L1099.4,1876.3 L1100.4,1875.2 L1101.4,1874 L1102.4,1872.8 L1103.4,1871.5 L1104.4,1870 L1105.4,1868.5 L1106.4,1866.9 L1107.4,1865.2 L1108.4,1863.3 L1109.4,1861.1 L1110.4,1858.7 L1111.4,1856.1 L1112.4,1853.4 L1113.4,1850.5 L1114.4,1847.5 L1115.4,1844.5 L1116.4,1841.5 L1117.4,1838.5 L1118.4,1835.5 L1119.4,1832.4 L1120.4,1829.2 L1121.4,1825.9 L1122.4,1822.5 L1123.4,1819.1 L1124.4,1815.7 L1125.4,1812.1 L1126.4,1808.5 L1127.4,1804.9 L1128.4,1801.1 L1129.4,1797.4 L1130.4,1793.5 L1131.4,1789.5 L1132.4,1785.4 L1133.4,1781.2 L1134.4,1776.9 L1135.4,1772.5 L1136.4,1767.8 L1137.4,1763 L1138.4,1757.9 L1139.4,1752.8 L1140.4,1747.6 L1141.4,1742.5 L1142.4,1737.3 L1143.4,1732.3 L1144.4,1727.2 L1145.4,1722.1 L1146.4,1716.9 L1147.4,1711.8 L1148.4,1706.8 L1149.4,1701.8 L1150.4,1697 L1151.4,1692.4 L1152.4,1687.9 L1153.4,1683.4 L1154.4,1679.1 L1155.4,1674.8 L1156.4,1670.6 L1157.4,1666.5 L1158.4,1662.5 L1159.4,1658.6 L1160.4,1654.8 L1161.4,1651.1 L1162.4,1647.4 L1163.4,1643.7 L1164.4,1640.1 L1165.4,1636.6 L1166.4,1633.2 L1167.4,1630 L1168.4,1626.9 L1169.4,1624 L1170.4,1621.3 L1171.4,1618.8 L1172.4,1616.3 L1173.4,1613.8 L1174.4,1611.5 L1175.4,1609.3 L1176.4,1607.2 L1177.4,1605.3 L1178.4,1603.6 L1179.4,1602.2 L1180.4,1601 L1181.4,1600 L1182.4,1599 L1183.4,1598.1 L1184.4,1597.2 L1185.4,1596.5 L1186.4,1595.9 L1187.4,1595.6 L1188.4,1595.4 L1189.4,1595.5 L1190.4,1595.7 L1191.4,1596 L1192.4,1596.4 L1193.4,1596.9 L1194.4,1597.5 L1195.4,1598.2 L1196.4,1599.6 L1197.4,1601.5 L1198.4,1604 L1199.4,1606.7 L1200.4,1609.7 L1201.4,1612.6 L1202.4,1615.6 L1203.4,1618.3 L1204.4,1621 L1205.4,1623.7 L1206.4,1626.5 L1207.4,1629.5 L1208.4,1632.5 L1209.4,1635.7 L1210.4,1639.1 L1211.4,1642.6 L1212.4,1646.4 L1213.4,1650.5 L1214.4,1654.8 L1215.4,1659.3 L1216.4,1663.9 L1217.4,1668.6 L1218.4,1673.3 L1219.4,1678 L1220.4,1682.8 L1221.4,1687.7 L1222.4,1692.7 L1223.4,1697.8 L1224.4,1702.9 L1225.4,1708 L1226.4,1713.1 L1227.4,1718.1 L1228.4,1723.1 L1229.4,1728.1 L1230.4,1733.1 L1231.4,1738.1 L1232.4,1743.1 L1233.4,1748.1 L1234.4,1753.1 L1235.4,1758.1 L1236.4,1763.1 L1237.4,1768.3 L1238.4,1773.4 L1239.4,1778.5 L1240.4,1783.6 L1241.4,1788.6 L1242.4,1793.5 L1243.4,1798.1 L1244.4,1802.7 L1245.4,1807.2 L1246.4,1811.6 L1247.4,1815.9 L1248.4,1820.1 L1249.4,1824.2 L1250.4,1828.1 L1251.4,1831.9 L1252.4,1835.5 L1253.4,1839 L1254.4,1842.4 L1255.4,1845.8 L1256.4,1849.1 L1257.4,1852.2 L1258.4,1855.2 L1259.4,1858.1 L1260.4,1860.9 L1261.4,1863.6 L1262.4,1866.1 L1263.4,1868.7 L1264.4,1871.1 L1265.4,1873.5 L1266.4,1875.8 L1267.4,1878 L1268.4,1880 L1269.4,1881.9 L1270.4,1883.5 L1271.4,1885 L1272.4,1886.3 L1273.4,1887.5 L1274.4,1888.6 L1275.4,1889.7 L1276.4,1890.8 L1277.4,1891.7 L1278.4,1892.7 L1279.4,1893.6 L1280.4,1894.4 L1281.4,1895.3 L1282.4,1896.1 L1283.4,1896.9 L1284.4,1897.7 L1285.4,1898.6 L1286.4,1899.4 L1287.4,1900.3 L1288.4,1901.2 L1289.4,1902 L1290.4,1902.7 L1291.4,1903.5 L1292.4,1904.1 L1293.4,1904.6 L1294.4,1905.1 L1295.4,1905.4 L1296.4,1905.7 L1297.4,1905.8 L1298.4,1906 L1299.4,1906.2 L1300.4,1906.4 L1301.4,1906.7 L1302.4,1907 L1303.4,1907.3 L1304.4,1907.7 L1305.4,1908 L1306.4,1908.4 L1307.4,1908.8 L1308.4,1909.1 L1309.4,1909.5 L1310.4,1909.8 L1311.4,1910.1 L1312.4,1910.3 L1313.4,1910.5 L1314.4,1910.6 L1315.4,1910.8 L1316.4,1910.9 L1317.4,1911.1 L1318.4,1911.2 L1319.4,1911.3 L1320.4,1911.5 L1321.4,1911.6 L1322.4,1911.7 L1323.4,1911.8 L1324.4,1911.9 L1325.4,1912 L1326.4,1912.1 L1327.4,1912.1 L1328.4,1912.2 L1329.4,1912.3 L1330.4,1912.4 L1331.4,1912.4 L1332.4,1912.5 L1333.4,1912.6 L1334.4,1912.7 L1335.4,1912.7 L1336.4,1912.8 L1337.4,1912.9 L1338.4,1912.9 L1339.4,1913 L1340.4,1913.1 L1341.4,1913.1 L1342.4,1913.2 L1343.4,1913.2 L1344.4,1913.3 L1345.4,1913.3 L1346.4,1913.3 L1347.4,1913.4 L1348.4,1913.4 L1349.4,1913.4 L1350.4,1913.4 L1351.4,1913.4 L1352.4,1913.4 L1353.4,1913.4 L1354.4,1913.4 L1355.4,1913.4 L1356.4,1913.4 L1357.4,1913.4 L1358.4,1913.4 L1359.4,1913.4 L1360.4,1913.3 L1361.4,1913.3 L1362.4,1913.3 L1363.4,1913.3 L1364.4,1913.3 L1365.4,1913.3 L1366.4,1913.3 L1367.4,1913.3 L1368.4,1913.2 L1369.4,1913.2 L1370.4,1913.2 L1371.4,1913.2 L1372.4,1913.2 L1373.4,1913.1 L1374.4,1913.1 L1375.4,1913.1 L1376.4,1913.1 L1377.4,1913.1 L1378.4,1913 L1379.4,1913 L1380.4,1913 L1381.4,1913 L1382.4,1912.9 L1383.4,1912.9 L1384.4,1912.8 L1385.4,1912.8 L1386.4,1912.7 L1387.4,1912.7 L1388.4,1912.6 L1389.4,1912.6 L1390.4,1912.5 L1391.4,1912.4 L1392.4,1912.3 L1393.4,1912.2 L1394.4,1912.1 L1395.4,1912 L1396.4,1911.9 L1397.4,1911.8 L1398.4,1911.7 L1399.4,1911.6 L1400.4,1911.4 L1401.4,1911.3 L1402.4,1911.1 L1403.4,1910.8 L1404.4,1910.5 L1405.4,1910.2 L1406.4,1909.9 L1407.4,1909.5 L1408.4,1909.1 L1409.4,1908.7 L1410.4,1908.3 L1411.4,1907.8 L1412.4,1907.4 L1413.4,1906.9 L1414.4,1906.4 L1415.4,1905.9 L1416.4,1905.4 L1417.4,1904.9 L1418.4,1904.4 L1419.4,1903.8 L1420.4,1903.2 L1421.4,1902.6 L1422.4,1902 L1423.4,1901.4 L1424.4,1900.7 L1425.4,1899.9 L1426.4,1899.2 L1427.4,1898.3 L1428.4,1897.5 L1429.4,1896.6 L1430.4,1895.6 L1431.4,1894.6 L1432.4,1893.5 L1433.4,1892.4 L1434.4,1891.1 L1435.4,1889.6 L1436.4,1887.9 L1437.4,1886.1 L1438.4,1884.1 L1439.4,1882 L1440.4,1879.9 L1441.4,1877.6 L1442.4,1875.2 L1443.4,1872.8 L1444.4,1870.3 L1445.4,1867.8 L1446.4,1865.2 L1447.4,1862.4 L1448.4,1859.5 L1449.4,1856.4 L1450.4,1853.1 L1451.4,1849.7 L1452.4,1846.3 L1453.4,1842.6 L1454.4,1838.9 L1455.4,1835.1 L1456.4,1831.2 L1457.4,1827.2 L1458.4,1823 L1459.4,1818.6 L1460.4,1813.9 L1461.4,1809.1 L1462.4,1804.1 L1463.4,1798.9 L1464.4,1793.7 L1465.4,1788.3 L1466.4,1782.9 L1467.4,1777.5 L1468.4,1772 L1469.4,1766.3 L1470.4,1760.4 L1471.4,1754.4 L1472.4,1748.2 L1473.4,1742.1 L1474.4,1735.9 L1475.4,1729.7 L1476.4,1723.5 L1477.4,1717.4 L1478.4,1711.4 L1479.4,1705.4 L1480.4,1699.3 L1481.4,1693.3 L1482.4,1687.2 L1483.4,1681.2 L1484.4,1675.2 L1485.4,1669.3 L1486.4,1663.4 L1487.4,1657.6 L1488.4,1651.9 L1489.4,1646.2 L1490.4,1640.6 L1491.4,1635 L1492.4,1629.5 L1493.4,1624 L1494.4,1618.6 L1495.4,1613.2 L1496.4,1608 L1497.4,1602.8 L1498.4,1597.8 L1499.4,1592.8 L1500.4,1587.7 L1501.4,1582.6 L1502.4,1577.6 L1503.4,1572.7 L1504.4,1568 L1505.4,1563.5 L1506.4,1559.2 L1507.4,1555.2 L1508.4,1551.5 L1509.4,1548.2 L1510.4,1544.9 L1511.4,1541.8 L1512.4,1538.9 L1513.4,1536.2 L1514.4,1533.6 L1515.4,1531.3 L1516.4,1529.3 L1517.4,1527.4 L1518.4,1525.5 L1519.4,1523.6 L1520.4,1521.8 L1521.4,1520.2 L1522.4,1518.9 L1523.4,1518 L1524.4,1517.5 L1525.4,1517.4 L1526.4,1517.7 L1527.4,1518.3 L1528.4,1519.1 L1529.4,1520.1 L1530.4,1521.2 L1531.4,1522.4 L1532.4,1523.7 L1533.4,1525 L1534.4,1526.6 L1535.4,1528.6 L1536.4,1530.8 L1537.4,1533.4 L1538.4,1536.1 L1539.4,1539.1 L1540.4,1542.1 L1541.4,1545.3 L1542.4,1548.8 L1543.4,1552.6 L1544.4,1556.8 L1545.4,1561.3 L1546.4,1566 L1547.4,1570.9 L1548.4,1576 L1549.4,1581.1 L1550.4,1586.4 L1551.4,1591.6 L1552.4,1596.9 L1553.4,1602.5 L1554.4,1608.3 L1555.4,1614.2 L1556.4,1620.3 L1557.4,1626.5 L1558.4,1632.7 L1559.4,1638.9 L1560.4,1645.1 L1561.4,1651.2 L1562.4,1657.2 L1563.4,1663.1 L1564.4,1669 L1565.4,1674.9 L1566.4,1680.8 L1567.4,1686.7 L1568.4,1692.7 L1569.4,1698.7 L1570.4,1704.9 L1571.4,1711.2 L1572.4,1717.6 L1573.4,1724.4 L1574.4,1731.5 L1575.4,1738.8 L1576.4,1746.1 L1577.4,1753.5 L1578.4,1760.8 L1579.4,1767.9 L1580.4,1774.8 L1581.4,1781.3 L1582.4,1787.3 L1583.4,1793 L1584.4,1798.5 L1585.4,1803.9 L1586.4,1809.1 L1587.4,1814.2 L1588.4,1819.1 L1589.4,1823.9 L1590.4,1828.5 L1591.4,1833 L1592.4,1837.4 L1593.4,1841.6 L1594.4,1845.8 L1595.4,1849.9 L1596.4,1854 L1597.4,1857.8 L1598.4,1861.6 L1599.4,1865.2 L1600.4,1868.7 L1601.4,1872 L1602.4,1875.1 L1603.4,1878.1 L1604.4,1881 L1605.4,1883.7 L1606.4,1886.3 L1607.4,1888.7 L1608.4,1890.7 L1609.4,1892.4 L1610.4,1893.8 L1611.4,1895.2 L1612.4,1896.5 L1613.4,1897.7 L1614.4,1898.8 L1615.4,1899.8 L1616.4,1900.7 L1617.4,1901.5 L1618.4,1902.3 L1619.4,1902.9 L1620.4,1903.5 L1621.4,1904 L1622.4,1904.5 L1623.4,1905 L1624.4,1905.4 L1625.4,1905.8 L1626.4,1906.1 L1627.4,1906.5 L1628.4,1906.9 L1629.4,1907.2 L1630.4,1907.6 L1631.4,1908 L1632.4,1908.5 L1633.4,1909 L1634.4,1909.5 L1635.4,1910 L1636.4,1910.6 L1637.4,1911.2 L1638.4,1911.7 L1639.4,1912.3 L1640.4,1912.8 L1641.4,1913.3 L1642.4,1913.7 L1643.4,1914.1 L1644.4,1914.4 L1645.4,1914.6 L1646.4,1914.8 L1647.4,1915 L1648.4,1915.1 L1649.4,1915.2 L1650.4,1915.3 L1651.4,1915.4 L1652.4,1915.5 L1653.4,1915.5 L1654.4,1915.6 L1655.4,1915.7 L1656.4,1915.8 L1657.4,1916 L1658.4,1916.1 L1659.4,1916.3 L1660.4,1916.5 L1661.4,1916.7 L1662.4,1917 L1663.4,1917.2 L1664.4,1917.5 L1665.4,1917.8 L1666.4,1918 L1667.4,1918.3 L1668.4,1918.6 L1669.4,1918.8 L1670.4,1919 L1671.4,1919.3 L1672.4,1919.5 L1673.4,1919.7 L1674.4,1919.9 L1675.4,1920.1 L1676.4,1920.4 L1677.4,1920.6 L1678.4,1920.8 L1679.4,1920.9 L1680.4,1921.1 L1681.4,1921.3 L1682.4,1921.4 L1683.4,1921.6 L1684.4,1921.8 L1685.4,1921.9 L1686.4,1922.1 L1687.4,1922.2 L1688.4,1922.3 L1689.4,1922.4 L1690.4,1922.5 L1691.4,1922.5 L1692.4,1922.5 L1693.4,1922.4 L1694.4,1922.3 L1695.4,1922.2 L1696.4,1922.1 L1697.4,1922 L1698.4,1921.9 L1699.4,1921.8 L1700.4,1921.7 L1701.4,1921.6 L1702.4,1921.6 L1703.4,1921.6 L1704.4,1921.7 L1705.4,1921.8 L1706.4,1922 L1707.4,1922.2 L1708.4,1922.4 L1709.4,1922.6 L1710.4,1922.8 L1711.4,1923 L1712.4,1923.1 L1713.4,1923.3 L1714.4,1923.4 L1715.4,1923.5 L1716.4,1923.7 L1717.4,1923.8 L1718.4,1923.9 L1719.4,1924.1 L1720.4,1924.2 L1721.4,1924.3 L1722.4,1924.4 L1723.4,1924.5 L1724.4,1924.6 L1725.4,1924.6 L1726.4,1924.7 L1727.4,1924.7 L1728.4,1924.7 L1729.4,1924.7 L1730.4,1924.7 L1731.4,1924.7 L1732.4,1924.7 L1733.4,1924.7 L1734.4,1924.7 L1735.4,1924.7 L1736.4,1924.7 L1737.4,1924.7 L1738.4,1924.7 L1739.4,1924.6 L1740.4,1924.6 L1741.4,1924.6 L1742.4,1924.6 L1743.4,1924.6 L1744.4,1924.5 L1745.4,1924.5 L1746.4,1924.5 L1747.4,1924.4 L1748.4,1924.4 L1749.4,1924.3 L1749.8,1924.3" fill="none" stroke="#000" stroke-width="3.8" stroke-linejoin="round" stroke-linecap="round" />
<path d="M1040.6,1898.3 L1042.1,1898.3 L1043.6,1898.3 L1045.1,1898.3 L1046.6,1898.3 L1048.1,1898.3 L1049.6,1898.3 L1051.1,1898.3 L1052.6,1898.3 L1054.1,1898.3 L1055.6,1898.3 L1057.1,1898.3 L1058.6,1898.3 L1060.1,1898.3 L1061.6,1898.3 L1063.1,1898.3 L1064.6,1898.3 L1066.1,1898.3 L1067.6,1898.4 L1069.1,1898.4 L1070.6,1898.4 L1072.1,1898.4 L1073.6,1898.4 L1075.1,1898.4 L1076.6,1898.4 L1078.1,1898.4 L1079.6,1898.4 L1081.1,1898.4 L1082.6,1898.4 L1084.1,1898.4 L1085.6,1898.4 L1087.1,1898.5 L1088.6,1898.5 L1090.1,1898.5 L1091.6,1898.5 L1093.1,1898.6 L1094.6,1898.6 L1096.1,1898.6 L1097.6,1898.6 L1099.1,1898.7 L1100.6,1898.7 L1102.1,1898.8 L1103.6,1898.8 L1105.1,1898.8 L1106.6,1898.9 L1108.1,1898.9 L1109.6,1899 L1111.1,1899 L1112.6,1899.1 L1114.1,1899.1 L1115.6,1899.2 L1117.1,1899.3 L1118.6,1899.3 L1120.1,1899.4 L1121.6,1899.4 L1123.1,1899.5 L1124.6,1899.6 L1126.1,1899.6 L1127.6,1899.7 L1129.1,1899.8 L1130.6,1899.9 L1132.1,1899.9 L1133.6,1900 L1135.1,1900.1 L1136.6,1900.2 L1138.1,1900.2 L1139.6,1900.3 L1141.1,1900.4 L1142.6,1900.5 L1144.1,1900.6 L1145.6,1900.6 L1147.1,1900.7 L1148.6,1900.9 L1150.1,1901 L1151.6,1901.1 L1153.1,1901.3 L1154.6,1901.5 L1156.1,1901.6 L1157.6,1901.8 L1159.1,1902 L1160.6,1902.2 L1162.1,1902.4 L1163.6,1902.7 L1165.1,1902.9 L1166.6,1903.1 L1168.1,1903.3 L1169.6,1903.6 L1171.1,1903.8 L1172.6,1904.1 L1174.1,1904.3 L1175.6,1904.6 L1177.1,1904.8 L1178.6,1905 L1180.1,1905.3 L1181.6,1905.5 L1183.1,1905.7 L1184.6,1906 L1186.1,1906.2 L1187.6,1906.4 L1189.1,1906.6 L1190.6,1906.8 L1192.1,1907 L1193.6,1907.1 L1195.1,1907.3 L1196.6,1907.5 L1198.1,1907.7 L1199.6,1907.8 L1201.1,1908 L1202.6,1908.2 L1204.1,1908.4 L1205.6,1908.5 L1207.1,1908.7 L1208.6,1908.9 L1210.1,1909.1 L1211.6,1909.2 L1213.1,1909.4 L1214.6,1909.6 L1216.1,1909.8 L1217.6,1909.9 L1219.1,1910.1 L1220.6,1910.2 L1222.1,1910.4 L1223.6,1910.5 L1225.1,1910.7 L1226.6,1910.8 L1228.1,1911 L1229.6,1911.1 L1231.1,1911.2 L1232.6,1911.3 L1234.1,1911.4 L1235.6,1911.6 L1237.1,1911.6 L1238.6,1911.7 L1240.1,1911.8 L1241.6,1911.9 L1243.1,1912 L1244.6,1912 L1246.1,1912.1 L1247.6,1912.1 L1249.1,1912.2 L1250.6,1912.3 L1252.1,1912.3 L1253.6,1912.4 L1255.1,1912.4 L1256.6,1912.5 L1258.1,1912.5 L1259.6,1912.6 L1261.1,1912.6 L1262.6,1912.7 L1264.1,1912.7 L1265.6,1912.8 L1267.1,1912.8 L1268.6,1912.8 L1270.1,1912.9 L1271.6,1912.9 L1273.1,1913 L1274.6,1913 L1276.1,1913 L1277.6,1913.1 L1279.1,1913.1 L1280.6,1913.1 L1282.1,1913.2 L1283.6,1913.2 L1285.1,1913.2 L1286.6,1913.3 L1288.1,1913.3 L1289.6,1913.3 L1291.1,1913.3 L1292.6,1913.4 L1294.1,1913.4 L1295.6,1913.4 L1297.1,1913.5 L1298.6,1913.5 L1300.1,1913.5 L1301.6,1913.5 L1303.1,1913.5 L1304.6,1913.6 L1306.1,1913.6 L1307.6,1913.6 L1309.1,1913.6 L1310.6,1913.7 L1312.1,1913.7 L1313.6,1913.7 L1315.1,1913.7 L1316.6,1913.7 L1318.1,1913.8 L1319.6,1913.8 L1321.1,1913.8 L1322.6,1913.8 L1324.1,1913.8 L1325.6,1913.8 L1327.1,1913.9 L1328.6,1913.9 L1330.1,1913.9 L1331.6,1913.9 L1333.1,1913.9 L1334.6,1913.9 L1336.1,1913.9 L1337.6,1914 L1339.1,1914 L1340.6,1914 L1342.1,1914 L1343.6,1914 L1345.1,1914 L1346.6,1914 L1348.1,1914 L1349.6,1914.1 L1351.1,1914.1 L1352.6,1914.1 L1354.1,1914.1 L1355.6,1914.1 L1357.1,1914.1 L1358.6,1914.1 L1360.1,1914.2 L1361.6,1914.2 L1363.1,1914.2 L1364.6,1914.2 L1366.1,1914.2 L1367.6,1914.2 L1369.1,1914.2 L1370.6,1914.2 L1372.1,1914.3 L1373.6,1914.3 L1375.1,1914.3 L1376.6,1914.3 L1378.1,1914.3 L1379.6,1914.3 L1381.1,1914.4 L1382.6,1914.4 L1384.1,1914.4 L1385.6,1914.4 L1387.1,1914.4 L1388.6,1914.4 L1390.1,1914.5 L1391.6,1914.5 L1393.1,1914.5 L1394.6,1914.5 L1396.1,1914.5 L1397.6,1914.6 L1399.1,1914.6 L1400.6,1914.6 L1402.1,1914.6 L1403.6,1914.7 L1405.1,1914.7 L1406.6,1914.7 L1408.1,1914.7 L1409.6,1914.8 L1411.1,1914.8 L1412.6,1914.8 L1414.1,1914.8 L1415.6,1914.9 L1417.1,1914.9 L1418.6,1914.9 L1420.1,1915 L1421.6,1915 L1423.1,1915 L1424.6,1915 L1426.1,1915.1 L1427.6,1915.1 L1429.1,1915.1 L1430.6,1915.2 L1432.1,1915.2 L1433.6,1915.2 L1435.1,1915.3 L1436.6,1915.3 L1438.1,1915.3 L1439.6,1915.4 L1441.1,1915.4 L1442.6,1915.5 L1444.1,1915.5 L1445.6,1915.5 L1447.1,1915.6 L1448.6,1915.6 L1450.1,1915.6 L1451.6,1915.7 L1453.1,1915.7 L1454.6,1915.8 L1456.1,1915.8 L1457.6,1915.8 L1459.1,1915.9 L1460.6,1915.9 L1462.1,1916 L1463.6,1916 L1465.1,1916 L1466.6,1916.1 L1468.1,1916.1 L1469.6,1916.2 L1471.1,1916.2 L1472.6,1916.2 L1474.1,1916.3 L1475.6,1916.3 L1477.1,1916.4 L1478.6,1916.4 L1480.1,1916.5 L1481.6,1916.5 L1483.1,1916.5 L1484.6,1916.6 L1486.1,1916.6 L1487.6,1916.7 L1489.1,1916.7 L1490.6,1916.8 L1492.1,1916.8 L1493.6,1916.8 L1495.1,1916.9 L1496.6,1916.9 L1498.1,1917 L1499.6,1917 L1501.1,1917.1 L1502.6,1917.1 L1504.1,1917.2 L1505.6,1917.2 L1507.1,1917.2 L1508.6,1917.3 L1510.1,1917.3 L1511.6,1917.4 L1513.1,1917.4 L1514.6,1917.5 L1516.1,1917.5 L1517.6,1917.5 L1519.1,1917.6 L1520.6,1917.6 L1522.1,1917.7 L1523.6,1917.7 L1525.1,1917.8 L1526.6,1917.8 L1528.1,1917.9 L1529.6,1917.9 L1531.1,1917.9 L1532.6,1918 L1534.1,1918 L1535.6,1918.1 L1537.1,1918.1 L1538.6,1918.2 L1540.1,1918.2 L1541.6,1918.3 L1543.1,1918.4 L1544.6,1918.4 L1546.1,1918.5 L1547.6,1918.5 L1549.1,1918.6 L1550.6,1918.6 L1552.1,1918.7 L1553.6,1918.7 L1555.1,1918.8 L1556.6,1918.8 L1558.1,1918.9 L1559.6,1918.9 L1561.1,1919 L1562.6,1919.1 L1564.1,1919.1 L1565.6,1919.2 L1567.1,1919.2 L1568.6,1919.3 L1570.1,1919.3 L1571.6,1919.4 L1573.1,1919.4 L1574.6,1919.5 L1576.1,1919.5 L1577.6,1919.6 L1579.1,1919.6 L1580.6,1919.7 L1582.1,1919.7 L1583.6,1919.8 L1585.1,1919.8 L1586.6,1919.9 L1588.1,1919.9 L1589.6,1919.9 L1591.1,1920 L1592.6,1920 L1594.1,1920.1 L1595.6,1920.1 L1597.1,1920.1 L1598.6,1920.2 L1600.1,1920.2 L1601.6,1920.2 L1603.1,1920.3 L1604.6,1920.3 L1606.1,1920.3 L1607.6,1920.4 L1609.1,1920.4 L1610.6,1920.4 L1612.1,1920.4 L1613.6,1920.5 L1615.1,1920.5 L1616.6,1920.5 L1618.1,1920.5 L1619.6,1920.5 L1621.1,1920.6 L1622.6,1920.6 L1624.1,1920.6 L1625.6,1920.6 L1627.1,1920.7 L1628.6,1920.7 L1630.1,1920.7 L1631.6,1920.7 L1633.1,1920.8 L1634.6,1920.8 L1636.1,1920.8 L1637.6,1920.9 L1639.1,1920.9 L1640.6,1920.9 L1642.1,1920.9 L1643.6,1921 L1645.1,1921 L1646.6,1921.1 L1648.1,1921.1 L1649.6,1921.1 L1651.1,1921.2 L1652.6,1921.2 L1654.1,1921.2 L1655.6,1921.3 L1657.1,1921.3 L1658.6,1921.4 L1660.1,1921.4 L1661.6,1921.4 L1663.1,1921.5 L1664.6,1921.5 L1666.1,1921.6 L1667.6,1921.6 L1669.1,1921.7 L1670.6,1921.7 L1672.1,1921.8 L1673.6,1921.8 L1675.1,1921.9 L1676.6,1921.9 L1678.1,1922 L1679.5,1922" fill="none" stroke="#138a40" stroke-width="4.2" stroke-linejoin="round" stroke-linecap="round" />
<rect x="957.2" y="1432" width="795.2" height="591.5" fill="none" stroke="#000" stroke-width="4"/>
<line x1="957.2" y1="2023.5" x2="957.2" y2="2036" stroke="#000" stroke-width="4"/>
<line x1="1084.4" y1="2023.5" x2="1084.4" y2="2036" stroke="#000" stroke-width="4"/>
<line x1="1211.6" y1="2023.5" x2="1211.6" y2="2036" stroke="#000" stroke-width="4"/>
<line x1="1338.8" y1="2023.5" x2="1338.8" y2="2036" stroke="#000" stroke-width="4"/>
<line x1="1466" y1="2023.5" x2="1466" y2="2036" stroke="#000" stroke-width="4"/>
<line x1="1593.2" y1="2023.5" x2="1593.2" y2="2036" stroke="#000" stroke-width="4"/>
<line x1="1720.4" y1="2023.5" x2="1720.4" y2="2036" stroke="#000" stroke-width="4"/>
<line x1="1020.8" y1="2023.5" x2="1020.8" y2="2030.5" stroke="#000" stroke-width="3.6"/>
<line x1="1148" y1="2023.5" x2="1148" y2="2030.5" stroke="#000" stroke-width="3.6"/>
<line x1="1275.2" y1="2023.5" x2="1275.2" y2="2030.5" stroke="#000" stroke-width="3.6"/>
<line x1="1402.4" y1="2023.5" x2="1402.4" y2="2030.5" stroke="#000" stroke-width="3.6"/>
<line x1="1529.6" y1="2023.5" x2="1529.6" y2="2030.5" stroke="#000" stroke-width="3.6"/>
<line x1="1656.8" y1="2023.5" x2="1656.8" y2="2030.5" stroke="#000" stroke-width="3.6"/>
<text x="957.2" y="2062.7" font-size="24" text-anchor="middle" >168</text>
<text x="1084.4" y="2062.7" font-size="24" text-anchor="middle" >166</text>
<text x="1211.6" y="2062.7" font-size="24" text-anchor="middle" >164</text>
<text x="1338.8" y="2062.7" font-size="24" text-anchor="middle" >162</text>
<text x="1466" y="2062.7" font-size="24" text-anchor="middle" >160</text>
<text x="1593.2" y="2062.7" font-size="24" text-anchor="middle" >158</text>
<text x="1720.4" y="2062.7" font-size="24" text-anchor="middle" >156</text>
<text x="1354.8" y="2113.5" font-size="30" text-anchor="middle" letter-spacing="0.4">Binding energy (eV)</text>
<text x="915" y="1738.3" font-size="30" text-anchor="middle" transform="rotate(-90 915 1738.3)" letter-spacing="0.25">Intensity (a.u.)</text>
<text x="972.1" y="1470" font-size="30" text-anchor="start" letter-spacing="0.6">(f)</text>
<text x="1737" y="1481.3" font-size="31" text-anchor="end" >Bi 4f</text>
<text x="1136.4" y="1546.9" font-size="27" text-anchor="start" letter-spacing="0.15">164.37 eV</text>
<text x="1154.1" y="1582.3" font-size="27" text-anchor="start" letter-spacing="0.15">Bi 4f<tspan font-size="17" dy="8" letter-spacing="0">5/2</tspan></text>
<text x="1470" y="1473.1" font-size="27" text-anchor="start" letter-spacing="0.15">159.07 eV</text>
<text x="1496.6" y="1505.6" font-size="27" text-anchor="start" letter-spacing="0.15">Bi 4f<tspan font-size="17" dy="8" letter-spacing="0">7/2</tspan></text>
</g>
</svg>
</body></html>
